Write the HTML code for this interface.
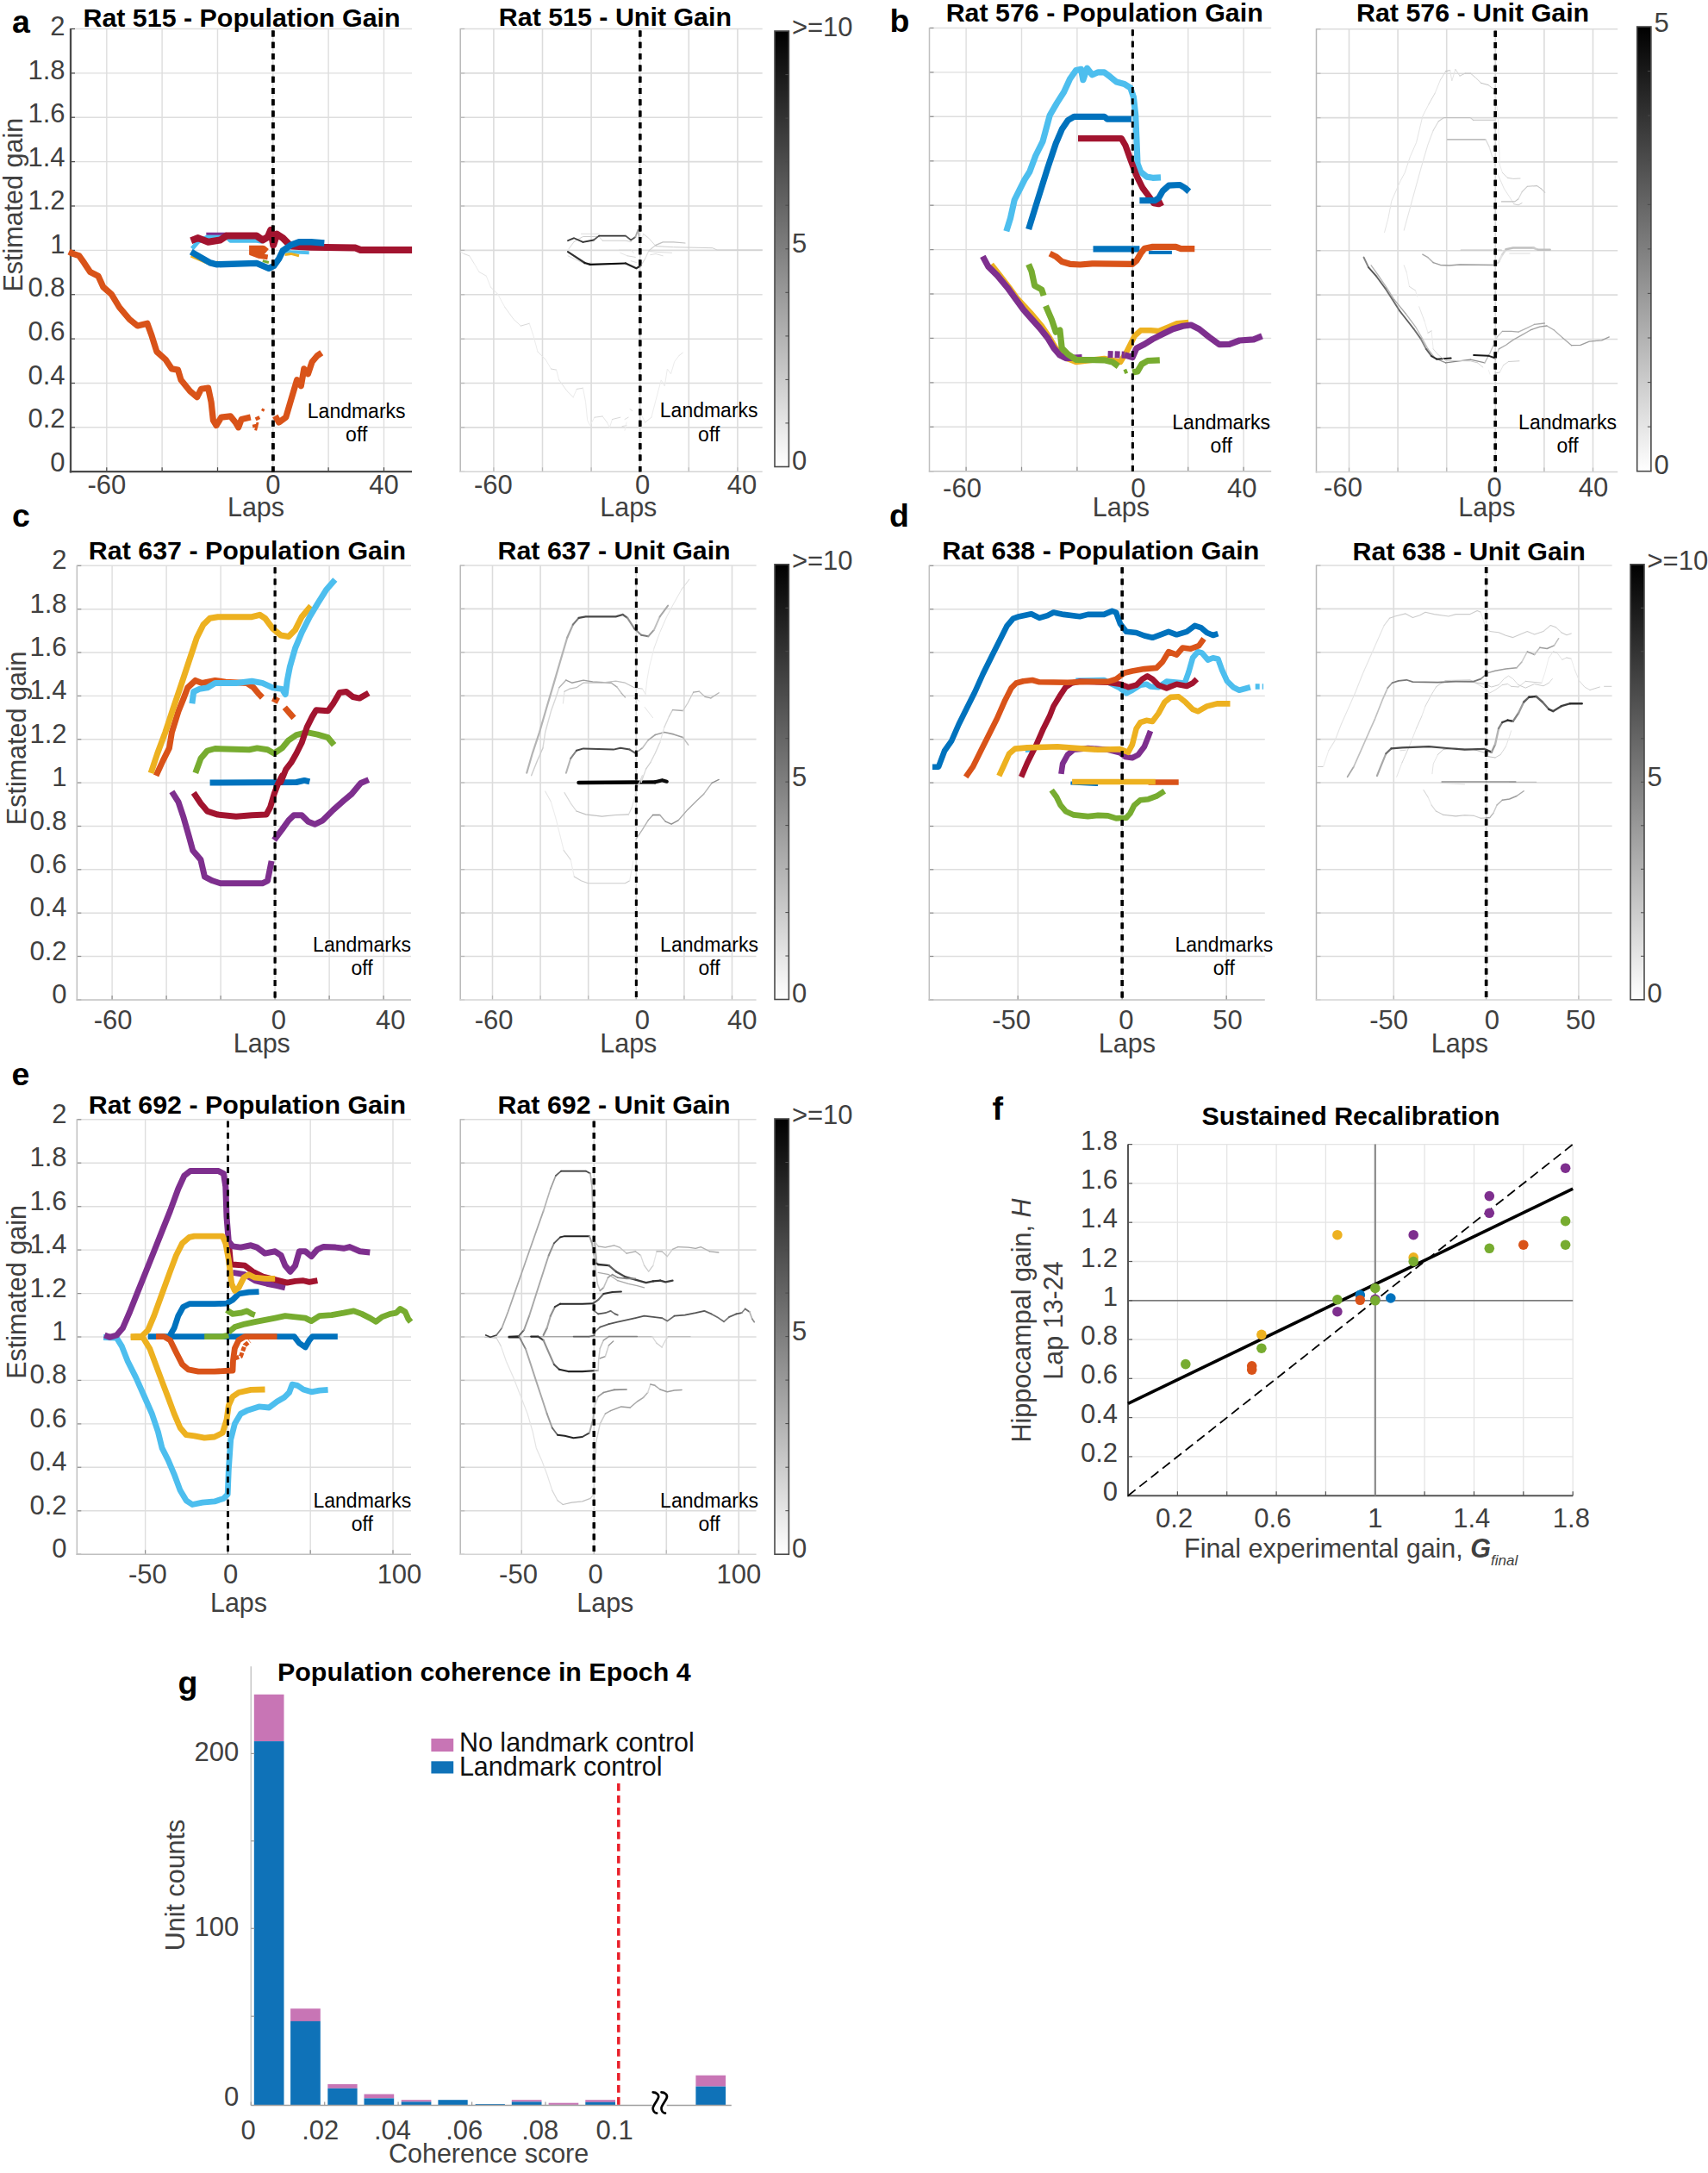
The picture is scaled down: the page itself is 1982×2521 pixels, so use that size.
<!DOCTYPE html>
<html><head><meta charset="utf-8"><title>Figure</title>
<style>html,body{margin:0;padding:0;background:#fff}svg{display:block}</style>
</head><body>
<svg width="1982" height="2521" viewBox="0 0 1982 2521" font-family='"Liberation Sans", sans-serif'>
<defs><linearGradient id="cb" x1="0" y1="0" x2="0" y2="1"><stop offset="0" stop-color="#000"/><stop offset="0.5" stop-color="#7f7f7f"/><stop offset="1" stop-color="#fff"/></linearGradient></defs>
<rect width="1982" height="2521" fill="#fff"/>
<line x1="123.8" y1="33.5" x2="123.8" y2="547.2" stroke="#dedede" stroke-width="1.4" />
<line x1="123.8" y1="547.2" x2="123.8" y2="542.2" stroke="#4a4a4a" stroke-width="1.2" />
<line x1="188.1" y1="33.5" x2="188.1" y2="547.2" stroke="#dedede" stroke-width="1.4" />
<line x1="188.1" y1="547.2" x2="188.1" y2="542.2" stroke="#4a4a4a" stroke-width="1.2" />
<line x1="252.5" y1="33.5" x2="252.5" y2="547.2" stroke="#dedede" stroke-width="1.4" />
<line x1="252.5" y1="547.2" x2="252.5" y2="542.2" stroke="#4a4a4a" stroke-width="1.2" />
<line x1="316.8" y1="33.5" x2="316.8" y2="547.2" stroke="#dedede" stroke-width="1.4" />
<line x1="316.8" y1="547.2" x2="316.8" y2="542.2" stroke="#4a4a4a" stroke-width="1.2" />
<line x1="381.1" y1="33.5" x2="381.1" y2="547.2" stroke="#dedede" stroke-width="1.4" />
<line x1="381.1" y1="547.2" x2="381.1" y2="542.2" stroke="#4a4a4a" stroke-width="1.2" />
<line x1="445.5" y1="33.5" x2="445.5" y2="547.2" stroke="#dedede" stroke-width="1.4" />
<line x1="445.5" y1="547.2" x2="445.5" y2="542.2" stroke="#4a4a4a" stroke-width="1.2" />
<line x1="82" y1="547.2" x2="87" y2="547.2" stroke="#4a4a4a" stroke-width="1.2" />
<line x1="82" y1="495.8" x2="478" y2="495.8" stroke="#dedede" stroke-width="1.4" />
<line x1="82" y1="495.8" x2="87" y2="495.8" stroke="#4a4a4a" stroke-width="1.2" />
<line x1="82" y1="444.5" x2="478" y2="444.5" stroke="#dedede" stroke-width="1.4" />
<line x1="82" y1="444.5" x2="87" y2="444.5" stroke="#4a4a4a" stroke-width="1.2" />
<line x1="82" y1="393.1" x2="478" y2="393.1" stroke="#dedede" stroke-width="1.4" />
<line x1="82" y1="393.1" x2="87" y2="393.1" stroke="#4a4a4a" stroke-width="1.2" />
<line x1="82" y1="341.7" x2="478" y2="341.7" stroke="#dedede" stroke-width="1.4" />
<line x1="82" y1="341.7" x2="87" y2="341.7" stroke="#4a4a4a" stroke-width="1.2" />
<line x1="82" y1="290.4" x2="478" y2="290.4" stroke="#dedede" stroke-width="1.4" />
<line x1="82" y1="290.4" x2="87" y2="290.4" stroke="#4a4a4a" stroke-width="1.2" />
<line x1="82" y1="239" x2="478" y2="239" stroke="#dedede" stroke-width="1.4" />
<line x1="82" y1="239" x2="87" y2="239" stroke="#4a4a4a" stroke-width="1.2" />
<line x1="82" y1="187.6" x2="478" y2="187.6" stroke="#dedede" stroke-width="1.4" />
<line x1="82" y1="187.6" x2="87" y2="187.6" stroke="#4a4a4a" stroke-width="1.2" />
<line x1="82" y1="136.2" x2="478" y2="136.2" stroke="#dedede" stroke-width="1.4" />
<line x1="82" y1="136.2" x2="87" y2="136.2" stroke="#4a4a4a" stroke-width="1.2" />
<line x1="82" y1="84.9" x2="478" y2="84.9" stroke="#dedede" stroke-width="1.4" />
<line x1="82" y1="84.9" x2="87" y2="84.9" stroke="#4a4a4a" stroke-width="1.2" />
<line x1="82" y1="33.5" x2="478" y2="33.5" stroke="#dedede" stroke-width="1.4" />
<line x1="82" y1="33.5" x2="87" y2="33.5" stroke="#4a4a4a" stroke-width="1.2" />
<line x1="82" y1="33" x2="82" y2="548.4" stroke="#4a4a4a" stroke-width="2.3" />
<line x1="80.8" y1="547.2" x2="478" y2="547.2" stroke="#4a4a4a" stroke-width="2.3" />
<line x1="316.8" y1="35.5" x2="316.8" y2="547.2" stroke="#000" stroke-width="3.6" stroke-dasharray="7 6.3"/>
<text x="123.8" y="573.3" font-size="31" text-anchor="middle" font-weight="normal" fill="#404040" >-60</text>
<text x="316.8" y="573.3" font-size="31" text-anchor="middle" font-weight="normal" fill="#404040" >0</text>
<text x="445.5" y="573.3" font-size="31" text-anchor="middle" font-weight="normal" fill="#404040" >40</text>
<text x="297" y="598.8" font-size="30.5" text-anchor="middle" font-weight="normal" fill="#404040" >Laps</text>
<text x="280.5" y="30.6" font-size="30.4" text-anchor="middle" font-weight="bold" fill="#000" >Rat 515 - Population Gain</text>
<text x="75.5" y="546.6" font-size="31" text-anchor="end" font-weight="normal" fill="#404040" >0</text>
<text x="75.5" y="496" font-size="31" text-anchor="end" font-weight="normal" fill="#404040" >0.2</text>
<text x="75.5" y="445.5" font-size="31" text-anchor="end" font-weight="normal" fill="#404040" >0.4</text>
<text x="75.5" y="394.9" font-size="31" text-anchor="end" font-weight="normal" fill="#404040" >0.6</text>
<text x="75.5" y="344.3" font-size="31" text-anchor="end" font-weight="normal" fill="#404040" >0.8</text>
<text x="75.5" y="293.8" font-size="31" text-anchor="end" font-weight="normal" fill="#404040" >1</text>
<text x="75.5" y="243.2" font-size="31" text-anchor="end" font-weight="normal" fill="#404040" >1.2</text>
<text x="75.5" y="192.6" font-size="31" text-anchor="end" font-weight="normal" fill="#404040" >1.4</text>
<text x="75.5" y="142" font-size="31" text-anchor="end" font-weight="normal" fill="#404040" >1.6</text>
<text x="75.5" y="91.5" font-size="31" text-anchor="end" font-weight="normal" fill="#404040" >1.8</text>
<text x="75.5" y="40.9" font-size="31" text-anchor="end" font-weight="normal" fill="#404040" >2</text>
<text x="26.5" y="237.7" font-size="30.5" text-anchor="middle" font-weight="normal" fill="#404040" transform="rotate(-90 26.5 237.7)">Estimated gain</text>
<text x="413.7" y="485.1" font-size="23" text-anchor="middle" font-weight="normal" fill="#000" >Landmarks</text>
<text x="413.7" y="512.4" font-size="23" text-anchor="middle" font-weight="normal" fill="#000" >off</text>
<polyline points="222.9,288.5 229.9,280.4 241.6,274.5 262.7,274.5 267.4,279.2 297.8,279.2 304.8,280.4" fill="none" stroke="#4DBEEE" stroke-width="5" stroke-linejoin="round" stroke-linecap="butt"/>
<polyline points="328.2,291.4 337.6,292.3 358.7,293.2" fill="none" stroke="#4DBEEE" stroke-width="4" stroke-linejoin="round" stroke-linecap="butt"/>
<polyline points="221.7,296.7 243.9,306.1 253.3,304.5" fill="none" stroke="#EDB120" stroke-width="4" stroke-linejoin="round" stroke-linecap="butt"/>
<polyline points="330.6,295.6 337.6,294.4 347,296.7" fill="none" stroke="#EDB120" stroke-width="3" stroke-linejoin="round" stroke-linecap="butt"/>
<polyline points="239.3,271.2 262.7,271.2" fill="none" stroke="#7E2F8E" stroke-width="3" stroke-linejoin="round" stroke-linecap="butt"/>
<polyline points="289.1,290.2 304.8,290.2 308.3,293.2" fill="none" stroke="#D95319" stroke-width="11" stroke-linejoin="round" stroke-linecap="butt"/>
<polyline points="290.8,293.2 300.1,296.7 310.7,298.4" fill="none" stroke="#D95319" stroke-width="6" stroke-linejoin="round" stroke-linecap="butt"/>
<polyline points="304.8,302.6 311.9,304.5" fill="none" stroke="#77AC30" stroke-width="3" stroke-linejoin="round" stroke-linecap="butt"/>
<polyline points="80,292.1 84.7,294.4 91.7,296.7 97.6,304.9 104.6,315.5 114,320.2 119.8,333 129.2,341.2 138.5,356.5 150.3,370.5 159.6,378 170.9,375.2 176,389.3 181.9,408 192.4,417.4 199.4,427.9 206.5,429.1 210,440.8 220.5,453.7 228.7,460.7 233.4,451.3 241.6,450.1 245.1,466.5 247.4,487.6 251,493.5 256.8,484.1 267.4,482.9 273.2,490 276.7,495.8 280.2,486.4 290.8,484.1" fill="none" stroke="#D95319" stroke-width="7.2" stroke-linejoin="round" stroke-linecap="butt"/>
<polyline points="293.1,494.6 299,493.5" fill="none" stroke="#D95319" stroke-width="4" stroke-linejoin="round" stroke-linecap="butt"/>
<polyline points="296.6,486.4 301.3,484.1" fill="none" stroke="#D95319" stroke-width="4" stroke-linejoin="round" stroke-linecap="butt"/>
<polyline points="303.7,474.7 306.7,476.4" fill="none" stroke="#D95319" stroke-width="3" stroke-linejoin="round" stroke-linecap="butt"/>
<polyline points="296.6,499.3 299,490" fill="none" stroke="#D95319" stroke-width="3" stroke-linejoin="round" stroke-linecap="butt"/>
<polyline points="319.3,482.5 323.6,490 331.8,484.1 337.6,464.2 344.6,440.8 349.3,447.8 352.8,427.9 357.5,433.7 362.2,419.7 368.1,412.7 373.2,409.2" fill="none" stroke="#D95319" stroke-width="7.2" stroke-linejoin="round" stroke-linecap="butt"/>
<polyline points="221.7,279.2 229.9,276.1 241.6,280.8 255.6,278.5 262.7,273.6 297.8,273.6 304.8,278.5 310.7,275 314.2,266.8 317.2,284.3 321.2,271.5 328.2,276.1 332.9,280.8 337.6,285.5 361,286.7 412.6,287.6 418.4,290 478.1,290" fill="none" stroke="#A2142F" stroke-width="8" stroke-linejoin="round" stroke-linecap="butt"/>
<polyline points="221.7,292.1 243.9,304.9 251,306.8 297.8,305.4 311.9,311.3 317.7,308.5 323.6,300.3 328.2,290.9 337.6,284.3 347,280.8 361,280.8 376.3,282" fill="none" stroke="#0072BD" stroke-width="7.4" stroke-linejoin="round" stroke-linecap="butt"/>
<line x1="316.8" y1="35.5" x2="316.8" y2="547.2" stroke="#000" stroke-width="3.6" stroke-dasharray="7 6.3"/>
<line x1="572.9" y1="33.5" x2="572.9" y2="547.3" stroke="#dcdcdc" stroke-width="1.6" />
<line x1="572.9" y1="547.3" x2="572.9" y2="542.3" stroke="#b8b8b8" stroke-width="1.2" />
<line x1="629.5" y1="33.5" x2="629.5" y2="547.3" stroke="#dcdcdc" stroke-width="1.6" />
<line x1="629.5" y1="547.3" x2="629.5" y2="542.3" stroke="#b8b8b8" stroke-width="1.2" />
<line x1="686.1" y1="33.5" x2="686.1" y2="547.3" stroke="#dcdcdc" stroke-width="1.6" />
<line x1="686.1" y1="547.3" x2="686.1" y2="542.3" stroke="#b8b8b8" stroke-width="1.2" />
<line x1="742.7" y1="33.5" x2="742.7" y2="547.3" stroke="#dcdcdc" stroke-width="1.6" />
<line x1="742.7" y1="547.3" x2="742.7" y2="542.3" stroke="#b8b8b8" stroke-width="1.2" />
<line x1="799.3" y1="33.5" x2="799.3" y2="547.3" stroke="#dcdcdc" stroke-width="1.6" />
<line x1="799.3" y1="547.3" x2="799.3" y2="542.3" stroke="#b8b8b8" stroke-width="1.2" />
<line x1="855.9" y1="33.5" x2="855.9" y2="547.3" stroke="#dcdcdc" stroke-width="1.6" />
<line x1="855.9" y1="547.3" x2="855.9" y2="542.3" stroke="#b8b8b8" stroke-width="1.2" />
<line x1="534.2" y1="547.3" x2="539.2" y2="547.3" stroke="#b8b8b8" stroke-width="1.2" />
<line x1="534.2" y1="495.9" x2="884.7" y2="495.9" stroke="#dcdcdc" stroke-width="1.6" />
<line x1="534.2" y1="495.9" x2="539.2" y2="495.9" stroke="#b8b8b8" stroke-width="1.2" />
<line x1="534.2" y1="444.5" x2="884.7" y2="444.5" stroke="#dcdcdc" stroke-width="1.6" />
<line x1="534.2" y1="444.5" x2="539.2" y2="444.5" stroke="#b8b8b8" stroke-width="1.2" />
<line x1="534.2" y1="393.2" x2="884.7" y2="393.2" stroke="#dcdcdc" stroke-width="1.6" />
<line x1="534.2" y1="393.2" x2="539.2" y2="393.2" stroke="#b8b8b8" stroke-width="1.2" />
<line x1="534.2" y1="341.8" x2="884.7" y2="341.8" stroke="#dcdcdc" stroke-width="1.6" />
<line x1="534.2" y1="341.8" x2="539.2" y2="341.8" stroke="#b8b8b8" stroke-width="1.2" />
<line x1="534.2" y1="290.4" x2="884.7" y2="290.4" stroke="#dcdcdc" stroke-width="1.6" />
<line x1="534.2" y1="290.4" x2="539.2" y2="290.4" stroke="#b8b8b8" stroke-width="1.2" />
<line x1="534.2" y1="239" x2="884.7" y2="239" stroke="#dcdcdc" stroke-width="1.6" />
<line x1="534.2" y1="239" x2="539.2" y2="239" stroke="#b8b8b8" stroke-width="1.2" />
<line x1="534.2" y1="187.6" x2="884.7" y2="187.6" stroke="#dcdcdc" stroke-width="1.6" />
<line x1="534.2" y1="187.6" x2="539.2" y2="187.6" stroke="#b8b8b8" stroke-width="1.2" />
<line x1="534.2" y1="136.3" x2="884.7" y2="136.3" stroke="#dcdcdc" stroke-width="1.6" />
<line x1="534.2" y1="136.3" x2="539.2" y2="136.3" stroke="#b8b8b8" stroke-width="1.2" />
<line x1="534.2" y1="84.9" x2="884.7" y2="84.9" stroke="#dcdcdc" stroke-width="1.6" />
<line x1="534.2" y1="84.9" x2="539.2" y2="84.9" stroke="#b8b8b8" stroke-width="1.2" />
<line x1="534.2" y1="33.5" x2="884.7" y2="33.5" stroke="#dcdcdc" stroke-width="1.6" />
<line x1="534.2" y1="33.5" x2="539.2" y2="33.5" stroke="#b8b8b8" stroke-width="1.2" />
<line x1="534.2" y1="33" x2="534.2" y2="548" stroke="#b8b8b8" stroke-width="1.5" />
<line x1="533.5" y1="547.3" x2="884.7" y2="547.3" stroke="#d4d4d4" stroke-width="1.5" />
<line x1="742.7" y1="35.5" x2="742.7" y2="547.3" stroke="#000" stroke-width="3.4" stroke-dasharray="7 6.3"/>
<text x="572.3" y="572.5" font-size="31" text-anchor="middle" font-weight="normal" fill="#404040" >-60</text>
<text x="745.7" y="572.5" font-size="31" text-anchor="middle" font-weight="normal" fill="#404040" >0</text>
<text x="860.9" y="572.5" font-size="31" text-anchor="middle" font-weight="normal" fill="#404040" >40</text>
<text x="729.3" y="599" font-size="30.5" text-anchor="middle" font-weight="normal" fill="#404040" >Laps</text>
<text x="713.9" y="30.4" font-size="30.4" text-anchor="middle" font-weight="bold" fill="#000" >Rat 515 - Unit Gain</text>
<text x="822.7" y="484.2" font-size="23" text-anchor="middle" font-weight="normal" fill="#000" >Landmarks</text>
<text x="822.7" y="511.5" font-size="23" text-anchor="middle" font-weight="normal" fill="#000" >off</text>
<polyline points="660.1,288.6 666.2,280.4" fill="none" stroke="#d8d8d8" stroke-width="1.0" stroke-linejoin="round" stroke-linecap="round"/>
<polyline points="666.2,280.4 676.5,274.5 695.1,274.5" fill="none" stroke="#cccccc" stroke-width="1.0" stroke-linejoin="round" stroke-linecap="round"/>
<polyline points="695.1,274.5 699.2,279.2" fill="none" stroke="#d8d8d8" stroke-width="1.0" stroke-linejoin="round" stroke-linecap="round"/>
<polyline points="699.2,279.2 726,279.2 732.2,280.4" fill="none" stroke="#cccccc" stroke-width="1.0" stroke-linejoin="round" stroke-linecap="round"/>
<polyline points="752.8,291.4 761,292.3 779.5,293.3" fill="none" stroke="#d8d8d8" stroke-width="0.9" stroke-linejoin="round" stroke-linecap="round"/>
<polyline points="659,296.8 678.6,306.2 686.8,304.5" fill="none" stroke="#d8d8d8" stroke-width="0.9" stroke-linejoin="round" stroke-linecap="round"/>
<polyline points="754.8,295.6 761,294.5 769.2,296.8" fill="none" stroke="#d8d8d8" stroke-width="0.9" stroke-linejoin="round" stroke-linecap="round"/>
<polyline points="674.5,271.3 695.1,271.3" fill="none" stroke="#d8d8d8" stroke-width="0.9" stroke-linejoin="round" stroke-linecap="round"/>
<polyline points="718.4,290.2 732.2,290.2" fill="none" stroke="#d8d8d8" stroke-width="1.0" stroke-linejoin="round" stroke-linecap="round"/>
<polyline points="732.2,290.2 735.3,293.3" fill="none" stroke="#e4e4e4" stroke-width="1.0" stroke-linejoin="round" stroke-linecap="round"/>
<polyline points="719.8,293.3 728,296.8" fill="none" stroke="#e4e4e4" stroke-width="1.0" stroke-linejoin="round" stroke-linecap="round"/>
<polyline points="728,296.8 737.3,298.4" fill="none" stroke="#d8d8d8" stroke-width="1.0" stroke-linejoin="round" stroke-linecap="round"/>
<polyline points="732.2,302.7 738.3,304.5" fill="none" stroke="#d8d8d8" stroke-width="0.9" stroke-linejoin="round" stroke-linecap="round"/>
<polyline points="534.4,292.1 538.5,294.5" fill="none" stroke="#e4e4e4" stroke-width="1.0" stroke-linejoin="round" stroke-linecap="round"/>
<polyline points="538.5,294.5 544.7,296.8" fill="none" stroke="#d8d8d8" stroke-width="1.0" stroke-linejoin="round" stroke-linecap="round"/>
<polyline points="544.7,296.8 549.8,305" fill="none" stroke="#e4e4e4" stroke-width="1.0" stroke-linejoin="round" stroke-linecap="round"/>
<polyline points="549.8,305 556,315.5" fill="none" stroke="#ececec" stroke-width="1.0" stroke-linejoin="round" stroke-linecap="round"/>
<polyline points="556,315.5 564.3,320.2" fill="none" stroke="#e4e4e4" stroke-width="1.0" stroke-linejoin="round" stroke-linecap="round"/>
<polyline points="564.3,320.2 569.4,333.1" fill="none" stroke="#ececec" stroke-width="1.0" stroke-linejoin="round" stroke-linecap="round"/>
<polyline points="569.4,333.1 577.7,341.3" fill="none" stroke="#e4e4e4" stroke-width="1.0" stroke-linejoin="round" stroke-linecap="round"/>
<polyline points="577.7,341.3 585.9,356.5" fill="none" stroke="#ececec" stroke-width="1.0" stroke-linejoin="round" stroke-linecap="round"/>
<polyline points="585.9,356.5 596.2,370.6 604.4,378.1" fill="none" stroke="#e4e4e4" stroke-width="1.0" stroke-linejoin="round" stroke-linecap="round"/>
<polyline points="604.4,378.1 614.3,375.3" fill="none" stroke="#d8d8d8" stroke-width="1.0" stroke-linejoin="round" stroke-linecap="round"/>
<polyline points="614.3,375.3 618.9,389.3 624,408.1" fill="none" stroke="#ececec" stroke-width="1.0" stroke-linejoin="round" stroke-linecap="round"/>
<polyline points="624,408.1 633.3,417.4" fill="none" stroke="#e4e4e4" stroke-width="1.0" stroke-linejoin="round" stroke-linecap="round"/>
<polyline points="633.3,417.4 639.5,428" fill="none" stroke="#ececec" stroke-width="1.0" stroke-linejoin="round" stroke-linecap="round"/>
<polyline points="639.5,428 645.6,429.1" fill="none" stroke="#d8d8d8" stroke-width="1.0" stroke-linejoin="round" stroke-linecap="round"/>
<polyline points="645.6,429.1 648.7,440.9" fill="none" stroke="#ececec" stroke-width="1.0" stroke-linejoin="round" stroke-linecap="round"/>
<polyline points="648.7,440.9 658,453.7 665.2,460.8" fill="none" stroke="#e4e4e4" stroke-width="1.0" stroke-linejoin="round" stroke-linecap="round"/>
<polyline points="665.2,460.8 669.3,451.4" fill="none" stroke="#ececec" stroke-width="1.0" stroke-linejoin="round" stroke-linecap="round"/>
<polyline points="669.3,451.4 676.5,450.2" fill="none" stroke="#d8d8d8" stroke-width="1.0" stroke-linejoin="round" stroke-linecap="round"/>
<polyline points="676.5,450.2 679.6,466.6 681.7,487.7 684.8,493.6 689.9,484.2" fill="none" stroke="#ececec" stroke-width="1.0" stroke-linejoin="round" stroke-linecap="round"/>
<polyline points="689.9,484.2 699.2,483" fill="none" stroke="#d8d8d8" stroke-width="1.0" stroke-linejoin="round" stroke-linecap="round"/>
<polyline points="699.2,483 704.4,490" fill="none" stroke="#e4e4e4" stroke-width="1.0" stroke-linejoin="round" stroke-linecap="round"/>
<polyline points="704.4,490 707.4,495.9 710.5,486.5" fill="none" stroke="#ececec" stroke-width="1.0" stroke-linejoin="round" stroke-linecap="round"/>
<polyline points="710.5,486.5 719.8,484.2" fill="none" stroke="#d8d8d8" stroke-width="1.0" stroke-linejoin="round" stroke-linecap="round"/>
<polyline points="721.9,494.7 727,493.6" fill="none" stroke="#d8d8d8" stroke-width="0.9" stroke-linejoin="round" stroke-linecap="round"/>
<polyline points="725,486.5 729.1,484.2" fill="none" stroke="#d8d8d8" stroke-width="0.9" stroke-linejoin="round" stroke-linecap="round"/>
<polyline points="731.1,474.8 733.8,476.5" fill="none" stroke="#d8d8d8" stroke-width="0.9" stroke-linejoin="round" stroke-linecap="round"/>
<polyline points="725,499.4 727,490" fill="none" stroke="#ececec" stroke-width="0.9" stroke-linejoin="round" stroke-linecap="round"/>
<polyline points="744.9,482.5 748.6,490" fill="none" stroke="#ececec" stroke-width="1.0" stroke-linejoin="round" stroke-linecap="round"/>
<polyline points="748.6,490 755.9,484.2" fill="none" stroke="#e4e4e4" stroke-width="1.0" stroke-linejoin="round" stroke-linecap="round"/>
<polyline points="755.9,484.2 761,464.3 767.2,440.9 771.3,447.9 774.4,428 778.5,433.8 782.6,419.8 787.8,412.7" fill="none" stroke="#ececec" stroke-width="1.0" stroke-linejoin="round" stroke-linecap="round"/>
<polyline points="787.8,412.7 792.3,409.2" fill="none" stroke="#e4e4e4" stroke-width="1.0" stroke-linejoin="round" stroke-linecap="round"/>
<polyline points="659,279.2 666.2,276.2 676.5,280.9" fill="none" stroke="#3c3c3c" stroke-width="1.8" stroke-linejoin="round" stroke-linecap="round"/>
<polyline points="676.5,280.9 688.9,278.5" fill="none" stroke="#303030" stroke-width="1.8" stroke-linejoin="round" stroke-linecap="round"/>
<polyline points="688.9,278.5 695.1,273.6" fill="none" stroke="#545454" stroke-width="1.8" stroke-linejoin="round" stroke-linecap="round"/>
<polyline points="695.1,273.6 726,273.6" fill="none" stroke="#303030" stroke-width="1.8" stroke-linejoin="round" stroke-linecap="round"/>
<polyline points="726,273.6 732.2,278.5 737.3,275" fill="none" stroke="#545454" stroke-width="1.8" stroke-linejoin="round" stroke-linecap="round"/>
<polyline points="737.3,275 740.4,266.8" fill="none" stroke="#a8a8a8" stroke-width="1.8" stroke-linejoin="round" stroke-linecap="round"/>
<polyline points="740.4,266.8 742.7,281.9" fill="none" stroke="#b4b4b4" stroke-width="1.8" stroke-linejoin="round" stroke-linecap="round"/>
<polyline points="742.7,281.9 743.1,284.4 746.6,271.5" fill="none" stroke="#ececec" stroke-width="1.0" stroke-linejoin="round" stroke-linecap="round"/>
<polyline points="746.6,271.5 752.8,276.2 756.9,280.9 761,285.6" fill="none" stroke="#d8d8d8" stroke-width="1.0" stroke-linejoin="round" stroke-linecap="round"/>
<polyline points="761,285.6 781.6,286.7 826.9,287.7 832.1,290 884.6,290" fill="none" stroke="#cccccc" stroke-width="1.0" stroke-linejoin="round" stroke-linecap="round"/>
<polyline points="659,292.1 678.6,305" fill="none" stroke="#303030" stroke-width="2.2" stroke-linejoin="round" stroke-linecap="round"/>
<polyline points="678.6,305 684.8,306.9" fill="none" stroke="#181818" stroke-width="2.2" stroke-linejoin="round" stroke-linecap="round"/>
<polyline points="684.8,306.9 726,305.5" fill="none" stroke="#0c0c0c" stroke-width="2.2" stroke-linejoin="round" stroke-linecap="round"/>
<polyline points="726,305.5 738.3,311.3 742.7,308.9" fill="none" stroke="#242424" stroke-width="2.2" stroke-linejoin="round" stroke-linecap="round"/>
<polyline points="742.7,308.9 743.5,308.5" fill="none" stroke="#c0c0c0" stroke-width="1.2" stroke-linejoin="round" stroke-linecap="round"/>
<polyline points="743.5,308.5 748.6,300.3" fill="none" stroke="#d8d8d8" stroke-width="1.2" stroke-linejoin="round" stroke-linecap="round"/>
<polyline points="748.6,300.3 752.8,290.9" fill="none" stroke="#e4e4e4" stroke-width="1.2" stroke-linejoin="round" stroke-linecap="round"/>
<polyline points="752.8,290.9 761,284.4" fill="none" stroke="#cccccc" stroke-width="1.2" stroke-linejoin="round" stroke-linecap="round"/>
<polyline points="761,284.4 769.2,280.9 781.6,280.9 795,282" fill="none" stroke="#c0c0c0" stroke-width="1.2" stroke-linejoin="round" stroke-linecap="round"/>
<line x1="742.7" y1="35.5" x2="742.7" y2="547.3" stroke="#000" stroke-width="3.4" stroke-dasharray="7 6.3"/>
<rect x="899" y="36" width="16.4" height="505.5" fill="url(#cb)" stroke="#4a4a4a" stroke-width="1.6"/>
<line x1="911.4" y1="490.9" x2="915.4" y2="490.9" stroke="#4a4a4a" stroke-width="1" />
<line x1="911.4" y1="440.4" x2="915.4" y2="440.4" stroke="#4a4a4a" stroke-width="1" />
<line x1="911.4" y1="389.9" x2="915.4" y2="389.9" stroke="#4a4a4a" stroke-width="1" />
<line x1="911.4" y1="339.3" x2="915.4" y2="339.3" stroke="#4a4a4a" stroke-width="1" />
<line x1="911.4" y1="288.8" x2="915.4" y2="288.8" stroke="#4a4a4a" stroke-width="1" />
<line x1="911.4" y1="238.2" x2="915.4" y2="238.2" stroke="#4a4a4a" stroke-width="1" />
<line x1="911.4" y1="187.6" x2="915.4" y2="187.6" stroke="#4a4a4a" stroke-width="1" />
<line x1="911.4" y1="137.1" x2="915.4" y2="137.1" stroke="#4a4a4a" stroke-width="1" />
<line x1="911.4" y1="86.6" x2="915.4" y2="86.6" stroke="#4a4a4a" stroke-width="1" />
<text x="918.9" y="545" font-size="31" text-anchor="start" font-weight="normal" fill="#404040" >0</text>
<text x="918.9" y="293.4" font-size="31" text-anchor="start" font-weight="normal" fill="#404040" >5</text>
<text x="918.9" y="41.7" font-size="31" text-anchor="start" font-weight="normal" fill="#404040" >&gt;=10</text>
<line x1="1121.1" y1="32.5" x2="1121.1" y2="546.7" stroke="#dedede" stroke-width="1.4" />
<line x1="1121.1" y1="546.7" x2="1121.1" y2="541.7" stroke="#909090" stroke-width="1.2" />
<line x1="1185.5" y1="32.5" x2="1185.5" y2="546.7" stroke="#dedede" stroke-width="1.4" />
<line x1="1185.5" y1="546.7" x2="1185.5" y2="541.7" stroke="#909090" stroke-width="1.2" />
<line x1="1249.9" y1="32.5" x2="1249.9" y2="546.7" stroke="#dedede" stroke-width="1.4" />
<line x1="1249.9" y1="546.7" x2="1249.9" y2="541.7" stroke="#909090" stroke-width="1.2" />
<line x1="1314.3" y1="32.5" x2="1314.3" y2="546.7" stroke="#dedede" stroke-width="1.4" />
<line x1="1314.3" y1="546.7" x2="1314.3" y2="541.7" stroke="#909090" stroke-width="1.2" />
<line x1="1378.7" y1="32.5" x2="1378.7" y2="546.7" stroke="#dedede" stroke-width="1.4" />
<line x1="1378.7" y1="546.7" x2="1378.7" y2="541.7" stroke="#909090" stroke-width="1.2" />
<line x1="1443.1" y1="32.5" x2="1443.1" y2="546.7" stroke="#dedede" stroke-width="1.4" />
<line x1="1443.1" y1="546.7" x2="1443.1" y2="541.7" stroke="#909090" stroke-width="1.2" />
<line x1="1078.5" y1="546.7" x2="1083.5" y2="546.7" stroke="#909090" stroke-width="1.2" />
<line x1="1078.5" y1="495.3" x2="1475.2" y2="495.3" stroke="#dedede" stroke-width="1.4" />
<line x1="1078.5" y1="495.3" x2="1083.5" y2="495.3" stroke="#909090" stroke-width="1.2" />
<line x1="1078.5" y1="443.9" x2="1475.2" y2="443.9" stroke="#dedede" stroke-width="1.4" />
<line x1="1078.5" y1="443.9" x2="1083.5" y2="443.9" stroke="#909090" stroke-width="1.2" />
<line x1="1078.5" y1="392.4" x2="1475.2" y2="392.4" stroke="#dedede" stroke-width="1.4" />
<line x1="1078.5" y1="392.4" x2="1083.5" y2="392.4" stroke="#909090" stroke-width="1.2" />
<line x1="1078.5" y1="341" x2="1475.2" y2="341" stroke="#dedede" stroke-width="1.4" />
<line x1="1078.5" y1="341" x2="1083.5" y2="341" stroke="#909090" stroke-width="1.2" />
<line x1="1078.5" y1="289.6" x2="1475.2" y2="289.6" stroke="#dedede" stroke-width="1.4" />
<line x1="1078.5" y1="289.6" x2="1083.5" y2="289.6" stroke="#909090" stroke-width="1.2" />
<line x1="1078.5" y1="238.2" x2="1475.2" y2="238.2" stroke="#dedede" stroke-width="1.4" />
<line x1="1078.5" y1="238.2" x2="1083.5" y2="238.2" stroke="#909090" stroke-width="1.2" />
<line x1="1078.5" y1="186.8" x2="1475.2" y2="186.8" stroke="#dedede" stroke-width="1.4" />
<line x1="1078.5" y1="186.8" x2="1083.5" y2="186.8" stroke="#909090" stroke-width="1.2" />
<line x1="1078.5" y1="135.3" x2="1475.2" y2="135.3" stroke="#dedede" stroke-width="1.4" />
<line x1="1078.5" y1="135.3" x2="1083.5" y2="135.3" stroke="#909090" stroke-width="1.2" />
<line x1="1078.5" y1="83.9" x2="1475.2" y2="83.9" stroke="#dedede" stroke-width="1.4" />
<line x1="1078.5" y1="83.9" x2="1083.5" y2="83.9" stroke="#909090" stroke-width="1.2" />
<line x1="1078.5" y1="32.5" x2="1475.2" y2="32.5" stroke="#dedede" stroke-width="1.4" />
<line x1="1078.5" y1="32.5" x2="1083.5" y2="32.5" stroke="#909090" stroke-width="1.2" />
<line x1="1078.5" y1="32" x2="1078.5" y2="547.5" stroke="#c0c0c0" stroke-width="1.5" />
<line x1="1077.8" y1="546.7" x2="1475.2" y2="546.7" stroke="#c0c0c0" stroke-width="1.5" />
<line x1="1314.3" y1="34.5" x2="1314.3" y2="546.7" stroke="#000" stroke-width="2.8" stroke-dasharray="7 6.3"/>
<text x="1116.5" y="576.9" font-size="31" text-anchor="middle" font-weight="normal" fill="#404040" >-60</text>
<text x="1320.9" y="576.9" font-size="31" text-anchor="middle" font-weight="normal" fill="#404040" >0</text>
<text x="1441.2" y="576.9" font-size="31" text-anchor="middle" font-weight="normal" fill="#404040" >40</text>
<text x="1300.9" y="599" font-size="30.5" text-anchor="middle" font-weight="normal" fill="#404040" >Laps</text>
<text x="1281.7" y="25" font-size="30.4" text-anchor="middle" font-weight="bold" fill="#000" >Rat 576 - Population Gain</text>
<text x="1417.2" y="497.6" font-size="23" text-anchor="middle" font-weight="normal" fill="#000" >Landmarks</text>
<text x="1417.2" y="524.9" font-size="23" text-anchor="middle" font-weight="normal" fill="#000" >off</text>
<polyline points="1150.3,306.7 1159.6,318.5 1171.3,333.7 1180.7,346.6 1195.9,363 1208.8,378.2 1218.2,392.2 1225.2,403.9 1234.6,414.5 1248.6,419.9 1281.4,416.1 1300.1,419.9 1307.2,408.6 1311.9,399.3 1316.5,389.9 1323.6,383.3 1335.3,383.3 1344.6,384 1356.3,379.3 1365.7,375.4 1379.3,374" fill="none" stroke="#EDB120" stroke-width="6.6" stroke-linejoin="round" stroke-linecap="butt"/>
<polyline points="1140.4,297.4 1146.7,309.1 1157.3,319.6 1169,333.7 1178.4,346.6 1187.7,359.4 1197.1,370 1206.5,380.5 1215.8,392.2 1222.9,403.9 1229.9,412.1 1236.9,415.6 1255.6,414.5" fill="none" stroke="#7E2F8E" stroke-width="7.2" stroke-linejoin="round" stroke-linecap="butt"/>
<polyline points="1285.6,411 1304.8,411.7" fill="none" stroke="#7E2F8E" stroke-width="8" stroke-linejoin="round" stroke-linecap="butt" stroke-dasharray="6 2"/>
<polyline points="1304.8,411.7 1314.2,414.5 1318.9,403.9 1328.2,399.3 1337.6,393.4 1349.3,387.5 1361,381.7 1372.7,378.2 1382.1,377 1391.5,381.7 1403.2,391.1 1414.9,399.7 1426.6,399.3 1438.3,395 1454.7,393.9 1464.5,389.9" fill="none" stroke="#7E2F8E" stroke-width="7.2" stroke-linejoin="round" stroke-linecap="butt"/>
<polyline points="1193.6,306.7 1197.1,314.9 1200.6,331.3 1208.8,336 1211.1,343" fill="none" stroke="#77AC30" stroke-width="7.2" stroke-linejoin="round" stroke-linecap="butt"/>
<polyline points="1213.5,354.8 1220.5,371.1 1225.2,385.2 1229.9,382.9 1232.2,403.9 1239.3,411 1248.6,417.3 1281.4,417.8 1290.8,419.9 1297.8,425" fill="none" stroke="#77AC30" stroke-width="7.2" stroke-linejoin="round" stroke-linecap="butt"/>
<polyline points="1305.3,428.5 1307.2,433.2" fill="none" stroke="#77AC30" stroke-width="4" stroke-linejoin="round" stroke-linecap="butt"/>
<polyline points="1314.2,432 1320,430.9 1324.7,422.7 1331.8,418.5 1345.8,417.8" fill="none" stroke="#77AC30" stroke-width="7.2" stroke-linejoin="round" stroke-linecap="butt"/>
<polyline points="1167.8,268.3 1172.5,253.1 1177.2,232 1183,220.3 1188.9,208.6 1194.8,199.3 1201.8,180.5 1210,164.1 1218.2,133.7 1226.4,119.6 1234.6,106.7 1241.6,91.5 1248.6,81.5 1254.5,80.3 1256.8,92.7 1261.5,79.1 1267.4,86.8 1274.4,83.8 1281.4,83.8 1288.4,89.2 1295.5,95 1304.8,97.4 1311.9,102.1 1315.4,112.6 1317.7,133.7 1318.9,161.8 1320,189.9 1323.6,199.3 1330.6,205.1 1337.6,206.3 1347,205.8" fill="none" stroke="#4DBEEE" stroke-width="7.2" stroke-linejoin="round" stroke-linecap="butt"/>
<polyline points="1193.6,266 1204.1,232 1215.8,194.6 1225.2,166.5 1232.2,150.1 1239.3,139.5 1246.3,135.3 1281.4,135.3 1284.9,138.1 1313,138.1" fill="none" stroke="#0072BD" stroke-width="7.2" stroke-linejoin="round" stroke-linecap="butt"/>
<polyline points="1251,160.6 1301.3,160.6 1306,168.8 1311.9,185.2 1318.9,203.9 1325.9,218 1332.9,227.4 1338.8,235.6 1344.6,236.7 1349.3,234.4" fill="none" stroke="#A2142F" stroke-width="7.2" stroke-linejoin="round" stroke-linecap="butt"/>
<polyline points="1322.4,232.7 1340,232.7 1344.6,229.7 1349.3,221.5 1356.3,215.2 1369.2,214.5 1375.1,218 1379.8,222.2" fill="none" stroke="#0072BD" stroke-width="7.2" stroke-linejoin="round" stroke-linecap="butt"/>
<polyline points="1268.5,288.9 1322.4,288.9" fill="none" stroke="#0072BD" stroke-width="7.2" stroke-linejoin="round" stroke-linecap="butt"/>
<polyline points="1332.9,292.9 1359.9,292.9" fill="none" stroke="#0072BD" stroke-width="4" stroke-linejoin="round" stroke-linecap="butt"/>
<polyline points="1218.2,294.1 1225.2,297.6 1232.2,303.5 1241.6,306.3 1253.3,307 1267.4,305.8 1314.2,306.3 1318.9,302.3 1323.6,294.1 1328.2,288.2 1337.6,286.4 1364.5,286.4 1370.4,288.7 1386.3,288.7" fill="none" stroke="#D95319" stroke-width="7.2" stroke-linejoin="round" stroke-linecap="butt"/>
<line x1="1314.3" y1="34.5" x2="1314.3" y2="546.7" stroke="#000" stroke-width="2.8" stroke-dasharray="7 6.3"/>
<line x1="1565.5" y1="33.8" x2="1565.5" y2="547.6" stroke="#dcdcdc" stroke-width="1.6" />
<line x1="1565.5" y1="547.6" x2="1565.5" y2="542.6" stroke="#b8b8b8" stroke-width="1.2" />
<line x1="1622.1" y1="33.8" x2="1622.1" y2="547.6" stroke="#dcdcdc" stroke-width="1.6" />
<line x1="1622.1" y1="547.6" x2="1622.1" y2="542.6" stroke="#b8b8b8" stroke-width="1.2" />
<line x1="1678.7" y1="33.8" x2="1678.7" y2="547.6" stroke="#dcdcdc" stroke-width="1.6" />
<line x1="1678.7" y1="547.6" x2="1678.7" y2="542.6" stroke="#b8b8b8" stroke-width="1.2" />
<line x1="1735.3" y1="33.8" x2="1735.3" y2="547.6" stroke="#dcdcdc" stroke-width="1.6" />
<line x1="1735.3" y1="547.6" x2="1735.3" y2="542.6" stroke="#b8b8b8" stroke-width="1.2" />
<line x1="1791.9" y1="33.8" x2="1791.9" y2="547.6" stroke="#dcdcdc" stroke-width="1.6" />
<line x1="1791.9" y1="547.6" x2="1791.9" y2="542.6" stroke="#b8b8b8" stroke-width="1.2" />
<line x1="1848.5" y1="33.8" x2="1848.5" y2="547.6" stroke="#dcdcdc" stroke-width="1.6" />
<line x1="1848.5" y1="547.6" x2="1848.5" y2="542.6" stroke="#b8b8b8" stroke-width="1.2" />
<line x1="1527.5" y1="547.6" x2="1532.5" y2="547.6" stroke="#b8b8b8" stroke-width="1.2" />
<line x1="1527.5" y1="496.2" x2="1877.2" y2="496.2" stroke="#dcdcdc" stroke-width="1.6" />
<line x1="1527.5" y1="496.2" x2="1532.5" y2="496.2" stroke="#b8b8b8" stroke-width="1.2" />
<line x1="1527.5" y1="444.8" x2="1877.2" y2="444.8" stroke="#dcdcdc" stroke-width="1.6" />
<line x1="1527.5" y1="444.8" x2="1532.5" y2="444.8" stroke="#b8b8b8" stroke-width="1.2" />
<line x1="1527.5" y1="393.5" x2="1877.2" y2="393.5" stroke="#dcdcdc" stroke-width="1.6" />
<line x1="1527.5" y1="393.5" x2="1532.5" y2="393.5" stroke="#b8b8b8" stroke-width="1.2" />
<line x1="1527.5" y1="342.1" x2="1877.2" y2="342.1" stroke="#dcdcdc" stroke-width="1.6" />
<line x1="1527.5" y1="342.1" x2="1532.5" y2="342.1" stroke="#b8b8b8" stroke-width="1.2" />
<line x1="1527.5" y1="290.7" x2="1877.2" y2="290.7" stroke="#dcdcdc" stroke-width="1.6" />
<line x1="1527.5" y1="290.7" x2="1532.5" y2="290.7" stroke="#b8b8b8" stroke-width="1.2" />
<line x1="1527.5" y1="239.3" x2="1877.2" y2="239.3" stroke="#dcdcdc" stroke-width="1.6" />
<line x1="1527.5" y1="239.3" x2="1532.5" y2="239.3" stroke="#b8b8b8" stroke-width="1.2" />
<line x1="1527.5" y1="187.9" x2="1877.2" y2="187.9" stroke="#dcdcdc" stroke-width="1.6" />
<line x1="1527.5" y1="187.9" x2="1532.5" y2="187.9" stroke="#b8b8b8" stroke-width="1.2" />
<line x1="1527.5" y1="136.6" x2="1877.2" y2="136.6" stroke="#dcdcdc" stroke-width="1.6" />
<line x1="1527.5" y1="136.6" x2="1532.5" y2="136.6" stroke="#b8b8b8" stroke-width="1.2" />
<line x1="1527.5" y1="85.2" x2="1877.2" y2="85.2" stroke="#dcdcdc" stroke-width="1.6" />
<line x1="1527.5" y1="85.2" x2="1532.5" y2="85.2" stroke="#b8b8b8" stroke-width="1.2" />
<line x1="1527.5" y1="33.8" x2="1877.2" y2="33.8" stroke="#dcdcdc" stroke-width="1.6" />
<line x1="1527.5" y1="33.8" x2="1532.5" y2="33.8" stroke="#b8b8b8" stroke-width="1.2" />
<line x1="1527.5" y1="33.3" x2="1527.5" y2="548.4" stroke="#b8b8b8" stroke-width="1.5" />
<line x1="1526.8" y1="547.6" x2="1877.2" y2="547.6" stroke="#d4d4d4" stroke-width="1.5" />
<line x1="1735.3" y1="35.8" x2="1735.3" y2="547.6" stroke="#000" stroke-width="3.4" stroke-dasharray="7 6.3"/>
<text x="1558.5" y="576.4" font-size="31" text-anchor="middle" font-weight="normal" fill="#404040" >-60</text>
<text x="1734" y="576.4" font-size="31" text-anchor="middle" font-weight="normal" fill="#404040" >0</text>
<text x="1848.9" y="576.4" font-size="31" text-anchor="middle" font-weight="normal" fill="#404040" >40</text>
<text x="1725.4" y="599" font-size="30.5" text-anchor="middle" font-weight="normal" fill="#404040" >Laps</text>
<text x="1709.1" y="25" font-size="30.4" text-anchor="middle" font-weight="bold" fill="#000" >Rat 576 - Unit Gain</text>
<text x="1819" y="497.5" font-size="23" text-anchor="middle" font-weight="normal" fill="#000" >Landmarks</text>
<text x="1819" y="524.8" font-size="23" text-anchor="middle" font-weight="normal" fill="#000" >off</text>
<polyline points="1591.1,307.8 1599.4,319.5 1609.7,334.7 1617.9,347.6" fill="none" stroke="#b4b4b4" stroke-width="1.3" stroke-linejoin="round" stroke-linecap="round"/>
<polyline points="1617.9,347.6 1631.3,364" fill="none" stroke="#a8a8a8" stroke-width="1.3" stroke-linejoin="round" stroke-linecap="round"/>
<polyline points="1631.3,364 1642.6,379.2" fill="none" stroke="#b4b4b4" stroke-width="1.3" stroke-linejoin="round" stroke-linecap="round"/>
<polyline points="1642.6,379.2 1650.8,393.2 1657,404.9" fill="none" stroke="#c0c0c0" stroke-width="1.3" stroke-linejoin="round" stroke-linecap="round"/>
<polyline points="1657,404.9 1665.2,415.5" fill="none" stroke="#b4b4b4" stroke-width="1.3" stroke-linejoin="round" stroke-linecap="round"/>
<polyline points="1665.2,415.5 1677.6,420.9" fill="none" stroke="#909090" stroke-width="1.3" stroke-linejoin="round" stroke-linecap="round"/>
<polyline points="1677.6,420.9 1706.4,417.1" fill="none" stroke="#848484" stroke-width="1.3" stroke-linejoin="round" stroke-linecap="round"/>
<polyline points="1706.4,417.1 1722.9,420.9" fill="none" stroke="#909090" stroke-width="1.3" stroke-linejoin="round" stroke-linecap="round"/>
<polyline points="1722.9,420.9 1729,409.6 1733.1,400.3 1735.3,395.4" fill="none" stroke="#c0c0c0" stroke-width="1.3" stroke-linejoin="round" stroke-linecap="round"/>
<polyline points="1735.3,395.4 1737.3,390.9" fill="none" stroke="#d8d8d8" stroke-width="1.3" stroke-linejoin="round" stroke-linecap="round"/>
<polyline points="1737.3,390.9 1743.4,384.4" fill="none" stroke="#c0c0c0" stroke-width="1.3" stroke-linejoin="round" stroke-linecap="round"/>
<polyline points="1743.4,384.4 1753.7,384.4 1762,385.1" fill="none" stroke="#a8a8a8" stroke-width="1.3" stroke-linejoin="round" stroke-linecap="round"/>
<polyline points="1762,385.1 1772.3,380.4 1780.5,376.4" fill="none" stroke="#b4b4b4" stroke-width="1.3" stroke-linejoin="round" stroke-linecap="round"/>
<polyline points="1780.5,376.4 1792.4,375" fill="none" stroke="#a8a8a8" stroke-width="1.3" stroke-linejoin="round" stroke-linecap="round"/>
<polyline points="1582.5,298.5 1588,310.2" fill="none" stroke="#848484" stroke-width="1.9" stroke-linejoin="round" stroke-linecap="round"/>
<polyline points="1588,310.2 1597.3,320.7" fill="none" stroke="#545454" stroke-width="1.9" stroke-linejoin="round" stroke-linecap="round"/>
<polyline points="1597.3,320.7 1607.6,334.7" fill="none" stroke="#606060" stroke-width="1.9" stroke-linejoin="round" stroke-linecap="round"/>
<polyline points="1607.6,334.7 1615.8,347.6 1624.1,360.5" fill="none" stroke="#6c6c6c" stroke-width="1.9" stroke-linejoin="round" stroke-linecap="round"/>
<polyline points="1624.1,360.5 1632.3,371 1640.5,381.5" fill="none" stroke="#606060" stroke-width="1.9" stroke-linejoin="round" stroke-linecap="round"/>
<polyline points="1640.5,381.5 1648.8,393.2" fill="none" stroke="#6c6c6c" stroke-width="1.9" stroke-linejoin="round" stroke-linecap="round"/>
<polyline points="1648.8,393.2 1654.9,404.9" fill="none" stroke="#848484" stroke-width="1.9" stroke-linejoin="round" stroke-linecap="round"/>
<polyline points="1654.9,404.9 1661.1,413.1" fill="none" stroke="#606060" stroke-width="1.9" stroke-linejoin="round" stroke-linecap="round"/>
<polyline points="1661.1,413.1 1667.3,416.6" fill="none" stroke="#303030" stroke-width="1.9" stroke-linejoin="round" stroke-linecap="round"/>
<polyline points="1667.3,416.6 1683.7,415.5" fill="none" stroke="#181818" stroke-width="1.9" stroke-linejoin="round" stroke-linecap="round"/>
<polyline points="1710.1,412 1727,412.7" fill="none" stroke="#181818" stroke-width="1.9" stroke-linejoin="round" stroke-linecap="round"/>
<polyline points="1727,412.7 1735.2,415.5" fill="none" stroke="#242424" stroke-width="1.9" stroke-linejoin="round" stroke-linecap="round"/>
<polyline points="1735.2,415.5 1735.3,415.2" fill="none" stroke="#9c9c9c" stroke-width="1.9" stroke-linejoin="round" stroke-linecap="round"/>
<polyline points="1735.3,415.2 1739.3,404.9" fill="none" stroke="#cccccc" stroke-width="1.3" stroke-linejoin="round" stroke-linecap="round"/>
<polyline points="1739.3,404.9 1747.6,400.3 1755.8,394.4 1766.1,388.6 1776.4,382.7" fill="none" stroke="#a8a8a8" stroke-width="1.3" stroke-linejoin="round" stroke-linecap="round"/>
<polyline points="1776.4,382.7 1786.7,379.2 1794.9,378" fill="none" stroke="#9c9c9c" stroke-width="1.3" stroke-linejoin="round" stroke-linecap="round"/>
<polyline points="1794.9,378 1803.1,382.7" fill="none" stroke="#a8a8a8" stroke-width="1.3" stroke-linejoin="round" stroke-linecap="round"/>
<polyline points="1803.1,382.7 1813.4,392.1" fill="none" stroke="#b4b4b4" stroke-width="1.3" stroke-linejoin="round" stroke-linecap="round"/>
<polyline points="1813.4,392.1 1823.7,400.7" fill="none" stroke="#a8a8a8" stroke-width="1.3" stroke-linejoin="round" stroke-linecap="round"/>
<polyline points="1823.7,400.7 1834,400.3 1844.3,396.1 1858.7,394.9 1867.3,390.9" fill="none" stroke="#9c9c9c" stroke-width="1.3" stroke-linejoin="round" stroke-linecap="round"/>
<polyline points="1629.2,307.8 1632.3,316" fill="none" stroke="#e4e4e4" stroke-width="1.0" stroke-linejoin="round" stroke-linecap="round"/>
<polyline points="1632.3,316 1635.4,332.4" fill="none" stroke="#ececec" stroke-width="1.0" stroke-linejoin="round" stroke-linecap="round"/>
<polyline points="1635.4,332.4 1642.6,337.1" fill="none" stroke="#d8d8d8" stroke-width="1.0" stroke-linejoin="round" stroke-linecap="round"/>
<polyline points="1642.6,337.1 1644.6,344.1" fill="none" stroke="#ececec" stroke-width="1.0" stroke-linejoin="round" stroke-linecap="round"/>
<polyline points="1646.7,355.8 1652.9,372.2" fill="none" stroke="#e4e4e4" stroke-width="1.0" stroke-linejoin="round" stroke-linecap="round"/>
<polyline points="1652.9,372.2 1657,386.2" fill="none" stroke="#ececec" stroke-width="1.0" stroke-linejoin="round" stroke-linecap="round"/>
<polyline points="1657,386.2 1661.1,383.9" fill="none" stroke="#cccccc" stroke-width="1.0" stroke-linejoin="round" stroke-linecap="round"/>
<polyline points="1661.1,383.9 1663.2,404.9" fill="none" stroke="#ececec" stroke-width="1.0" stroke-linejoin="round" stroke-linecap="round"/>
<polyline points="1663.2,404.9 1669.3,412 1677.6,418.3" fill="none" stroke="#d8d8d8" stroke-width="1.0" stroke-linejoin="round" stroke-linecap="round"/>
<polyline points="1677.6,418.3 1706.4,418.8 1714.6,420.9" fill="none" stroke="#cccccc" stroke-width="1.0" stroke-linejoin="round" stroke-linecap="round"/>
<polyline points="1714.6,420.9 1720.8,426" fill="none" stroke="#d8d8d8" stroke-width="1.0" stroke-linejoin="round" stroke-linecap="round"/>
<polyline points="1727.4,429.5 1729,434.2" fill="none" stroke="#ececec" stroke-width="0.9" stroke-linejoin="round" stroke-linecap="round"/>
<polyline points="1735.2,433 1735.3,433" fill="none" stroke="#cccccc" stroke-width="1.0" stroke-linejoin="round" stroke-linecap="round"/>
<polyline points="1735.3,433 1740.4,431.9" fill="none" stroke="#cccccc" stroke-width="1.0" stroke-linejoin="round" stroke-linecap="round"/>
<polyline points="1740.4,431.9 1744.5,423.7" fill="none" stroke="#e4e4e4" stroke-width="1.0" stroke-linejoin="round" stroke-linecap="round"/>
<polyline points="1744.5,423.7 1750.6,419.5" fill="none" stroke="#d8d8d8" stroke-width="1.0" stroke-linejoin="round" stroke-linecap="round"/>
<polyline points="1750.6,419.5 1763,418.8" fill="none" stroke="#cccccc" stroke-width="1.0" stroke-linejoin="round" stroke-linecap="round"/>
<polyline points="1606.6,269.5 1610.7,254.2 1614.8,233.2 1619.9,221.5 1625.1,209.8 1630.2,200.4 1636.4,181.7 1643.6,165.3 1650.8,134.9 1658,120.9" fill="none" stroke="#e4e4e4" stroke-width="1.0" stroke-linejoin="round" stroke-linecap="round"/>
<polyline points="1658,120.9 1665.2,108" fill="none" stroke="#d8d8d8" stroke-width="1.0" stroke-linejoin="round" stroke-linecap="round"/>
<polyline points="1665.2,108 1671.4,92.8" fill="none" stroke="#e4e4e4" stroke-width="1.0" stroke-linejoin="round" stroke-linecap="round"/>
<polyline points="1671.4,92.8 1677.6,82.7" fill="none" stroke="#d8d8d8" stroke-width="1.0" stroke-linejoin="round" stroke-linecap="round"/>
<polyline points="1677.6,82.7 1682.7,81.5" fill="none" stroke="#c0c0c0" stroke-width="1.0" stroke-linejoin="round" stroke-linecap="round"/>
<polyline points="1682.7,81.5 1684.8,93.9 1688.9,80.4" fill="none" stroke="#e4e4e4" stroke-width="1.0" stroke-linejoin="round" stroke-linecap="round"/>
<polyline points="1688.9,80.4 1694,88.1" fill="none" stroke="#d8d8d8" stroke-width="1.0" stroke-linejoin="round" stroke-linecap="round"/>
<polyline points="1694,88.1 1700.2,85.1" fill="none" stroke="#cccccc" stroke-width="1.0" stroke-linejoin="round" stroke-linecap="round"/>
<polyline points="1700.2,85.1 1706.4,85.1" fill="none" stroke="#c0c0c0" stroke-width="1.0" stroke-linejoin="round" stroke-linecap="round"/>
<polyline points="1706.4,85.1 1712.6,90.4 1718.7,96.3" fill="none" stroke="#cccccc" stroke-width="1.0" stroke-linejoin="round" stroke-linecap="round"/>
<polyline points="1718.7,96.3 1727,98.6" fill="none" stroke="#c0c0c0" stroke-width="1.0" stroke-linejoin="round" stroke-linecap="round"/>
<polyline points="1727,98.6 1733.1,103.3" fill="none" stroke="#cccccc" stroke-width="1.0" stroke-linejoin="round" stroke-linecap="round"/>
<polyline points="1733.1,103.3 1735.3,110.7" fill="none" stroke="#e4e4e4" stroke-width="1.0" stroke-linejoin="round" stroke-linecap="round"/>
<polyline points="1735.3,110.7 1736.2,113.8 1738.3,134.9 1739.3,163 1740.4,191.1 1743.4,200.4" fill="none" stroke="#ececec" stroke-width="1.0" stroke-linejoin="round" stroke-linecap="round"/>
<polyline points="1743.4,200.4 1749.6,206.3" fill="none" stroke="#d8d8d8" stroke-width="1.0" stroke-linejoin="round" stroke-linecap="round"/>
<polyline points="1749.6,206.3 1755.8,207.4 1764,207" fill="none" stroke="#cccccc" stroke-width="1.0" stroke-linejoin="round" stroke-linecap="round"/>
<polyline points="1629.2,267.1 1638.5,233.2 1648.8,195.7 1657,167.7 1663.2,151.3" fill="none" stroke="#e4e4e4" stroke-width="1.1" stroke-linejoin="round" stroke-linecap="round"/>
<polyline points="1663.2,151.3 1669.3,140.7" fill="none" stroke="#d8d8d8" stroke-width="1.1" stroke-linejoin="round" stroke-linecap="round"/>
<polyline points="1669.3,140.7 1675.5,136.5" fill="none" stroke="#cccccc" stroke-width="1.1" stroke-linejoin="round" stroke-linecap="round"/>
<polyline points="1675.5,136.5 1706.4,136.5" fill="none" stroke="#c0c0c0" stroke-width="1.1" stroke-linejoin="round" stroke-linecap="round"/>
<polyline points="1706.4,136.5 1709.5,139.3" fill="none" stroke="#cccccc" stroke-width="1.1" stroke-linejoin="round" stroke-linecap="round"/>
<polyline points="1709.5,139.3 1734.2,139.3" fill="none" stroke="#c0c0c0" stroke-width="1.1" stroke-linejoin="round" stroke-linecap="round"/>
<polyline points="1679.6,161.8 1723.9,161.8" fill="none" stroke="#a8a8a8" stroke-width="1.2" stroke-linejoin="round" stroke-linecap="round"/>
<polyline points="1723.9,161.8 1728,170" fill="none" stroke="#d8d8d8" stroke-width="1.2" stroke-linejoin="round" stroke-linecap="round"/>
<polyline points="1728,170 1733.1,186.4" fill="none" stroke="#e4e4e4" stroke-width="1.2" stroke-linejoin="round" stroke-linecap="round"/>
<polyline points="1733.1,186.4 1735.3,192.9" fill="none" stroke="#d8d8d8" stroke-width="1.2" stroke-linejoin="round" stroke-linecap="round"/>
<polyline points="1735.3,192.9 1739.3,205.1" fill="none" stroke="#ececec" stroke-width="1.0" stroke-linejoin="round" stroke-linecap="round"/>
<polyline points="1739.3,205.1 1745.5,219.1 1751.7,228.5 1756.8,236.7" fill="none" stroke="#e4e4e4" stroke-width="1.0" stroke-linejoin="round" stroke-linecap="round"/>
<polyline points="1756.8,236.7 1762,237.9 1766.1,235.5" fill="none" stroke="#cccccc" stroke-width="1.0" stroke-linejoin="round" stroke-linecap="round"/>
<polyline points="1742.4,233.9 1757.8,233.9 1762,230.8" fill="none" stroke="#c0c0c0" stroke-width="1.1" stroke-linejoin="round" stroke-linecap="round"/>
<polyline points="1762,230.8 1766.1,222.7" fill="none" stroke="#d8d8d8" stroke-width="1.1" stroke-linejoin="round" stroke-linecap="round"/>
<polyline points="1766.1,222.7 1772.3,216.3" fill="none" stroke="#cccccc" stroke-width="1.1" stroke-linejoin="round" stroke-linecap="round"/>
<polyline points="1772.3,216.3 1783.6,215.6 1788.7,219.1" fill="none" stroke="#c0c0c0" stroke-width="1.1" stroke-linejoin="round" stroke-linecap="round"/>
<polyline points="1788.7,219.1 1792.8,223.4" fill="none" stroke="#cccccc" stroke-width="1.1" stroke-linejoin="round" stroke-linecap="round"/>
<polyline points="1695.1,290 1735.3,290" fill="none" stroke="#c0c0c0" stroke-width="1.1" stroke-linejoin="round" stroke-linecap="round"/>
<polyline points="1735.3,290 1742.4,290" fill="none" stroke="#c0c0c0" stroke-width="1.1" stroke-linejoin="round" stroke-linecap="round"/>
<polyline points="1751.7,294 1775.3,294" fill="none" stroke="#d8d8d8" stroke-width="0.9" stroke-linejoin="round" stroke-linecap="round"/>
<polyline points="1650.8,295.2 1657,298.7" fill="none" stroke="#a8a8a8" stroke-width="1.5" stroke-linejoin="round" stroke-linecap="round"/>
<polyline points="1657,298.7 1663.2,304.6" fill="none" stroke="#b4b4b4" stroke-width="1.5" stroke-linejoin="round" stroke-linecap="round"/>
<polyline points="1663.2,304.6 1671.4,307.4 1681.7,308.1 1694,306.9 1735.2,307.4" fill="none" stroke="#9c9c9c" stroke-width="1.5" stroke-linejoin="round" stroke-linecap="round"/>
<polyline points="1735.2,307.4 1735.3,307.3" fill="none" stroke="#b4b4b4" stroke-width="1.5" stroke-linejoin="round" stroke-linecap="round"/>
<polyline points="1735.3,307.3 1739.3,303.4" fill="none" stroke="#cccccc" stroke-width="2.5" stroke-linejoin="round" stroke-linecap="round"/>
<polyline points="1739.3,303.4 1743.4,295.2" fill="none" stroke="#e4e4e4" stroke-width="2.5" stroke-linejoin="round" stroke-linecap="round"/>
<polyline points="1743.4,295.2 1747.6,289.3" fill="none" stroke="#d8d8d8" stroke-width="2.5" stroke-linejoin="round" stroke-linecap="round"/>
<polyline points="1747.6,289.3 1755.8,287.5 1779.5,287.5" fill="none" stroke="#c0c0c0" stroke-width="2.5" stroke-linejoin="round" stroke-linecap="round"/>
<polyline points="1779.5,287.5 1784.6,289.8" fill="none" stroke="#cccccc" stroke-width="2.5" stroke-linejoin="round" stroke-linecap="round"/>
<polyline points="1784.6,289.8 1798.6,289.8" fill="none" stroke="#c0c0c0" stroke-width="2.5" stroke-linejoin="round" stroke-linecap="round"/>
<line x1="1735.3" y1="35.8" x2="1735.3" y2="547.6" stroke="#000" stroke-width="3.4" stroke-dasharray="7 6.3"/>
<rect x="1899.7" y="31" width="16.2" height="515.7" fill="url(#cb)" stroke="#4a4a4a" stroke-width="1.6"/>
<line x1="1911.9" y1="495.1" x2="1915.9" y2="495.1" stroke="#4a4a4a" stroke-width="1" />
<line x1="1911.9" y1="443.6" x2="1915.9" y2="443.6" stroke="#4a4a4a" stroke-width="1" />
<line x1="1911.9" y1="392" x2="1915.9" y2="392" stroke="#4a4a4a" stroke-width="1" />
<line x1="1911.9" y1="340.4" x2="1915.9" y2="340.4" stroke="#4a4a4a" stroke-width="1" />
<line x1="1911.9" y1="288.9" x2="1915.9" y2="288.9" stroke="#4a4a4a" stroke-width="1" />
<line x1="1911.9" y1="237.3" x2="1915.9" y2="237.3" stroke="#4a4a4a" stroke-width="1" />
<line x1="1911.9" y1="185.7" x2="1915.9" y2="185.7" stroke="#4a4a4a" stroke-width="1" />
<line x1="1911.9" y1="134.1" x2="1915.9" y2="134.1" stroke="#4a4a4a" stroke-width="1" />
<line x1="1911.9" y1="82.6" x2="1915.9" y2="82.6" stroke="#4a4a4a" stroke-width="1" />
<text x="1919.4" y="550.2" font-size="31" text-anchor="start" font-weight="normal" fill="#404040" >0</text>
<text x="1919.4" y="36.7" font-size="31" text-anchor="start" font-weight="normal" fill="#404040" >5</text>
<line x1="130.1" y1="656.3" x2="130.1" y2="1159.9" stroke="#dedede" stroke-width="1.4" />
<line x1="130.1" y1="1159.9" x2="130.1" y2="1154.9" stroke="#909090" stroke-width="1.2" />
<line x1="193.1" y1="656.3" x2="193.1" y2="1159.9" stroke="#dedede" stroke-width="1.4" />
<line x1="193.1" y1="1159.9" x2="193.1" y2="1154.9" stroke="#909090" stroke-width="1.2" />
<line x1="256.1" y1="656.3" x2="256.1" y2="1159.9" stroke="#dedede" stroke-width="1.4" />
<line x1="256.1" y1="1159.9" x2="256.1" y2="1154.9" stroke="#909090" stroke-width="1.2" />
<line x1="319.1" y1="656.3" x2="319.1" y2="1159.9" stroke="#dedede" stroke-width="1.4" />
<line x1="319.1" y1="1159.9" x2="319.1" y2="1154.9" stroke="#909090" stroke-width="1.2" />
<line x1="382.1" y1="656.3" x2="382.1" y2="1159.9" stroke="#dedede" stroke-width="1.4" />
<line x1="382.1" y1="1159.9" x2="382.1" y2="1154.9" stroke="#909090" stroke-width="1.2" />
<line x1="445.1" y1="656.3" x2="445.1" y2="1159.9" stroke="#dedede" stroke-width="1.4" />
<line x1="445.1" y1="1159.9" x2="445.1" y2="1154.9" stroke="#909090" stroke-width="1.2" />
<line x1="89.3" y1="1159.9" x2="94.3" y2="1159.9" stroke="#909090" stroke-width="1.2" />
<line x1="89.3" y1="1109.5" x2="477" y2="1109.5" stroke="#dedede" stroke-width="1.4" />
<line x1="89.3" y1="1109.5" x2="94.3" y2="1109.5" stroke="#909090" stroke-width="1.2" />
<line x1="89.3" y1="1059.2" x2="477" y2="1059.2" stroke="#dedede" stroke-width="1.4" />
<line x1="89.3" y1="1059.2" x2="94.3" y2="1059.2" stroke="#909090" stroke-width="1.2" />
<line x1="89.3" y1="1008.8" x2="477" y2="1008.8" stroke="#dedede" stroke-width="1.4" />
<line x1="89.3" y1="1008.8" x2="94.3" y2="1008.8" stroke="#909090" stroke-width="1.2" />
<line x1="89.3" y1="958.5" x2="477" y2="958.5" stroke="#dedede" stroke-width="1.4" />
<line x1="89.3" y1="958.5" x2="94.3" y2="958.5" stroke="#909090" stroke-width="1.2" />
<line x1="89.3" y1="908.1" x2="477" y2="908.1" stroke="#dedede" stroke-width="1.4" />
<line x1="89.3" y1="908.1" x2="94.3" y2="908.1" stroke="#909090" stroke-width="1.2" />
<line x1="89.3" y1="857.7" x2="477" y2="857.7" stroke="#dedede" stroke-width="1.4" />
<line x1="89.3" y1="857.7" x2="94.3" y2="857.7" stroke="#909090" stroke-width="1.2" />
<line x1="89.3" y1="807.4" x2="477" y2="807.4" stroke="#dedede" stroke-width="1.4" />
<line x1="89.3" y1="807.4" x2="94.3" y2="807.4" stroke="#909090" stroke-width="1.2" />
<line x1="89.3" y1="757" x2="477" y2="757" stroke="#dedede" stroke-width="1.4" />
<line x1="89.3" y1="757" x2="94.3" y2="757" stroke="#909090" stroke-width="1.2" />
<line x1="89.3" y1="706.7" x2="477" y2="706.7" stroke="#dedede" stroke-width="1.4" />
<line x1="89.3" y1="706.7" x2="94.3" y2="706.7" stroke="#909090" stroke-width="1.2" />
<line x1="89.3" y1="656.3" x2="477" y2="656.3" stroke="#dedede" stroke-width="1.4" />
<line x1="89.3" y1="656.3" x2="94.3" y2="656.3" stroke="#909090" stroke-width="1.2" />
<line x1="89.3" y1="655.8" x2="89.3" y2="1160.7" stroke="#c0c0c0" stroke-width="1.5" />
<line x1="88.5" y1="1159.9" x2="477" y2="1159.9" stroke="#c0c0c0" stroke-width="1.5" />
<line x1="319.1" y1="658.3" x2="319.1" y2="1159.9" stroke="#000" stroke-width="2.8" stroke-dasharray="7 6.3"/>
<text x="131.2" y="1193.6" font-size="31" text-anchor="middle" font-weight="normal" fill="#404040" >-60</text>
<text x="323.3" y="1193.6" font-size="31" text-anchor="middle" font-weight="normal" fill="#404040" >0</text>
<text x="453.2" y="1193.6" font-size="31" text-anchor="middle" font-weight="normal" fill="#404040" >40</text>
<text x="303.8" y="1221.1" font-size="30.5" text-anchor="middle" font-weight="normal" fill="#404040" >Laps</text>
<text x="286.9" y="649.4" font-size="30.4" text-anchor="middle" font-weight="bold" fill="#000" >Rat 637 - Population Gain</text>
<text x="77.5" y="1163.9" font-size="31" text-anchor="end" font-weight="normal" fill="#404040" >0</text>
<text x="77.5" y="1113.5" font-size="31" text-anchor="end" font-weight="normal" fill="#404040" >0.2</text>
<text x="77.5" y="1063.2" font-size="31" text-anchor="end" font-weight="normal" fill="#404040" >0.4</text>
<text x="77.5" y="1012.8" font-size="31" text-anchor="end" font-weight="normal" fill="#404040" >0.6</text>
<text x="77.5" y="962.5" font-size="31" text-anchor="end" font-weight="normal" fill="#404040" >0.8</text>
<text x="77.5" y="912.1" font-size="31" text-anchor="end" font-weight="normal" fill="#404040" >1</text>
<text x="77.5" y="861.7" font-size="31" text-anchor="end" font-weight="normal" fill="#404040" >1.2</text>
<text x="77.5" y="811.4" font-size="31" text-anchor="end" font-weight="normal" fill="#404040" >1.4</text>
<text x="77.5" y="761" font-size="31" text-anchor="end" font-weight="normal" fill="#404040" >1.6</text>
<text x="77.5" y="710.7" font-size="31" text-anchor="end" font-weight="normal" fill="#404040" >1.8</text>
<text x="77.5" y="660.3" font-size="31" text-anchor="end" font-weight="normal" fill="#404040" >2</text>
<text x="29.8" y="856.3" font-size="30.5" text-anchor="middle" font-weight="normal" fill="#404040" transform="rotate(-90 29.8 856.3)">Estimated gain</text>
<text x="420" y="1104" font-size="23" text-anchor="middle" font-weight="normal" fill="#000" >Landmarks</text>
<text x="420" y="1131.3" font-size="23" text-anchor="middle" font-weight="normal" fill="#000" >off</text>
<polyline points="181.1,899.9 188.8,883.1 196.4,867.9 199.4,849.6 207,825.3 213.1,810.1 217.7,797.9 226.8,789.4 234.4,792.4 249.6,789.4 261.8,791.2 286.2,792.4 293.8,797.3 299.9,804.6 304.4,809.2" fill="none" stroke="#D95319" stroke-width="7" stroke-linejoin="round" stroke-linecap="butt"/>
<polyline points="316.6,810.1 323.3,813.7" fill="none" stroke="#D95319" stroke-width="7" stroke-linejoin="round" stroke-linecap="butt"/>
<polyline points="330.3,820.7 341,832.9" fill="none" stroke="#D95319" stroke-width="7" stroke-linejoin="round" stroke-linecap="butt"/>
<polyline points="175.1,896.8 182.7,874 191.8,849.6 200.9,822.2 210.1,794.8 219.2,767.4 228.3,740 235.9,724.8 243.6,717.2 252.7,715.7 292.3,715.7 301.4,713.3 307.5,717.2 316.6,729.4 325.8,737 334.9,738.5 342.5,730.9 350.1,715.7 360.8,702.9" fill="none" stroke="#EDB120" stroke-width="7" stroke-linejoin="round" stroke-linecap="butt"/>
<polyline points="222.9,816.2 224.7,802.5 231.4,799.4 240.5,797.9 249.6,792.4 274,792.4 292.3,790.3 304.4,792.4 316.6,797.9 327.3,799.4 331.2,805.5 333.4,788.8 336.4,773.5 342.5,752.2 350.1,734 359.3,715.7 368.4,700.5 379,683.7 388.8,672.5" fill="none" stroke="#4DBEEE" stroke-width="7" stroke-linejoin="round" stroke-linecap="butt"/>
<polyline points="226.8,896.8 232.9,880.1 240.5,871 249.6,868.5 289.2,869.7 298.4,867.9 310.5,869.7 318.1,874 327.3,867.9 334.9,858.8 344,852.7 356.2,849.6 368.4,852.1 380.6,855.7 387.6,864.3" fill="none" stroke="#77AC30" stroke-width="7" stroke-linejoin="round" stroke-linecap="butt"/>
<polyline points="243.6,908.1 344,907.5 353.2,905.4 359.3,906.9" fill="none" stroke="#0072BD" stroke-width="7" stroke-linejoin="round" stroke-linecap="butt"/>
<polyline points="224.7,919.8 232.9,932 240.5,941.1 252.7,945.1 274,947.2 292.3,945.7 309,945.1 313.6,936.5 318.1,921.3 322.7,909.1 327.3,900 325.8,907.5 331.9,892.3 337.9,884.7 344,874 350.1,861.8 356.2,843.6 362.3,831.4 366.9,823.8 380.6,824.7 386.7,816.2 394.3,803.4 401.9,802.5 409.5,808.5 417.1,810.1 427.8,804" fill="none" stroke="#A2142F" stroke-width="7" stroke-linejoin="round" stroke-linecap="butt"/>
<polyline points="199.4,918.3 207,930.4 213.1,948.7 219.2,970 223.8,986.8 232.9,997.4 237.5,1017.2 246.6,1021.8 255.7,1024.8 304.4,1024.8 310.5,1021.8 315.1,998.9" fill="none" stroke="#7E2F8E" stroke-width="7" stroke-linejoin="round" stroke-linecap="butt"/>
<polyline points="318.1,974.6 327.3,962.4 334.9,951.8 341,945.7 350.1,945.7 357.7,953.3 365.3,956.3 374.5,951.8 386.7,939.6 398.8,928.9 408,921.3 418.6,908.5 427.8,904.6" fill="none" stroke="#7E2F8E" stroke-width="7" stroke-linejoin="round" stroke-linecap="butt"/>
<line x1="319.1" y1="658.3" x2="319.1" y2="1159.9" stroke="#000" stroke-width="2.8" stroke-dasharray="7 6.3"/>
<line x1="571.5" y1="656" x2="571.5" y2="1159.9" stroke="#dcdcdc" stroke-width="1.6" />
<line x1="571.5" y1="1159.9" x2="571.5" y2="1154.9" stroke="#b8b8b8" stroke-width="1.2" />
<line x1="627.1" y1="656" x2="627.1" y2="1159.9" stroke="#dcdcdc" stroke-width="1.6" />
<line x1="627.1" y1="1159.9" x2="627.1" y2="1154.9" stroke="#b8b8b8" stroke-width="1.2" />
<line x1="682.7" y1="656" x2="682.7" y2="1159.9" stroke="#dcdcdc" stroke-width="1.6" />
<line x1="682.7" y1="1159.9" x2="682.7" y2="1154.9" stroke="#b8b8b8" stroke-width="1.2" />
<line x1="738.3" y1="656" x2="738.3" y2="1159.9" stroke="#dcdcdc" stroke-width="1.6" />
<line x1="738.3" y1="1159.9" x2="738.3" y2="1154.9" stroke="#b8b8b8" stroke-width="1.2" />
<line x1="793.9" y1="656" x2="793.9" y2="1159.9" stroke="#dcdcdc" stroke-width="1.6" />
<line x1="793.9" y1="1159.9" x2="793.9" y2="1154.9" stroke="#b8b8b8" stroke-width="1.2" />
<line x1="849.5" y1="656" x2="849.5" y2="1159.9" stroke="#dcdcdc" stroke-width="1.6" />
<line x1="849.5" y1="1159.9" x2="849.5" y2="1154.9" stroke="#b8b8b8" stroke-width="1.2" />
<line x1="534.2" y1="1159.9" x2="539.2" y2="1159.9" stroke="#b8b8b8" stroke-width="1.2" />
<line x1="534.2" y1="1109.5" x2="877.6" y2="1109.5" stroke="#dcdcdc" stroke-width="1.6" />
<line x1="534.2" y1="1109.5" x2="539.2" y2="1109.5" stroke="#b8b8b8" stroke-width="1.2" />
<line x1="534.2" y1="1059.1" x2="877.6" y2="1059.1" stroke="#dcdcdc" stroke-width="1.6" />
<line x1="534.2" y1="1059.1" x2="539.2" y2="1059.1" stroke="#b8b8b8" stroke-width="1.2" />
<line x1="534.2" y1="1008.7" x2="877.6" y2="1008.7" stroke="#dcdcdc" stroke-width="1.6" />
<line x1="534.2" y1="1008.7" x2="539.2" y2="1008.7" stroke="#b8b8b8" stroke-width="1.2" />
<line x1="534.2" y1="958.3" x2="877.6" y2="958.3" stroke="#dcdcdc" stroke-width="1.6" />
<line x1="534.2" y1="958.3" x2="539.2" y2="958.3" stroke="#b8b8b8" stroke-width="1.2" />
<line x1="534.2" y1="908" x2="877.6" y2="908" stroke="#dcdcdc" stroke-width="1.6" />
<line x1="534.2" y1="908" x2="539.2" y2="908" stroke="#b8b8b8" stroke-width="1.2" />
<line x1="534.2" y1="857.6" x2="877.6" y2="857.6" stroke="#dcdcdc" stroke-width="1.6" />
<line x1="534.2" y1="857.6" x2="539.2" y2="857.6" stroke="#b8b8b8" stroke-width="1.2" />
<line x1="534.2" y1="807.2" x2="877.6" y2="807.2" stroke="#dcdcdc" stroke-width="1.6" />
<line x1="534.2" y1="807.2" x2="539.2" y2="807.2" stroke="#b8b8b8" stroke-width="1.2" />
<line x1="534.2" y1="756.8" x2="877.6" y2="756.8" stroke="#dcdcdc" stroke-width="1.6" />
<line x1="534.2" y1="756.8" x2="539.2" y2="756.8" stroke="#b8b8b8" stroke-width="1.2" />
<line x1="534.2" y1="706.4" x2="877.6" y2="706.4" stroke="#dcdcdc" stroke-width="1.6" />
<line x1="534.2" y1="706.4" x2="539.2" y2="706.4" stroke="#b8b8b8" stroke-width="1.2" />
<line x1="534.2" y1="656" x2="877.6" y2="656" stroke="#dcdcdc" stroke-width="1.6" />
<line x1="534.2" y1="656" x2="539.2" y2="656" stroke="#b8b8b8" stroke-width="1.2" />
<line x1="534.2" y1="655.5" x2="534.2" y2="1160.7" stroke="#b8b8b8" stroke-width="1.5" />
<line x1="533.5" y1="1159.9" x2="877.6" y2="1159.9" stroke="#d4d4d4" stroke-width="1.5" />
<line x1="738.3" y1="658" x2="738.3" y2="1159.9" stroke="#000" stroke-width="2.8" stroke-dasharray="7 6.3"/>
<text x="573.2" y="1193.6" font-size="31" text-anchor="middle" font-weight="normal" fill="#404040" >-60</text>
<text x="745.3" y="1193.6" font-size="31" text-anchor="middle" font-weight="normal" fill="#404040" >0</text>
<text x="861.2" y="1193.6" font-size="31" text-anchor="middle" font-weight="normal" fill="#404040" >40</text>
<text x="729.3" y="1221.1" font-size="30.5" text-anchor="middle" font-weight="normal" fill="#404040" >Laps</text>
<text x="712.6" y="649.4" font-size="30.4" text-anchor="middle" font-weight="bold" fill="#000" >Rat 637 - Unit Gain</text>
<text x="823" y="1104" font-size="23" text-anchor="middle" font-weight="normal" fill="#000" >Landmarks</text>
<text x="823" y="1131.3" font-size="23" text-anchor="middle" font-weight="normal" fill="#000" >off</text>
<polyline points="616.6,899.7 623.3,883 630,867.7" fill="none" stroke="#cccccc" stroke-width="1.4" stroke-linejoin="round" stroke-linecap="round"/>
<polyline points="630,867.7 632.7,849.5 639.4,825.1 644.8,809.9 648.8,797.7" fill="none" stroke="#d8d8d8" stroke-width="1.4" stroke-linejoin="round" stroke-linecap="round"/>
<polyline points="648.8,797.7 656.9,789.1" fill="none" stroke="#b4b4b4" stroke-width="1.4" stroke-linejoin="round" stroke-linecap="round"/>
<polyline points="656.9,789.1 663.6,792.2 677,789.1 687.8,791 709.2,792.2" fill="none" stroke="#9c9c9c" stroke-width="1.4" stroke-linejoin="round" stroke-linecap="round"/>
<polyline points="709.2,792.2 716,797.1" fill="none" stroke="#a8a8a8" stroke-width="1.4" stroke-linejoin="round" stroke-linecap="round"/>
<polyline points="716,797.1 721.3,804.4" fill="none" stroke="#c0c0c0" stroke-width="1.4" stroke-linejoin="round" stroke-linecap="round"/>
<polyline points="721.3,804.4 725.4,808.9" fill="none" stroke="#b4b4b4" stroke-width="1.4" stroke-linejoin="round" stroke-linecap="round"/>
<polyline points="736.1,809.9 738.3,811.2" fill="none" stroke="#a8a8a8" stroke-width="1.4" stroke-linejoin="round" stroke-linecap="round"/>
<polyline points="738.3,811.2 742,813.5" fill="none" stroke="#e4e4e4" stroke-width="1.0" stroke-linejoin="round" stroke-linecap="round"/>
<polyline points="748.2,820.5 757.6,832.7" fill="none" stroke="#e4e4e4" stroke-width="1.0" stroke-linejoin="round" stroke-linecap="round"/>
<polyline points="611.2,896.7 617.9,873.8 626,849.5 634,822 642.1,794.6 650.1,767.2 658.2,739.8" fill="none" stroke="#b4b4b4" stroke-width="2.2" stroke-linejoin="round" stroke-linecap="round"/>
<polyline points="658.2,739.8 664.9,724.6" fill="none" stroke="#a8a8a8" stroke-width="2.2" stroke-linejoin="round" stroke-linecap="round"/>
<polyline points="664.9,724.6 671.6,716.9" fill="none" stroke="#787878" stroke-width="2.2" stroke-linejoin="round" stroke-linecap="round"/>
<polyline points="671.6,716.9 679.7,715.4 714.6,715.4 722.7,713" fill="none" stroke="#484848" stroke-width="2.2" stroke-linejoin="round" stroke-linecap="round"/>
<polyline points="722.7,713 728.1,716.9" fill="none" stroke="#606060" stroke-width="2.2" stroke-linejoin="round" stroke-linecap="round"/>
<polyline points="728.1,716.9 736.1,729.1" fill="none" stroke="#909090" stroke-width="2.2" stroke-linejoin="round" stroke-linecap="round"/>
<polyline points="736.1,729.1 738.3,731.2" fill="none" stroke="#6c6c6c" stroke-width="2.2" stroke-linejoin="round" stroke-linecap="round"/>
<polyline points="738.3,731.2 744.2,736.8" fill="none" stroke="#909090" stroke-width="2.0" stroke-linejoin="round" stroke-linecap="round"/>
<polyline points="744.2,736.8 752.2,738.3" fill="none" stroke="#787878" stroke-width="2.0" stroke-linejoin="round" stroke-linecap="round"/>
<polyline points="752.2,738.3 759,730.7" fill="none" stroke="#9c9c9c" stroke-width="2.0" stroke-linejoin="round" stroke-linecap="round"/>
<polyline points="759,730.7 765.7,715.4" fill="none" stroke="#c0c0c0" stroke-width="2.0" stroke-linejoin="round" stroke-linecap="round"/>
<polyline points="765.7,715.4 775.1,702.6" fill="none" stroke="#a8a8a8" stroke-width="2.0" stroke-linejoin="round" stroke-linecap="round"/>
<polyline points="653.4,816 655,802.2" fill="none" stroke="#e4e4e4" stroke-width="1.2" stroke-linejoin="round" stroke-linecap="round"/>
<polyline points="655,802.2 660.9,799.2 668.9,797.7 677,792.2 698.5,792.2 714.6,790.1 725.4,792.2 736.1,797.7 738.3,798" fill="none" stroke="#c0c0c0" stroke-width="1.2" stroke-linejoin="round" stroke-linecap="round"/>
<polyline points="738.3,798 745.5,799.2" fill="none" stroke="#cccccc" stroke-width="1.0" stroke-linejoin="round" stroke-linecap="round"/>
<polyline points="745.5,799.2 749,805.3" fill="none" stroke="#e4e4e4" stroke-width="1.0" stroke-linejoin="round" stroke-linecap="round"/>
<polyline points="749,805.3 750.9,788.5 753.6,773.3 759,752" fill="none" stroke="#ececec" stroke-width="1.0" stroke-linejoin="round" stroke-linecap="round"/>
<polyline points="759,752 765.7,733.7 773.7,715.4 781.8,700.2 791.2,683.4" fill="none" stroke="#e4e4e4" stroke-width="1.0" stroke-linejoin="round" stroke-linecap="round"/>
<polyline points="791.2,683.4 799.8,672.2" fill="none" stroke="#d8d8d8" stroke-width="1.0" stroke-linejoin="round" stroke-linecap="round"/>
<polyline points="656.9,896.7 662.2,879.9" fill="none" stroke="#b4b4b4" stroke-width="2.0" stroke-linejoin="round" stroke-linecap="round"/>
<polyline points="662.2,879.9 668.9,870.8" fill="none" stroke="#848484" stroke-width="2.0" stroke-linejoin="round" stroke-linecap="round"/>
<polyline points="668.9,870.8 677,868.4 711.9,869.6 720,867.7 730.7,869.6" fill="none" stroke="#484848" stroke-width="2.0" stroke-linejoin="round" stroke-linecap="round"/>
<polyline points="730.7,869.6 737.5,873.8 738.3,873.2" fill="none" stroke="#606060" stroke-width="2.0" stroke-linejoin="round" stroke-linecap="round"/>
<polyline points="738.3,873.2 745.5,867.7" fill="none" stroke="#a8a8a8" stroke-width="1.6" stroke-linejoin="round" stroke-linecap="round"/>
<polyline points="745.5,867.7 752.2,858.6" fill="none" stroke="#c0c0c0" stroke-width="1.6" stroke-linejoin="round" stroke-linecap="round"/>
<polyline points="752.2,858.6 760.3,852.5" fill="none" stroke="#a8a8a8" stroke-width="1.6" stroke-linejoin="round" stroke-linecap="round"/>
<polyline points="760.3,852.5 771,849.5 781.8,851.9 792.5,855.6" fill="none" stroke="#9c9c9c" stroke-width="1.6" stroke-linejoin="round" stroke-linecap="round"/>
<polyline points="792.5,855.6 798.7,864.1" fill="none" stroke="#c0c0c0" stroke-width="1.6" stroke-linejoin="round" stroke-linecap="round"/>
<polyline points="671.6,908 738.3,907.5" fill="none" stroke="#000000" stroke-width="4.6" stroke-linejoin="round" stroke-linecap="round"/>
<polyline points="738.3,907.5 760.3,907.3" fill="none" stroke="#000000" stroke-width="4.2" stroke-linejoin="round" stroke-linecap="round"/>
<polyline points="760.3,907.3 768.4,905.2 773.7,906.7" fill="none" stroke="#0c0c0c" stroke-width="4.2" stroke-linejoin="round" stroke-linecap="round"/>
<polyline points="655,919.6 662.2,931.8 668.9,941" fill="none" stroke="#d8d8d8" stroke-width="1.2" stroke-linejoin="round" stroke-linecap="round"/>
<polyline points="668.9,941 679.7,944.9 698.5,947.1 714.6,945.5 729.4,944.9" fill="none" stroke="#c0c0c0" stroke-width="1.2" stroke-linejoin="round" stroke-linecap="round"/>
<polyline points="729.4,944.9 733.4,936.4" fill="none" stroke="#d8d8d8" stroke-width="1.2" stroke-linejoin="round" stroke-linecap="round"/>
<polyline points="733.4,936.4 737.5,921.2 738.3,918.6" fill="none" stroke="#e4e4e4" stroke-width="1.2" stroke-linejoin="round" stroke-linecap="round"/>
<polyline points="738.3,918.6 741.5,909 745.5,899.8" fill="none" stroke="#d8d8d8" stroke-width="1.3" stroke-linejoin="round" stroke-linecap="round"/>
<polyline points="745.5,899.8 744.2,907.3" fill="none" stroke="#e4e4e4" stroke-width="1.3" stroke-linejoin="round" stroke-linecap="round"/>
<polyline points="744.2,907.3 749.6,892.1" fill="none" stroke="#d8d8d8" stroke-width="1.3" stroke-linejoin="round" stroke-linecap="round"/>
<polyline points="749.6,892.1 754.9,884.5" fill="none" stroke="#cccccc" stroke-width="1.3" stroke-linejoin="round" stroke-linecap="round"/>
<polyline points="754.9,884.5 760.3,873.8 765.7,861.6" fill="none" stroke="#d8d8d8" stroke-width="1.3" stroke-linejoin="round" stroke-linecap="round"/>
<polyline points="765.7,861.6 771,843.4" fill="none" stroke="#e4e4e4" stroke-width="1.3" stroke-linejoin="round" stroke-linecap="round"/>
<polyline points="771,843.4 776.4,831.2" fill="none" stroke="#d8d8d8" stroke-width="1.3" stroke-linejoin="round" stroke-linecap="round"/>
<polyline points="776.4,831.2 780.5,823.6" fill="none" stroke="#cccccc" stroke-width="1.3" stroke-linejoin="round" stroke-linecap="round"/>
<polyline points="780.5,823.6 792.5,824.5" fill="none" stroke="#a8a8a8" stroke-width="1.3" stroke-linejoin="round" stroke-linecap="round"/>
<polyline points="792.5,824.5 797.9,816 804.6,803.2" fill="none" stroke="#cccccc" stroke-width="1.3" stroke-linejoin="round" stroke-linecap="round"/>
<polyline points="804.6,803.2 811.4,802.2" fill="none" stroke="#a8a8a8" stroke-width="1.3" stroke-linejoin="round" stroke-linecap="round"/>
<polyline points="811.4,802.2 818.1,808.3" fill="none" stroke="#c0c0c0" stroke-width="1.3" stroke-linejoin="round" stroke-linecap="round"/>
<polyline points="818.1,808.3 824.8,809.9" fill="none" stroke="#a8a8a8" stroke-width="1.3" stroke-linejoin="round" stroke-linecap="round"/>
<polyline points="824.8,809.9 834.2,803.8" fill="none" stroke="#b4b4b4" stroke-width="1.3" stroke-linejoin="round" stroke-linecap="round"/>
<polyline points="632.7,918.1 639.4,930.3" fill="none" stroke="#e4e4e4" stroke-width="1.1" stroke-linejoin="round" stroke-linecap="round"/>
<polyline points="639.4,930.3 644.8,948.6 650.1,969.9 654.2,986.7" fill="none" stroke="#ececec" stroke-width="1.1" stroke-linejoin="round" stroke-linecap="round"/>
<polyline points="654.2,986.7 662.2,997.3" fill="none" stroke="#d8d8d8" stroke-width="1.1" stroke-linejoin="round" stroke-linecap="round"/>
<polyline points="662.2,997.3 666.3,1017.1" fill="none" stroke="#ececec" stroke-width="1.1" stroke-linejoin="round" stroke-linecap="round"/>
<polyline points="666.3,1017.1 674.3,1021.7 682.4,1024.7 725.4,1024.7 730.7,1021.7" fill="none" stroke="#cccccc" stroke-width="1.1" stroke-linejoin="round" stroke-linecap="round"/>
<polyline points="730.7,1021.7 734.8,998.9" fill="none" stroke="#ececec" stroke-width="1.1" stroke-linejoin="round" stroke-linecap="round"/>
<polyline points="737.5,974.5 738.3,973.2" fill="none" stroke="#e4e4e4" stroke-width="1.1" stroke-linejoin="round" stroke-linecap="round"/>
<polyline points="738.3,973.2 745.5,962.3 752.2,951.6" fill="none" stroke="#b4b4b4" stroke-width="1.4" stroke-linejoin="round" stroke-linecap="round"/>
<polyline points="752.2,951.6 757.6,945.5" fill="none" stroke="#a8a8a8" stroke-width="1.4" stroke-linejoin="round" stroke-linecap="round"/>
<polyline points="757.6,945.5 765.7,945.5" fill="none" stroke="#848484" stroke-width="1.4" stroke-linejoin="round" stroke-linecap="round"/>
<polyline points="765.7,945.5 772.4,953.2" fill="none" stroke="#a8a8a8" stroke-width="1.4" stroke-linejoin="round" stroke-linecap="round"/>
<polyline points="772.4,953.2 779.1,956.2 787.2,951.6" fill="none" stroke="#909090" stroke-width="1.4" stroke-linejoin="round" stroke-linecap="round"/>
<polyline points="787.2,951.6 797.9,939.4 808.7,928.8 816.7,921.2" fill="none" stroke="#a8a8a8" stroke-width="1.4" stroke-linejoin="round" stroke-linecap="round"/>
<polyline points="816.7,921.2 826.1,908.4" fill="none" stroke="#b4b4b4" stroke-width="1.4" stroke-linejoin="round" stroke-linecap="round"/>
<polyline points="826.1,908.4 834.2,904.4" fill="none" stroke="#909090" stroke-width="1.4" stroke-linejoin="round" stroke-linecap="round"/>
<line x1="738.3" y1="658" x2="738.3" y2="1159.9" stroke="#000" stroke-width="2.8" stroke-dasharray="7 6.3"/>
<rect x="899" y="654.8" width="16.4" height="504.7" fill="url(#cb)" stroke="#4a4a4a" stroke-width="1.6"/>
<line x1="911.4" y1="1109" x2="915.4" y2="1109" stroke="#4a4a4a" stroke-width="1" />
<line x1="911.4" y1="1058.6" x2="915.4" y2="1058.6" stroke="#4a4a4a" stroke-width="1" />
<line x1="911.4" y1="1008.1" x2="915.4" y2="1008.1" stroke="#4a4a4a" stroke-width="1" />
<line x1="911.4" y1="957.6" x2="915.4" y2="957.6" stroke="#4a4a4a" stroke-width="1" />
<line x1="911.4" y1="907.1" x2="915.4" y2="907.1" stroke="#4a4a4a" stroke-width="1" />
<line x1="911.4" y1="856.7" x2="915.4" y2="856.7" stroke="#4a4a4a" stroke-width="1" />
<line x1="911.4" y1="806.2" x2="915.4" y2="806.2" stroke="#4a4a4a" stroke-width="1" />
<line x1="911.4" y1="755.7" x2="915.4" y2="755.7" stroke="#4a4a4a" stroke-width="1" />
<line x1="911.4" y1="705.3" x2="915.4" y2="705.3" stroke="#4a4a4a" stroke-width="1" />
<text x="918.9" y="1163" font-size="31" text-anchor="start" font-weight="normal" fill="#404040" >0</text>
<text x="918.9" y="911.8" font-size="31" text-anchor="start" font-weight="normal" fill="#404040" >5</text>
<text x="918.9" y="660.5" font-size="31" text-anchor="start" font-weight="normal" fill="#404040" >&gt;=10</text>
<line x1="1181.2" y1="656.3" x2="1181.2" y2="1159.9" stroke="#dedede" stroke-width="1.4" />
<line x1="1181.2" y1="1159.9" x2="1181.2" y2="1154.9" stroke="#909090" stroke-width="1.2" />
<line x1="1302.2" y1="656.3" x2="1302.2" y2="1159.9" stroke="#dedede" stroke-width="1.4" />
<line x1="1302.2" y1="1159.9" x2="1302.2" y2="1154.9" stroke="#909090" stroke-width="1.2" />
<line x1="1423.2" y1="656.3" x2="1423.2" y2="1159.9" stroke="#dedede" stroke-width="1.4" />
<line x1="1423.2" y1="1159.9" x2="1423.2" y2="1154.9" stroke="#909090" stroke-width="1.2" />
<line x1="1078.3" y1="1159.9" x2="1083.3" y2="1159.9" stroke="#909090" stroke-width="1.2" />
<line x1="1078.3" y1="1109.5" x2="1467.8" y2="1109.5" stroke="#dedede" stroke-width="1.4" />
<line x1="1078.3" y1="1109.5" x2="1083.3" y2="1109.5" stroke="#909090" stroke-width="1.2" />
<line x1="1078.3" y1="1059.2" x2="1467.8" y2="1059.2" stroke="#dedede" stroke-width="1.4" />
<line x1="1078.3" y1="1059.2" x2="1083.3" y2="1059.2" stroke="#909090" stroke-width="1.2" />
<line x1="1078.3" y1="1008.8" x2="1467.8" y2="1008.8" stroke="#dedede" stroke-width="1.4" />
<line x1="1078.3" y1="1008.8" x2="1083.3" y2="1008.8" stroke="#909090" stroke-width="1.2" />
<line x1="1078.3" y1="958.5" x2="1467.8" y2="958.5" stroke="#dedede" stroke-width="1.4" />
<line x1="1078.3" y1="958.5" x2="1083.3" y2="958.5" stroke="#909090" stroke-width="1.2" />
<line x1="1078.3" y1="908.1" x2="1467.8" y2="908.1" stroke="#dedede" stroke-width="1.4" />
<line x1="1078.3" y1="908.1" x2="1083.3" y2="908.1" stroke="#909090" stroke-width="1.2" />
<line x1="1078.3" y1="857.7" x2="1467.8" y2="857.7" stroke="#dedede" stroke-width="1.4" />
<line x1="1078.3" y1="857.7" x2="1083.3" y2="857.7" stroke="#909090" stroke-width="1.2" />
<line x1="1078.3" y1="807.4" x2="1467.8" y2="807.4" stroke="#dedede" stroke-width="1.4" />
<line x1="1078.3" y1="807.4" x2="1083.3" y2="807.4" stroke="#909090" stroke-width="1.2" />
<line x1="1078.3" y1="757" x2="1467.8" y2="757" stroke="#dedede" stroke-width="1.4" />
<line x1="1078.3" y1="757" x2="1083.3" y2="757" stroke="#909090" stroke-width="1.2" />
<line x1="1078.3" y1="706.7" x2="1467.8" y2="706.7" stroke="#dedede" stroke-width="1.4" />
<line x1="1078.3" y1="706.7" x2="1083.3" y2="706.7" stroke="#909090" stroke-width="1.2" />
<line x1="1078.3" y1="656.3" x2="1467.8" y2="656.3" stroke="#dedede" stroke-width="1.4" />
<line x1="1078.3" y1="656.3" x2="1083.3" y2="656.3" stroke="#909090" stroke-width="1.2" />
<line x1="1078.3" y1="655.8" x2="1078.3" y2="1160.7" stroke="#c0c0c0" stroke-width="1.5" />
<line x1="1077.5" y1="1159.9" x2="1467.8" y2="1159.9" stroke="#c0c0c0" stroke-width="1.5" />
<line x1="1302.2" y1="658.3" x2="1302.2" y2="1159.9" stroke="#000" stroke-width="3.2" stroke-dasharray="7 6.3"/>
<text x="1173.7" y="1193.6" font-size="31" text-anchor="middle" font-weight="normal" fill="#404040" >-50</text>
<text x="1306.9" y="1193.6" font-size="31" text-anchor="middle" font-weight="normal" fill="#404040" >0</text>
<text x="1424.6" y="1193.6" font-size="31" text-anchor="middle" font-weight="normal" fill="#404040" >50</text>
<text x="1307.9" y="1221.1" font-size="30.5" text-anchor="middle" font-weight="normal" fill="#404040" >Laps</text>
<text x="1277.2" y="649.4" font-size="30.4" text-anchor="middle" font-weight="bold" fill="#000" >Rat 638 - Population Gain</text>
<text x="1420.3" y="1104" font-size="23" text-anchor="middle" font-weight="normal" fill="#000" >Landmarks</text>
<text x="1420.3" y="1131.3" font-size="23" text-anchor="middle" font-weight="normal" fill="#000" >off</text>
<polyline points="1242.4,908.4 1274.1,910.1" fill="none" stroke="#0072BD" stroke-width="4" stroke-linejoin="round" stroke-linecap="butt"/>
<polyline points="1248.3,789.7 1281.1,789 1299.8,798.4 1306.9,804.2 1313.9,800.7 1323.2,794.8 1330.3,793.7 1335,796.5 1344.3,797.2 1353.7,790.6 1374.8,792.5 1379.4,779.6 1384.1,763.2 1390,756.2 1394.7,757.4 1401.7,765.6 1407.6,763.2 1413.4,764.4 1418.1,777.3 1423.9,790.2 1431,797.2 1438,800.7 1450.9,797.2" fill="none" stroke="#4DBEEE" stroke-width="6.6" stroke-linejoin="round" stroke-linecap="butt"/>
<polyline points="1456.7,796.5 1466.1,796.5" fill="none" stroke="#4DBEEE" stroke-width="6.6" stroke-linejoin="round" stroke-linecap="butt" stroke-dasharray="5 3"/>
<polyline points="1189.8,871 1196.8,870.5" fill="none" stroke="#4DBEEE" stroke-width="4" stroke-linejoin="round" stroke-linecap="butt"/>
<polyline points="1082,889.7 1089.1,889.7 1096.1,871 1104.3,859.3 1112.5,840.5 1121.8,821.8 1131.2,803 1140.6,782 1149.9,763.2 1159.3,744.5 1168.7,725.8 1175.7,717.6 1182.7,715.2 1196.8,712.2 1206.1,716.9 1215.5,714.1 1222.5,710.5 1234.3,712.9 1253,715.2 1262.4,712.9 1281.1,712.9 1290.5,708.9 1295.1,710.5 1299.8,723.4 1306.9,732.8 1318.6,734 1327.9,737.5 1337.3,739.8 1346.7,736.3 1356,732.8 1365.4,736.3 1377.1,732.8 1386.5,725.8 1393.5,728.1 1400.5,734 1407.6,737 1413.4,735.1" fill="none" stroke="#0072BD" stroke-width="6.6" stroke-linejoin="round" stroke-linecap="butt"/>
<polyline points="1231.4,897.9 1233.1,886.2 1238.9,875.6 1246,869.8 1262.4,868.1 1285.8,869.8 1299.8,873.3 1305.7,878 1313.9,879.2 1320.9,875.6 1327.9,866.3 1332.6,854.6 1335,848" fill="none" stroke="#7E2F8E" stroke-width="6.6" stroke-linejoin="round" stroke-linecap="butt"/>
<polyline points="1185.1,901.4 1192.1,885 1201.5,866.3 1210.8,845.2 1217.9,831.1 1222.5,819.4 1229.6,807.7 1236.6,797.2 1243.6,792.5 1253,790.6 1285.8,791.8 1299.8,793.7 1309.2,797.2 1318.6,794.8 1325.6,787.8 1331.4,784.3 1337.3,787.8 1344.3,794.8 1353.7,798.4 1365.4,793.7 1377.1,796 1384.1,792.5 1388.8,787.8" fill="none" stroke="#A2142F" stroke-width="6.6" stroke-linejoin="round" stroke-linecap="butt"/>
<polyline points="1120.7,901.4 1128.9,889.7 1138.2,871 1147.6,852.2 1157,833.5 1166.3,812.4 1173.4,798.4 1179.2,792.5 1187.4,790.2 1198,789 1206.1,791.3 1238.9,791.8 1262.4,790.9 1285.8,790.9 1295.1,787.8 1304.5,780.8 1313.9,778.5 1327.9,776.1 1342,774.9 1349,767.9 1356,756.2 1365.4,759.7 1372.4,751.5 1381.8,752.7 1391.2,749.2 1397,741" fill="none" stroke="#D95319" stroke-width="6.6" stroke-linejoin="round" stroke-linecap="butt"/>
<polyline points="1159.3,900.2 1165.2,887.4 1171,874.5 1178,868.6 1192.1,867.4 1227.2,866.3 1250.6,868.1 1274.1,869.8 1299.8,869.1 1309.2,872.8 1313.9,863.9 1318.6,845.2 1323.2,838.2 1330.3,835.8 1337.3,837 1344.3,827.6 1351.3,814.8 1358.4,808.9 1367.7,808.2 1375.9,814.8 1384.1,823 1390,825.3 1400.5,819.4 1412.2,816.4 1427.5,816.4" fill="none" stroke="#EDB120" stroke-width="6.6" stroke-linejoin="round" stroke-linecap="butt"/>
<polyline points="1332.6,907.5 1367.7,907.5" fill="none" stroke="#D95319" stroke-width="6.6" stroke-linejoin="round" stroke-linecap="butt"/>
<polyline points="1244.1,907 1340.8,907" fill="none" stroke="#EDB120" stroke-width="6.6" stroke-linejoin="round" stroke-linecap="butt"/>
<polyline points="1220.2,916.6 1226.1,924.8 1230.7,934.2 1236.6,941.2 1246,945.4 1262.4,947.1 1274.1,945.9 1285.8,946.4 1295.1,949.4 1306.9,948.7 1311.5,943.6 1316.2,934.2 1323.2,928.3 1332.6,927.2 1342,923.7 1351.3,917.8" fill="none" stroke="#77AC30" stroke-width="6.6" stroke-linejoin="round" stroke-linecap="butt"/>
<line x1="1302.2" y1="658.3" x2="1302.2" y2="1159.9" stroke="#000" stroke-width="3.2" stroke-dasharray="7 6.3"/>
<line x1="1617.3" y1="656" x2="1617.3" y2="1159.9" stroke="#dcdcdc" stroke-width="1.6" />
<line x1="1617.3" y1="1159.9" x2="1617.3" y2="1154.9" stroke="#b8b8b8" stroke-width="1.2" />
<line x1="1724.6" y1="656" x2="1724.6" y2="1159.9" stroke="#dcdcdc" stroke-width="1.6" />
<line x1="1724.6" y1="1159.9" x2="1724.6" y2="1154.9" stroke="#b8b8b8" stroke-width="1.2" />
<line x1="1831.9" y1="656" x2="1831.9" y2="1159.9" stroke="#dcdcdc" stroke-width="1.6" />
<line x1="1831.9" y1="1159.9" x2="1831.9" y2="1154.9" stroke="#b8b8b8" stroke-width="1.2" />
<line x1="1527.5" y1="1159.9" x2="1532.5" y2="1159.9" stroke="#b8b8b8" stroke-width="1.2" />
<line x1="1527.5" y1="1109.5" x2="1870.6" y2="1109.5" stroke="#dcdcdc" stroke-width="1.6" />
<line x1="1527.5" y1="1109.5" x2="1532.5" y2="1109.5" stroke="#b8b8b8" stroke-width="1.2" />
<line x1="1527.5" y1="1059.1" x2="1870.6" y2="1059.1" stroke="#dcdcdc" stroke-width="1.6" />
<line x1="1527.5" y1="1059.1" x2="1532.5" y2="1059.1" stroke="#b8b8b8" stroke-width="1.2" />
<line x1="1527.5" y1="1008.7" x2="1870.6" y2="1008.7" stroke="#dcdcdc" stroke-width="1.6" />
<line x1="1527.5" y1="1008.7" x2="1532.5" y2="1008.7" stroke="#b8b8b8" stroke-width="1.2" />
<line x1="1527.5" y1="958.3" x2="1870.6" y2="958.3" stroke="#dcdcdc" stroke-width="1.6" />
<line x1="1527.5" y1="958.3" x2="1532.5" y2="958.3" stroke="#b8b8b8" stroke-width="1.2" />
<line x1="1527.5" y1="908" x2="1870.6" y2="908" stroke="#dcdcdc" stroke-width="1.6" />
<line x1="1527.5" y1="908" x2="1532.5" y2="908" stroke="#b8b8b8" stroke-width="1.2" />
<line x1="1527.5" y1="857.6" x2="1870.6" y2="857.6" stroke="#dcdcdc" stroke-width="1.6" />
<line x1="1527.5" y1="857.6" x2="1532.5" y2="857.6" stroke="#b8b8b8" stroke-width="1.2" />
<line x1="1527.5" y1="807.2" x2="1870.6" y2="807.2" stroke="#dcdcdc" stroke-width="1.6" />
<line x1="1527.5" y1="807.2" x2="1532.5" y2="807.2" stroke="#b8b8b8" stroke-width="1.2" />
<line x1="1527.5" y1="756.8" x2="1870.6" y2="756.8" stroke="#dcdcdc" stroke-width="1.6" />
<line x1="1527.5" y1="756.8" x2="1532.5" y2="756.8" stroke="#b8b8b8" stroke-width="1.2" />
<line x1="1527.5" y1="706.4" x2="1870.6" y2="706.4" stroke="#dcdcdc" stroke-width="1.6" />
<line x1="1527.5" y1="706.4" x2="1532.5" y2="706.4" stroke="#b8b8b8" stroke-width="1.2" />
<line x1="1527.5" y1="656" x2="1870.6" y2="656" stroke="#dcdcdc" stroke-width="1.6" />
<line x1="1527.5" y1="656" x2="1532.5" y2="656" stroke="#b8b8b8" stroke-width="1.2" />
<line x1="1527.5" y1="655.5" x2="1527.5" y2="1160.7" stroke="#b8b8b8" stroke-width="1.5" />
<line x1="1526.8" y1="1159.9" x2="1870.6" y2="1159.9" stroke="#d4d4d4" stroke-width="1.5" />
<line x1="1724.6" y1="658" x2="1724.6" y2="1159.9" stroke="#000" stroke-width="3.4" stroke-dasharray="7 6.3"/>
<text x="1611.7" y="1193.6" font-size="31" text-anchor="middle" font-weight="normal" fill="#404040" >-50</text>
<text x="1731.3" y="1193.6" font-size="31" text-anchor="middle" font-weight="normal" fill="#404040" >0</text>
<text x="1834.3" y="1193.6" font-size="31" text-anchor="middle" font-weight="normal" fill="#404040" >50</text>
<text x="1693.9" y="1221.1" font-size="30.5" text-anchor="middle" font-weight="normal" fill="#404040" >Laps</text>
<text x="1704.7" y="650" font-size="30.4" text-anchor="middle" font-weight="bold" fill="#000" >Rat 638 - Unit Gain</text>
<polyline points="1671.6,908.3 1699.6,909.9" fill="none" stroke="#d8d8d8" stroke-width="0.9" stroke-linejoin="round" stroke-linecap="round"/>
<polyline points="1676.8,789.5 1705.9,788.8" fill="none" stroke="#cccccc" stroke-width="1.0" stroke-linejoin="round" stroke-linecap="round"/>
<polyline points="1705.9,788.8 1722.5,798.1 1724.6,800.1" fill="none" stroke="#d8d8d8" stroke-width="1.0" stroke-linejoin="round" stroke-linecap="round"/>
<polyline points="1724.6,800.1 1728.7,804 1735,800.5 1743.3,794.6" fill="none" stroke="#d8d8d8" stroke-width="1.0" stroke-linejoin="round" stroke-linecap="round"/>
<polyline points="1743.3,794.6 1749.5,793.5" fill="none" stroke="#cccccc" stroke-width="1.0" stroke-linejoin="round" stroke-linecap="round"/>
<polyline points="1749.5,793.5 1753.6,796.3" fill="none" stroke="#d8d8d8" stroke-width="1.0" stroke-linejoin="round" stroke-linecap="round"/>
<polyline points="1753.6,796.3 1762,797" fill="none" stroke="#cccccc" stroke-width="1.0" stroke-linejoin="round" stroke-linecap="round"/>
<polyline points="1762,797 1770.3,790.4" fill="none" stroke="#d8d8d8" stroke-width="1.0" stroke-linejoin="round" stroke-linecap="round"/>
<polyline points="1770.3,790.4 1788.9,792.3" fill="none" stroke="#cccccc" stroke-width="1.0" stroke-linejoin="round" stroke-linecap="round"/>
<polyline points="1788.9,792.3 1793.1,779.4 1797.3,763" fill="none" stroke="#ececec" stroke-width="1.0" stroke-linejoin="round" stroke-linecap="round"/>
<polyline points="1797.3,763 1802.4,756" fill="none" stroke="#e4e4e4" stroke-width="1.0" stroke-linejoin="round" stroke-linecap="round"/>
<polyline points="1802.4,756 1806.6,757.1" fill="none" stroke="#cccccc" stroke-width="1.0" stroke-linejoin="round" stroke-linecap="round"/>
<polyline points="1806.6,757.1 1812.8,765.3" fill="none" stroke="#e4e4e4" stroke-width="1.0" stroke-linejoin="round" stroke-linecap="round"/>
<polyline points="1812.8,765.3 1818,763" fill="none" stroke="#d8d8d8" stroke-width="1.0" stroke-linejoin="round" stroke-linecap="round"/>
<polyline points="1818,763 1823.2,764.2" fill="none" stroke="#cccccc" stroke-width="1.0" stroke-linejoin="round" stroke-linecap="round"/>
<polyline points="1823.2,764.2 1827.4,777.1" fill="none" stroke="#ececec" stroke-width="1.0" stroke-linejoin="round" stroke-linecap="round"/>
<polyline points="1827.4,777.1 1832.6,789.9" fill="none" stroke="#e4e4e4" stroke-width="1.0" stroke-linejoin="round" stroke-linecap="round"/>
<polyline points="1832.6,789.9 1838.8,797 1845,800.5" fill="none" stroke="#d8d8d8" stroke-width="1.0" stroke-linejoin="round" stroke-linecap="round"/>
<polyline points="1845,800.5 1856.4,797" fill="none" stroke="#cccccc" stroke-width="1.0" stroke-linejoin="round" stroke-linecap="round"/>
<polyline points="1861.6,796.3 1869.9,796.3" fill="none" stroke="#cccccc" stroke-width="1.0" stroke-linejoin="round" stroke-linecap="round"/>
<polyline points="1624.9,870.8 1631.1,870.3" fill="none" stroke="#d8d8d8" stroke-width="0.9" stroke-linejoin="round" stroke-linecap="round"/>
<polyline points="1529.4,889.5 1535.6,889.5" fill="none" stroke="#cccccc" stroke-width="1.1" stroke-linejoin="round" stroke-linecap="round"/>
<polyline points="1535.6,889.5 1541.8,870.8" fill="none" stroke="#ececec" stroke-width="1.1" stroke-linejoin="round" stroke-linecap="round"/>
<polyline points="1541.8,870.8 1549.1,859.1 1556.4,840.3 1564.7,821.6 1573,802.8 1581.3,781.7 1589.6,763 1597.9,744.2 1606.2,725.5" fill="none" stroke="#e4e4e4" stroke-width="1.1" stroke-linejoin="round" stroke-linecap="round"/>
<polyline points="1606.2,725.5 1612.4,717.3" fill="none" stroke="#d8d8d8" stroke-width="1.1" stroke-linejoin="round" stroke-linecap="round"/>
<polyline points="1612.4,717.3 1618.7,715 1631.1,711.9 1639.4,716.6 1647.7,713.8 1654,710.3 1664.3,712.6 1681,715 1689.3,712.6 1705.9,712.6 1714.2,708.6 1718.3,710.3" fill="none" stroke="#cccccc" stroke-width="1.1" stroke-linejoin="round" stroke-linecap="round"/>
<polyline points="1718.3,710.3 1722.5,723.2" fill="none" stroke="#ececec" stroke-width="1.1" stroke-linejoin="round" stroke-linecap="round"/>
<polyline points="1722.5,723.2 1724.6,726.3" fill="none" stroke="#e4e4e4" stroke-width="1.1" stroke-linejoin="round" stroke-linecap="round"/>
<polyline points="1724.6,726.3 1728.7,732.5" fill="none" stroke="#e4e4e4" stroke-width="1.1" stroke-linejoin="round" stroke-linecap="round"/>
<polyline points="1728.7,732.5 1739.1,733.7 1747.4,737.2 1755.7,739.6 1764,736 1772.3,732.5 1780.6,736 1791,732.5" fill="none" stroke="#cccccc" stroke-width="1.1" stroke-linejoin="round" stroke-linecap="round"/>
<polyline points="1791,732.5 1799.3,725.5" fill="none" stroke="#d8d8d8" stroke-width="1.1" stroke-linejoin="round" stroke-linecap="round"/>
<polyline points="1799.3,725.5 1805.6,727.8" fill="none" stroke="#cccccc" stroke-width="1.1" stroke-linejoin="round" stroke-linecap="round"/>
<polyline points="1805.6,727.8 1811.8,733.7" fill="none" stroke="#d8d8d8" stroke-width="1.1" stroke-linejoin="round" stroke-linecap="round"/>
<polyline points="1811.8,733.7 1818,736.8 1823.2,734.9" fill="none" stroke="#cccccc" stroke-width="1.1" stroke-linejoin="round" stroke-linecap="round"/>
<polyline points="1661.9,897.7 1663.3,886 1668.5,875.5" fill="none" stroke="#e4e4e4" stroke-width="1.0" stroke-linejoin="round" stroke-linecap="round"/>
<polyline points="1668.5,875.5 1674.7,869.6" fill="none" stroke="#cccccc" stroke-width="1.0" stroke-linejoin="round" stroke-linecap="round"/>
<polyline points="1674.7,869.6 1689.3,868 1710,869.6 1722.5,873.1" fill="none" stroke="#c0c0c0" stroke-width="1.0" stroke-linejoin="round" stroke-linecap="round"/>
<polyline points="1722.5,873.1 1724.6,875" fill="none" stroke="#cccccc" stroke-width="1.0" stroke-linejoin="round" stroke-linecap="round"/>
<polyline points="1724.6,875 1727.7,877.8" fill="none" stroke="#cccccc" stroke-width="1.0" stroke-linejoin="round" stroke-linecap="round"/>
<polyline points="1727.7,877.8 1735,879" fill="none" stroke="#c0c0c0" stroke-width="1.0" stroke-linejoin="round" stroke-linecap="round"/>
<polyline points="1735,879 1741.2,875.5" fill="none" stroke="#cccccc" stroke-width="1.0" stroke-linejoin="round" stroke-linecap="round"/>
<polyline points="1741.2,875.5 1747.4,866.1" fill="none" stroke="#d8d8d8" stroke-width="1.0" stroke-linejoin="round" stroke-linecap="round"/>
<polyline points="1747.4,866.1 1751.6,854.4 1753.6,847.8" fill="none" stroke="#e4e4e4" stroke-width="1.0" stroke-linejoin="round" stroke-linecap="round"/>
<polyline points="1620.7,901.3 1627,884.8" fill="none" stroke="#e4e4e4" stroke-width="1.0" stroke-linejoin="round" stroke-linecap="round"/>
<polyline points="1627,884.8 1635.3,866.1" fill="none" stroke="#d8d8d8" stroke-width="1.0" stroke-linejoin="round" stroke-linecap="round"/>
<polyline points="1635.3,866.1 1643.6,845" fill="none" stroke="#e4e4e4" stroke-width="1.0" stroke-linejoin="round" stroke-linecap="round"/>
<polyline points="1643.6,845 1649.8,831" fill="none" stroke="#d8d8d8" stroke-width="1.0" stroke-linejoin="round" stroke-linecap="round"/>
<polyline points="1649.8,831 1654,819.2" fill="none" stroke="#e4e4e4" stroke-width="1.0" stroke-linejoin="round" stroke-linecap="round"/>
<polyline points="1654,819.2 1660.2,807.5 1666.4,797" fill="none" stroke="#d8d8d8" stroke-width="1.0" stroke-linejoin="round" stroke-linecap="round"/>
<polyline points="1666.4,797 1672.7,792.3" fill="none" stroke="#cccccc" stroke-width="1.0" stroke-linejoin="round" stroke-linecap="round"/>
<polyline points="1672.7,792.3 1681,790.4 1710,791.6 1722.5,793.5 1724.6,794.4" fill="none" stroke="#c0c0c0" stroke-width="1.0" stroke-linejoin="round" stroke-linecap="round"/>
<polyline points="1724.6,794.4 1730.8,797 1739.1,794.6" fill="none" stroke="#cccccc" stroke-width="1.0" stroke-linejoin="round" stroke-linecap="round"/>
<polyline points="1739.1,794.6 1745.3,787.6 1750.5,784.1 1755.7,787.6 1762,794.6" fill="none" stroke="#d8d8d8" stroke-width="1.0" stroke-linejoin="round" stroke-linecap="round"/>
<polyline points="1762,794.6 1770.3,798.1 1780.6,793.5 1791,795.8 1797.3,792.3" fill="none" stroke="#cccccc" stroke-width="1.0" stroke-linejoin="round" stroke-linecap="round"/>
<polyline points="1797.3,792.3 1801.4,787.6" fill="none" stroke="#d8d8d8" stroke-width="1.0" stroke-linejoin="round" stroke-linecap="round"/>
<polyline points="1563.6,901.3 1570.9,889.5" fill="none" stroke="#a8a8a8" stroke-width="1.7" stroke-linejoin="round" stroke-linecap="round"/>
<polyline points="1570.9,889.5 1579.2,870.8 1587.5,852 1595.8,833.3 1604.1,812.2 1610.3,798.1" fill="none" stroke="#c0c0c0" stroke-width="1.7" stroke-linejoin="round" stroke-linecap="round"/>
<polyline points="1610.3,798.1 1615.5,792.3" fill="none" stroke="#9c9c9c" stroke-width="1.7" stroke-linejoin="round" stroke-linecap="round"/>
<polyline points="1615.5,792.3 1622.8,789.9 1632.2,788.8 1639.4,791.1 1668.5,791.6 1689.3,790.6 1710,790.6 1718.3,787.6" fill="none" stroke="#787878" stroke-width="1.7" stroke-linejoin="round" stroke-linecap="round"/>
<polyline points="1718.3,787.6 1724.6,782.3" fill="none" stroke="#909090" stroke-width="1.7" stroke-linejoin="round" stroke-linecap="round"/>
<polyline points="1724.6,782.3 1726.6,780.6" fill="none" stroke="#a8a8a8" stroke-width="1.5" stroke-linejoin="round" stroke-linecap="round"/>
<polyline points="1726.6,780.6 1735,778.2 1747.4,775.9 1759.9,774.7" fill="none" stroke="#9c9c9c" stroke-width="1.5" stroke-linejoin="round" stroke-linecap="round"/>
<polyline points="1759.9,774.7 1766.1,767.7" fill="none" stroke="#b4b4b4" stroke-width="1.5" stroke-linejoin="round" stroke-linecap="round"/>
<polyline points="1766.1,767.7 1772.3,756" fill="none" stroke="#cccccc" stroke-width="1.5" stroke-linejoin="round" stroke-linecap="round"/>
<polyline points="1772.3,756 1780.6,759.5" fill="none" stroke="#9c9c9c" stroke-width="1.5" stroke-linejoin="round" stroke-linecap="round"/>
<polyline points="1780.6,759.5 1786.9,751.3" fill="none" stroke="#c0c0c0" stroke-width="1.5" stroke-linejoin="round" stroke-linecap="round"/>
<polyline points="1786.9,751.3 1795.2,752.5 1803.5,748.9" fill="none" stroke="#9c9c9c" stroke-width="1.5" stroke-linejoin="round" stroke-linecap="round"/>
<polyline points="1803.5,748.9 1808.7,740.7" fill="none" stroke="#c0c0c0" stroke-width="1.5" stroke-linejoin="round" stroke-linecap="round"/>
<polyline points="1597.9,900.1 1603.1,887.2 1608.3,874.3" fill="none" stroke="#a8a8a8" stroke-width="2.2" stroke-linejoin="round" stroke-linecap="round"/>
<polyline points="1608.3,874.3 1614.5,868.4" fill="none" stroke="#6c6c6c" stroke-width="2.2" stroke-linejoin="round" stroke-linecap="round"/>
<polyline points="1614.5,868.4 1627,867.3 1658.1,866.1 1678.9,868 1699.6,869.6 1722.5,868.9" fill="none" stroke="#484848" stroke-width="2.2" stroke-linejoin="round" stroke-linecap="round"/>
<polyline points="1722.5,868.9 1724.6,869.9" fill="none" stroke="#545454" stroke-width="2.2" stroke-linejoin="round" stroke-linecap="round"/>
<polyline points="1724.6,869.9 1730.8,872.7" fill="none" stroke="#3c3c3c" stroke-width="2.4" stroke-linejoin="round" stroke-linecap="round"/>
<polyline points="1730.8,872.7 1735,863.8" fill="none" stroke="#9c9c9c" stroke-width="2.4" stroke-linejoin="round" stroke-linecap="round"/>
<polyline points="1735,863.8 1739.1,845" fill="none" stroke="#b4b4b4" stroke-width="2.4" stroke-linejoin="round" stroke-linecap="round"/>
<polyline points="1739.1,845 1743.3,838" fill="none" stroke="#848484" stroke-width="2.4" stroke-linejoin="round" stroke-linecap="round"/>
<polyline points="1743.3,838 1749.5,835.6" fill="none" stroke="#3c3c3c" stroke-width="2.4" stroke-linejoin="round" stroke-linecap="round"/>
<polyline points="1749.5,835.6 1755.7,836.8" fill="none" stroke="#303030" stroke-width="2.4" stroke-linejoin="round" stroke-linecap="round"/>
<polyline points="1755.7,836.8 1762,827.4" fill="none" stroke="#848484" stroke-width="2.4" stroke-linejoin="round" stroke-linecap="round"/>
<polyline points="1762,827.4 1768.2,814.5" fill="none" stroke="#9c9c9c" stroke-width="2.4" stroke-linejoin="round" stroke-linecap="round"/>
<polyline points="1768.2,814.5 1774.4,808.7" fill="none" stroke="#606060" stroke-width="2.4" stroke-linejoin="round" stroke-linecap="round"/>
<polyline points="1774.4,808.7 1782.7,808" fill="none" stroke="#303030" stroke-width="2.4" stroke-linejoin="round" stroke-linecap="round"/>
<polyline points="1782.7,808 1790,814.5" fill="none" stroke="#606060" stroke-width="2.4" stroke-linejoin="round" stroke-linecap="round"/>
<polyline points="1790,814.5 1797.3,822.8" fill="none" stroke="#6c6c6c" stroke-width="2.4" stroke-linejoin="round" stroke-linecap="round"/>
<polyline points="1797.3,822.8 1802.4,825.1" fill="none" stroke="#3c3c3c" stroke-width="2.4" stroke-linejoin="round" stroke-linecap="round"/>
<polyline points="1802.4,825.1 1811.8,819.2" fill="none" stroke="#484848" stroke-width="2.4" stroke-linejoin="round" stroke-linecap="round"/>
<polyline points="1811.8,819.2 1822.2,816.2" fill="none" stroke="#3c3c3c" stroke-width="2.4" stroke-linejoin="round" stroke-linecap="round"/>
<polyline points="1822.2,816.2 1835.7,816.2" fill="none" stroke="#303030" stroke-width="2.4" stroke-linejoin="round" stroke-linecap="round"/>
<polyline points="1751.6,907.3 1782.7,907.3" fill="none" stroke="#c0c0c0" stroke-width="1.2" stroke-linejoin="round" stroke-linecap="round"/>
<polyline points="1673.1,906.9 1724.6,906.9" fill="none" stroke="#909090" stroke-width="1.5" stroke-linejoin="round" stroke-linecap="round"/>
<polyline points="1724.6,906.9 1758.8,906.9" fill="none" stroke="#909090" stroke-width="1.5" stroke-linejoin="round" stroke-linecap="round"/>
<polyline points="1651.9,916.5 1657.1,924.7" fill="none" stroke="#d8d8d8" stroke-width="1.1" stroke-linejoin="round" stroke-linecap="round"/>
<polyline points="1657.1,924.7 1661.2,934.1" fill="none" stroke="#e4e4e4" stroke-width="1.1" stroke-linejoin="round" stroke-linecap="round"/>
<polyline points="1661.2,934.1 1666.4,941.1" fill="none" stroke="#d8d8d8" stroke-width="1.1" stroke-linejoin="round" stroke-linecap="round"/>
<polyline points="1666.4,941.1 1674.7,945.3" fill="none" stroke="#cccccc" stroke-width="1.1" stroke-linejoin="round" stroke-linecap="round"/>
<polyline points="1674.7,945.3 1689.3,946.9 1699.6,945.8 1710,946.2" fill="none" stroke="#c0c0c0" stroke-width="1.1" stroke-linejoin="round" stroke-linecap="round"/>
<polyline points="1710,946.2 1718.3,949.3" fill="none" stroke="#cccccc" stroke-width="1.1" stroke-linejoin="round" stroke-linecap="round"/>
<polyline points="1718.3,949.3 1724.6,948.9" fill="none" stroke="#c0c0c0" stroke-width="1.1" stroke-linejoin="round" stroke-linecap="round"/>
<polyline points="1724.6,948.9 1728.7,948.6" fill="none" stroke="#9c9c9c" stroke-width="1.4" stroke-linejoin="round" stroke-linecap="round"/>
<polyline points="1728.7,948.6 1732.9,943.4" fill="none" stroke="#b4b4b4" stroke-width="1.4" stroke-linejoin="round" stroke-linecap="round"/>
<polyline points="1732.9,943.4 1737,934.1" fill="none" stroke="#cccccc" stroke-width="1.4" stroke-linejoin="round" stroke-linecap="round"/>
<polyline points="1737,934.1 1743.3,928.2" fill="none" stroke="#b4b4b4" stroke-width="1.4" stroke-linejoin="round" stroke-linecap="round"/>
<polyline points="1743.3,928.2 1751.6,927 1759.9,923.5" fill="none" stroke="#9c9c9c" stroke-width="1.4" stroke-linejoin="round" stroke-linecap="round"/>
<polyline points="1759.9,923.5 1768.2,917.7" fill="none" stroke="#a8a8a8" stroke-width="1.4" stroke-linejoin="round" stroke-linecap="round"/>
<line x1="1724.6" y1="658" x2="1724.6" y2="1159.9" stroke="#000" stroke-width="3.4" stroke-dasharray="7 6.3"/>
<rect x="1892" y="654.8" width="16" height="505" fill="url(#cb)" stroke="#4a4a4a" stroke-width="1.6"/>
<line x1="1904" y1="1109.3" x2="1908" y2="1109.3" stroke="#4a4a4a" stroke-width="1" />
<line x1="1904" y1="1058.8" x2="1908" y2="1058.8" stroke="#4a4a4a" stroke-width="1" />
<line x1="1904" y1="1008.3" x2="1908" y2="1008.3" stroke="#4a4a4a" stroke-width="1" />
<line x1="1904" y1="957.8" x2="1908" y2="957.8" stroke="#4a4a4a" stroke-width="1" />
<line x1="1904" y1="907.3" x2="1908" y2="907.3" stroke="#4a4a4a" stroke-width="1" />
<line x1="1904" y1="856.8" x2="1908" y2="856.8" stroke="#4a4a4a" stroke-width="1" />
<line x1="1904" y1="806.3" x2="1908" y2="806.3" stroke="#4a4a4a" stroke-width="1" />
<line x1="1904" y1="755.8" x2="1908" y2="755.8" stroke="#4a4a4a" stroke-width="1" />
<line x1="1904" y1="705.3" x2="1908" y2="705.3" stroke="#4a4a4a" stroke-width="1" />
<text x="1911.5" y="1163.3" font-size="31" text-anchor="start" font-weight="normal" fill="#404040" >0</text>
<text x="1911.5" y="911.9" font-size="31" text-anchor="start" font-weight="normal" fill="#404040" >5</text>
<text x="1911.5" y="660.5" font-size="31" text-anchor="start" font-weight="normal" fill="#404040" >&gt;=10</text>
<line x1="168.6" y1="1298.8" x2="168.6" y2="1803.2" stroke="#dedede" stroke-width="1.4" />
<line x1="168.6" y1="1803.2" x2="168.6" y2="1798.2" stroke="#909090" stroke-width="1.2" />
<line x1="264.4" y1="1298.8" x2="264.4" y2="1803.2" stroke="#dedede" stroke-width="1.4" />
<line x1="264.4" y1="1803.2" x2="264.4" y2="1798.2" stroke="#909090" stroke-width="1.2" />
<line x1="360.2" y1="1298.8" x2="360.2" y2="1803.2" stroke="#dedede" stroke-width="1.4" />
<line x1="360.2" y1="1803.2" x2="360.2" y2="1798.2" stroke="#909090" stroke-width="1.2" />
<line x1="456" y1="1298.8" x2="456" y2="1803.2" stroke="#dedede" stroke-width="1.4" />
<line x1="456" y1="1803.2" x2="456" y2="1798.2" stroke="#909090" stroke-width="1.2" />
<line x1="89.3" y1="1803.2" x2="94.3" y2="1803.2" stroke="#909090" stroke-width="1.2" />
<line x1="89.3" y1="1752.8" x2="477" y2="1752.8" stroke="#dedede" stroke-width="1.4" />
<line x1="89.3" y1="1752.8" x2="94.3" y2="1752.8" stroke="#909090" stroke-width="1.2" />
<line x1="89.3" y1="1702.3" x2="477" y2="1702.3" stroke="#dedede" stroke-width="1.4" />
<line x1="89.3" y1="1702.3" x2="94.3" y2="1702.3" stroke="#909090" stroke-width="1.2" />
<line x1="89.3" y1="1651.9" x2="477" y2="1651.9" stroke="#dedede" stroke-width="1.4" />
<line x1="89.3" y1="1651.9" x2="94.3" y2="1651.9" stroke="#909090" stroke-width="1.2" />
<line x1="89.3" y1="1601.4" x2="477" y2="1601.4" stroke="#dedede" stroke-width="1.4" />
<line x1="89.3" y1="1601.4" x2="94.3" y2="1601.4" stroke="#909090" stroke-width="1.2" />
<line x1="89.3" y1="1551" x2="477" y2="1551" stroke="#dedede" stroke-width="1.4" />
<line x1="89.3" y1="1551" x2="94.3" y2="1551" stroke="#909090" stroke-width="1.2" />
<line x1="89.3" y1="1500.6" x2="477" y2="1500.6" stroke="#dedede" stroke-width="1.4" />
<line x1="89.3" y1="1500.6" x2="94.3" y2="1500.6" stroke="#909090" stroke-width="1.2" />
<line x1="89.3" y1="1450.1" x2="477" y2="1450.1" stroke="#dedede" stroke-width="1.4" />
<line x1="89.3" y1="1450.1" x2="94.3" y2="1450.1" stroke="#909090" stroke-width="1.2" />
<line x1="89.3" y1="1399.7" x2="477" y2="1399.7" stroke="#dedede" stroke-width="1.4" />
<line x1="89.3" y1="1399.7" x2="94.3" y2="1399.7" stroke="#909090" stroke-width="1.2" />
<line x1="89.3" y1="1349.2" x2="477" y2="1349.2" stroke="#dedede" stroke-width="1.4" />
<line x1="89.3" y1="1349.2" x2="94.3" y2="1349.2" stroke="#909090" stroke-width="1.2" />
<line x1="89.3" y1="1298.8" x2="477" y2="1298.8" stroke="#dedede" stroke-width="1.4" />
<line x1="89.3" y1="1298.8" x2="94.3" y2="1298.8" stroke="#909090" stroke-width="1.2" />
<line x1="89.3" y1="1298.3" x2="89.3" y2="1804" stroke="#c0c0c0" stroke-width="1.5" />
<line x1="88.5" y1="1803.2" x2="477" y2="1803.2" stroke="#c0c0c0" stroke-width="1.5" />
<line x1="264.4" y1="1300.8" x2="264.4" y2="1803.2" stroke="#000" stroke-width="2.8" stroke-dasharray="7 6.3"/>
<text x="171.4" y="1837.4" font-size="31" text-anchor="middle" font-weight="normal" fill="#404040" >-50</text>
<text x="267.6" y="1837.4" font-size="31" text-anchor="middle" font-weight="normal" fill="#404040" >0</text>
<text x="463.5" y="1837.4" font-size="31" text-anchor="middle" font-weight="normal" fill="#404040" >100</text>
<text x="277" y="1870" font-size="30.5" text-anchor="middle" font-weight="normal" fill="#404040" >Laps</text>
<text x="286.9" y="1292.4" font-size="30.4" text-anchor="middle" font-weight="bold" fill="#000" >Rat 692 - Population Gain</text>
<text x="77.5" y="1807.2" font-size="31" text-anchor="end" font-weight="normal" fill="#404040" >0</text>
<text x="77.5" y="1756.8" font-size="31" text-anchor="end" font-weight="normal" fill="#404040" >0.2</text>
<text x="77.5" y="1706.3" font-size="31" text-anchor="end" font-weight="normal" fill="#404040" >0.4</text>
<text x="77.5" y="1655.9" font-size="31" text-anchor="end" font-weight="normal" fill="#404040" >0.6</text>
<text x="77.5" y="1605.4" font-size="31" text-anchor="end" font-weight="normal" fill="#404040" >0.8</text>
<text x="77.5" y="1555" font-size="31" text-anchor="end" font-weight="normal" fill="#404040" >1</text>
<text x="77.5" y="1504.6" font-size="31" text-anchor="end" font-weight="normal" fill="#404040" >1.2</text>
<text x="77.5" y="1454.1" font-size="31" text-anchor="end" font-weight="normal" fill="#404040" >1.4</text>
<text x="77.5" y="1403.7" font-size="31" text-anchor="end" font-weight="normal" fill="#404040" >1.6</text>
<text x="77.5" y="1353.2" font-size="31" text-anchor="end" font-weight="normal" fill="#404040" >1.8</text>
<text x="77.5" y="1302.8" font-size="31" text-anchor="end" font-weight="normal" fill="#404040" >2</text>
<text x="29.8" y="1499" font-size="30.5" text-anchor="middle" font-weight="normal" fill="#404040" transform="rotate(-90 29.8 1499)">Estimated gain</text>
<text x="420.4" y="1749.1" font-size="23" text-anchor="middle" font-weight="normal" fill="#000" >Landmarks</text>
<text x="420.4" y="1776.4" font-size="23" text-anchor="middle" font-weight="normal" fill="#000" >off</text>
<polyline points="120.1,1551.5 135.4,1552.2 141.2,1561.6 148.2,1579.2 157.6,1597.9 167,1619 176.3,1640.1 183.4,1661.1 188,1679.9 195.1,1693.9 202.1,1710.3 209.1,1729.1 216.1,1740.8 223.2,1745.5 234.9,1743.1 248.9,1741.9 259.5,1738.4 264.2,1733.7 265.3,1705.6 267.7,1670.5 272.4,1651.8 279.4,1640.1 286.4,1636.6 300.5,1631.9 312.2,1633 321.5,1626 329.7,1621.3 335.6,1615.5 339.1,1606.1 345,1607.3 352,1612 361.3,1614.8 370.7,1613.1 380.6,1612.4" fill="none" stroke="#4DBEEE" stroke-width="6.8" stroke-linejoin="round" stroke-linecap="butt"/>
<polyline points="270,1476.4 284.1,1478.7 295.8,1485.7 309.8,1489.3 321.5,1491.6 330.9,1493.9" fill="none" stroke="#7E2F8E" stroke-width="6.8" stroke-linejoin="round" stroke-linecap="butt"/>
<polyline points="265.3,1440.1 267.7,1465.8 270,1467 284.1,1468.2 293.4,1475.2 305.1,1481.1 319.2,1484.6 333.2,1488.1 342.6,1486.4 352,1485.7 359,1487.4 368.4,1485.7" fill="none" stroke="#A2142F" stroke-width="6.8" stroke-linejoin="round" stroke-linecap="butt"/>
<polyline points="121.3,1549 127.2,1551.3 135.4,1549 142.4,1540.8 150.6,1522 159.9,1498.6 169.3,1475.2 178.7,1451.8 188,1428.4 197.4,1404.9 206.8,1379.2 213.8,1364 220.8,1358.6 253.6,1358.6 259.5,1361.6 261.8,1376.8 263,1412 265.3,1440.1 270,1445.9 279.4,1447.1 291.1,1444.8 298.1,1447.1 307.5,1454.1 319.2,1451.8 326.2,1456.5 330.9,1468.2 336.8,1475.2 342.6,1468.2 347.3,1451.8 354.3,1451.8 361.3,1457.6 368.4,1449.4 375.4,1446.6 389.4,1447.1 398.8,1448.3 405.8,1446.6 417.6,1451.8 429.3,1453" fill="none" stroke="#7E2F8E" stroke-width="7" stroke-linejoin="round" stroke-linecap="butt"/>
<polyline points="171.7,1550.6 341.4,1550.6 347.3,1558.3 354.3,1563 359,1554.8 362.5,1550.6 391.8,1550.6" fill="none" stroke="#0072BD" stroke-width="6.8" stroke-linejoin="round" stroke-linecap="butt"/>
<polyline points="197.4,1549 202.1,1540.8 206.8,1526.7 212.6,1516.2 219.7,1512.7 248.9,1512.7 263,1512.2 270,1508 277,1501 288.7,1499.1 300.5,1498.6" fill="none" stroke="#0072BD" stroke-width="6.8" stroke-linejoin="round" stroke-linecap="butt"/>
<polyline points="237.2,1550.6 258.3,1550.6 265.3,1549" fill="none" stroke="#77AC30" stroke-width="6.8" stroke-linejoin="round" stroke-linecap="butt"/>
<polyline points="263,1519.7 270,1524.4 279.4,1523.2 286.4,1520.9 292.3,1524.4 295.8,1525.6" fill="none" stroke="#77AC30" stroke-width="6.8" stroke-linejoin="round" stroke-linecap="butt"/>
<polyline points="265.3,1545.5 272.4,1539.6 284.1,1536.1 295.8,1533.7 307.5,1531.4 319.2,1529.1 330.9,1526.7 342.6,1527.9 354.3,1529.1 361.3,1532.6 370.7,1526.7 384.8,1525.6 398.8,1523.2 410.5,1520.9 419.9,1524.4 429.3,1529.1 436.3,1533.3 443.3,1527.9 452.7,1524.4 459.7,1523.2 464.4,1518.5 470.2,1522 473.8,1530.2 476.6,1533.7" fill="none" stroke="#77AC30" stroke-width="6.8" stroke-linejoin="round" stroke-linecap="butt"/>
<polyline points="181,1550.6 190.4,1550.6 197.4,1554.8 204.4,1568.9 211.5,1582.9 218.5,1588.8 230.2,1591.1 248.9,1591.1 270,1590 270.5,1578.2 272.4,1564.2 277,1554.8 284.1,1550.6 321.5,1550.6" fill="none" stroke="#D95319" stroke-width="6.8" stroke-linejoin="round" stroke-linecap="butt"/>
<polyline points="272.4,1575.9 279.4,1573.6 284.1,1560.7 289.9,1556" fill="none" stroke="#D95319" stroke-width="5" stroke-linejoin="round" stroke-linecap="butt" stroke-dasharray="5 2"/>
<polyline points="151.7,1551.5 165.8,1551.5 174,1565.1 181,1583.9 188,1602.6 195.1,1621.3 202.1,1640.1 209.1,1656.5 216.1,1664.7 225.5,1665.8 237.2,1668.2 248.9,1667 258.3,1662.3 263,1647.1 265.3,1630.7 270,1620.2 277,1615.5 291.1,1612.4 307.5,1612" fill="none" stroke="#EDB120" stroke-width="6.8" stroke-linejoin="round" stroke-linecap="butt"/>
<polyline points="151.7,1550.6 164.6,1550.1 171.7,1543.1 178.7,1526.7 188,1501 197.4,1475.2 204.4,1456.5 211.5,1442.4 219.7,1435.4 225.5,1434.2 258.3,1434.2 261.8,1442.4 265.3,1461.1 268.8,1489.3 272.4,1497.4 277,1493.9 282.9,1482.2 288.7,1478.7 295.8,1482.2 307.5,1483.4 319.2,1483.4" fill="none" stroke="#EDB120" stroke-width="6.8" stroke-linejoin="round" stroke-linecap="butt"/>
<line x1="264.4" y1="1300.8" x2="264.4" y2="1803.2" stroke="#000" stroke-width="2.8" stroke-dasharray="7 6.3"/>
<line x1="605.3" y1="1298.8" x2="605.3" y2="1803.2" stroke="#dcdcdc" stroke-width="1.6" />
<line x1="605.3" y1="1803.2" x2="605.3" y2="1798.2" stroke="#b8b8b8" stroke-width="1.2" />
<line x1="689.3" y1="1298.8" x2="689.3" y2="1803.2" stroke="#dcdcdc" stroke-width="1.6" />
<line x1="689.3" y1="1803.2" x2="689.3" y2="1798.2" stroke="#b8b8b8" stroke-width="1.2" />
<line x1="773.3" y1="1298.8" x2="773.3" y2="1803.2" stroke="#dcdcdc" stroke-width="1.6" />
<line x1="773.3" y1="1803.2" x2="773.3" y2="1798.2" stroke="#b8b8b8" stroke-width="1.2" />
<line x1="857.3" y1="1298.8" x2="857.3" y2="1803.2" stroke="#dcdcdc" stroke-width="1.6" />
<line x1="857.3" y1="1803.2" x2="857.3" y2="1798.2" stroke="#b8b8b8" stroke-width="1.2" />
<line x1="534.2" y1="1803.2" x2="539.2" y2="1803.2" stroke="#b8b8b8" stroke-width="1.2" />
<line x1="534.2" y1="1752.8" x2="877.6" y2="1752.8" stroke="#dcdcdc" stroke-width="1.6" />
<line x1="534.2" y1="1752.8" x2="539.2" y2="1752.8" stroke="#b8b8b8" stroke-width="1.2" />
<line x1="534.2" y1="1702.3" x2="877.6" y2="1702.3" stroke="#dcdcdc" stroke-width="1.6" />
<line x1="534.2" y1="1702.3" x2="539.2" y2="1702.3" stroke="#b8b8b8" stroke-width="1.2" />
<line x1="534.2" y1="1651.9" x2="877.6" y2="1651.9" stroke="#dcdcdc" stroke-width="1.6" />
<line x1="534.2" y1="1651.9" x2="539.2" y2="1651.9" stroke="#b8b8b8" stroke-width="1.2" />
<line x1="534.2" y1="1601.4" x2="877.6" y2="1601.4" stroke="#dcdcdc" stroke-width="1.6" />
<line x1="534.2" y1="1601.4" x2="539.2" y2="1601.4" stroke="#b8b8b8" stroke-width="1.2" />
<line x1="534.2" y1="1551" x2="877.6" y2="1551" stroke="#dcdcdc" stroke-width="1.6" />
<line x1="534.2" y1="1551" x2="539.2" y2="1551" stroke="#b8b8b8" stroke-width="1.2" />
<line x1="534.2" y1="1500.6" x2="877.6" y2="1500.6" stroke="#dcdcdc" stroke-width="1.6" />
<line x1="534.2" y1="1500.6" x2="539.2" y2="1500.6" stroke="#b8b8b8" stroke-width="1.2" />
<line x1="534.2" y1="1450.1" x2="877.6" y2="1450.1" stroke="#dcdcdc" stroke-width="1.6" />
<line x1="534.2" y1="1450.1" x2="539.2" y2="1450.1" stroke="#b8b8b8" stroke-width="1.2" />
<line x1="534.2" y1="1399.7" x2="877.6" y2="1399.7" stroke="#dcdcdc" stroke-width="1.6" />
<line x1="534.2" y1="1399.7" x2="539.2" y2="1399.7" stroke="#b8b8b8" stroke-width="1.2" />
<line x1="534.2" y1="1349.2" x2="877.6" y2="1349.2" stroke="#dcdcdc" stroke-width="1.6" />
<line x1="534.2" y1="1349.2" x2="539.2" y2="1349.2" stroke="#b8b8b8" stroke-width="1.2" />
<line x1="534.2" y1="1298.8" x2="877.6" y2="1298.8" stroke="#dcdcdc" stroke-width="1.6" />
<line x1="534.2" y1="1298.8" x2="539.2" y2="1298.8" stroke="#b8b8b8" stroke-width="1.2" />
<line x1="534.2" y1="1298.3" x2="534.2" y2="1804" stroke="#b8b8b8" stroke-width="1.5" />
<line x1="533.5" y1="1803.2" x2="877.6" y2="1803.2" stroke="#d4d4d4" stroke-width="1.5" />
<line x1="689.3" y1="1300.8" x2="689.3" y2="1803.2" stroke="#000" stroke-width="3.2" stroke-dasharray="7 6.3"/>
<text x="601.5" y="1837.4" font-size="31" text-anchor="middle" font-weight="normal" fill="#404040" >-50</text>
<text x="691.1" y="1837.4" font-size="31" text-anchor="middle" font-weight="normal" fill="#404040" >0</text>
<text x="857.3" y="1837.4" font-size="31" text-anchor="middle" font-weight="normal" fill="#404040" >100</text>
<text x="702.3" y="1870" font-size="30.5" text-anchor="middle" font-weight="normal" fill="#404040" >Laps</text>
<text x="712.6" y="1292.4" font-size="30.4" text-anchor="middle" font-weight="bold" fill="#000" >Rat 692 - Unit Gain</text>
<text x="823" y="1749.1" font-size="23" text-anchor="middle" font-weight="normal" fill="#000" >Landmarks</text>
<text x="823" y="1776.4" font-size="23" text-anchor="middle" font-weight="normal" fill="#000" >off</text>
<polyline points="562.8,1551.5 576.1,1552.2" fill="none" stroke="#c0c0c0" stroke-width="1.2" stroke-linejoin="round" stroke-linecap="round"/>
<polyline points="576.1,1552.2 581.3,1561.6" fill="none" stroke="#d8d8d8" stroke-width="1.2" stroke-linejoin="round" stroke-linecap="round"/>
<polyline points="581.3,1561.6 587.4,1579.2 595.7,1597.9 603.9,1619 612.1,1640.1 618.2,1661.1 622.3,1679.9 628.5,1693.9 634.7,1710.3 640.8,1729.1" fill="none" stroke="#e4e4e4" stroke-width="1.2" stroke-linejoin="round" stroke-linecap="round"/>
<polyline points="640.8,1729.1 647,1740.8" fill="none" stroke="#d8d8d8" stroke-width="1.2" stroke-linejoin="round" stroke-linecap="round"/>
<polyline points="647,1740.8 653.2,1745.5" fill="none" stroke="#cccccc" stroke-width="1.2" stroke-linejoin="round" stroke-linecap="round"/>
<polyline points="653.2,1745.5 663.4,1743.1 675.7,1741.9 685,1738.4" fill="none" stroke="#c0c0c0" stroke-width="1.2" stroke-linejoin="round" stroke-linecap="round"/>
<polyline points="685,1738.4 689.1,1733.7" fill="none" stroke="#cccccc" stroke-width="1.2" stroke-linejoin="round" stroke-linecap="round"/>
<polyline points="689.1,1733.7 689.3,1727.9" fill="none" stroke="#e4e4e4" stroke-width="1.2" stroke-linejoin="round" stroke-linecap="round"/>
<polyline points="689.3,1727.9 690.1,1705.6 692.2,1670.5 696.3,1651.8" fill="none" stroke="#d8d8d8" stroke-width="1.5" stroke-linejoin="round" stroke-linecap="round"/>
<polyline points="696.3,1651.8 702.4,1640.1" fill="none" stroke="#cccccc" stroke-width="1.5" stroke-linejoin="round" stroke-linecap="round"/>
<polyline points="702.4,1640.1 708.6,1636.6" fill="none" stroke="#a8a8a8" stroke-width="1.5" stroke-linejoin="round" stroke-linecap="round"/>
<polyline points="708.6,1636.6 720.9,1631.9 731.2,1633" fill="none" stroke="#9c9c9c" stroke-width="1.5" stroke-linejoin="round" stroke-linecap="round"/>
<polyline points="731.2,1633 739.4,1626 746.6,1621.3" fill="none" stroke="#a8a8a8" stroke-width="1.5" stroke-linejoin="round" stroke-linecap="round"/>
<polyline points="746.6,1621.3 751.7,1615.5" fill="none" stroke="#b4b4b4" stroke-width="1.5" stroke-linejoin="round" stroke-linecap="round"/>
<polyline points="751.7,1615.5 754.8,1606.1" fill="none" stroke="#d8d8d8" stroke-width="1.5" stroke-linejoin="round" stroke-linecap="round"/>
<polyline points="754.8,1606.1 759.9,1607.3" fill="none" stroke="#9c9c9c" stroke-width="1.5" stroke-linejoin="round" stroke-linecap="round"/>
<polyline points="759.9,1607.3 766.1,1612" fill="none" stroke="#a8a8a8" stroke-width="1.5" stroke-linejoin="round" stroke-linecap="round"/>
<polyline points="766.1,1612 774.3,1614.8 782.5,1613.1 791.1,1612.4" fill="none" stroke="#9c9c9c" stroke-width="1.5" stroke-linejoin="round" stroke-linecap="round"/>
<polyline points="694.2,1476.4 706.5,1478.7" fill="none" stroke="#a8a8a8" stroke-width="1.3" stroke-linejoin="round" stroke-linecap="round"/>
<polyline points="706.5,1478.7 716.8,1485.7" fill="none" stroke="#b4b4b4" stroke-width="1.3" stroke-linejoin="round" stroke-linecap="round"/>
<polyline points="716.8,1485.7 729.1,1489.3 739.4,1491.6 747.6,1493.9" fill="none" stroke="#a8a8a8" stroke-width="1.3" stroke-linejoin="round" stroke-linecap="round"/>
<polyline points="690.1,1440.1 692.2,1465.8" fill="none" stroke="#b4b4b4" stroke-width="2.3" stroke-linejoin="round" stroke-linecap="round"/>
<polyline points="692.2,1465.8 694.2,1467" fill="none" stroke="#484848" stroke-width="2.3" stroke-linejoin="round" stroke-linecap="round"/>
<polyline points="694.2,1467 706.5,1468.2" fill="none" stroke="#303030" stroke-width="2.3" stroke-linejoin="round" stroke-linecap="round"/>
<polyline points="706.5,1468.2 714.8,1475.2" fill="none" stroke="#606060" stroke-width="2.3" stroke-linejoin="round" stroke-linecap="round"/>
<polyline points="714.8,1475.2 725,1481.1" fill="none" stroke="#484848" stroke-width="2.3" stroke-linejoin="round" stroke-linecap="round"/>
<polyline points="725,1481.1 737.3,1484.6 749.7,1488.1 757.9,1486.4" fill="none" stroke="#3c3c3c" stroke-width="2.3" stroke-linejoin="round" stroke-linecap="round"/>
<polyline points="757.9,1486.4 766.1,1485.7" fill="none" stroke="#303030" stroke-width="2.3" stroke-linejoin="round" stroke-linecap="round"/>
<polyline points="766.1,1485.7 772.3,1487.4 780.5,1485.7" fill="none" stroke="#3c3c3c" stroke-width="2.3" stroke-linejoin="round" stroke-linecap="round"/>
<polyline points="563.8,1549 569,1551.3 576.1,1549" fill="none" stroke="#3c3c3c" stroke-width="1.7" stroke-linejoin="round" stroke-linecap="round"/>
<polyline points="576.1,1549 582.3,1540.8" fill="none" stroke="#787878" stroke-width="1.7" stroke-linejoin="round" stroke-linecap="round"/>
<polyline points="582.3,1540.8 589.5,1522 597.7,1498.6 605.9,1475.2 614.1,1451.8 622.3,1428.4 630.6,1404.9" fill="none" stroke="#a8a8a8" stroke-width="1.7" stroke-linejoin="round" stroke-linecap="round"/>
<polyline points="630.6,1404.9 638.8,1379.2" fill="none" stroke="#b4b4b4" stroke-width="1.7" stroke-linejoin="round" stroke-linecap="round"/>
<polyline points="638.8,1379.2 644.9,1364" fill="none" stroke="#9c9c9c" stroke-width="1.7" stroke-linejoin="round" stroke-linecap="round"/>
<polyline points="644.9,1364 651.1,1358.6" fill="none" stroke="#606060" stroke-width="1.7" stroke-linejoin="round" stroke-linecap="round"/>
<polyline points="651.1,1358.6 679.8,1358.6" fill="none" stroke="#303030" stroke-width="1.7" stroke-linejoin="round" stroke-linecap="round"/>
<polyline points="679.8,1358.6 685,1361.6" fill="none" stroke="#484848" stroke-width="1.7" stroke-linejoin="round" stroke-linecap="round"/>
<polyline points="685,1361.6 687,1376.8 688.1,1412 689.3,1428.9" fill="none" stroke="#b4b4b4" stroke-width="1.7" stroke-linejoin="round" stroke-linecap="round"/>
<polyline points="689.3,1428.9 690.1,1440.1" fill="none" stroke="#e4e4e4" stroke-width="1.3" stroke-linejoin="round" stroke-linecap="round"/>
<polyline points="690.1,1440.1 694.2,1445.9" fill="none" stroke="#cccccc" stroke-width="1.3" stroke-linejoin="round" stroke-linecap="round"/>
<polyline points="694.2,1445.9 702.4,1447.1 712.7,1444.8" fill="none" stroke="#a8a8a8" stroke-width="1.3" stroke-linejoin="round" stroke-linecap="round"/>
<polyline points="712.7,1444.8 718.9,1447.1" fill="none" stroke="#b4b4b4" stroke-width="1.3" stroke-linejoin="round" stroke-linecap="round"/>
<polyline points="718.9,1447.1 727.1,1454.1" fill="none" stroke="#c0c0c0" stroke-width="1.3" stroke-linejoin="round" stroke-linecap="round"/>
<polyline points="727.1,1454.1 737.3,1451.8" fill="none" stroke="#a8a8a8" stroke-width="1.3" stroke-linejoin="round" stroke-linecap="round"/>
<polyline points="737.3,1451.8 743.5,1456.5" fill="none" stroke="#b4b4b4" stroke-width="1.3" stroke-linejoin="round" stroke-linecap="round"/>
<polyline points="743.5,1456.5 747.6,1468.2" fill="none" stroke="#d8d8d8" stroke-width="1.3" stroke-linejoin="round" stroke-linecap="round"/>
<polyline points="747.6,1468.2 752.7,1475.2 757.9,1468.2" fill="none" stroke="#cccccc" stroke-width="1.3" stroke-linejoin="round" stroke-linecap="round"/>
<polyline points="757.9,1468.2 762,1451.8" fill="none" stroke="#e4e4e4" stroke-width="1.3" stroke-linejoin="round" stroke-linecap="round"/>
<polyline points="762,1451.8 768.1,1451.8" fill="none" stroke="#a8a8a8" stroke-width="1.3" stroke-linejoin="round" stroke-linecap="round"/>
<polyline points="768.1,1451.8 774.3,1457.6" fill="none" stroke="#c0c0c0" stroke-width="1.3" stroke-linejoin="round" stroke-linecap="round"/>
<polyline points="774.3,1457.6 780.5,1449.4" fill="none" stroke="#cccccc" stroke-width="1.3" stroke-linejoin="round" stroke-linecap="round"/>
<polyline points="780.5,1449.4 786.6,1446.6" fill="none" stroke="#b4b4b4" stroke-width="1.3" stroke-linejoin="round" stroke-linecap="round"/>
<polyline points="786.6,1446.6 798.9,1447.1 807.2,1448.3 813.3,1446.6" fill="none" stroke="#a8a8a8" stroke-width="1.3" stroke-linejoin="round" stroke-linecap="round"/>
<polyline points="813.3,1446.6 823.6,1451.8" fill="none" stroke="#b4b4b4" stroke-width="1.3" stroke-linejoin="round" stroke-linecap="round"/>
<polyline points="823.6,1451.8 833.9,1453" fill="none" stroke="#a8a8a8" stroke-width="1.3" stroke-linejoin="round" stroke-linecap="round"/>
<polyline points="608,1550.6 689.3,1550.6" fill="none" stroke="#a8a8a8" stroke-width="1.3" stroke-linejoin="round" stroke-linecap="round"/>
<polyline points="689.3,1550.6 756.9,1550.6" fill="none" stroke="#c0c0c0" stroke-width="1.3" stroke-linejoin="round" stroke-linecap="round"/>
<polyline points="756.9,1550.6 762,1558.3" fill="none" stroke="#d8d8d8" stroke-width="1.3" stroke-linejoin="round" stroke-linecap="round"/>
<polyline points="762,1558.3 768.1,1563" fill="none" stroke="#cccccc" stroke-width="1.3" stroke-linejoin="round" stroke-linecap="round"/>
<polyline points="768.1,1563 772.3,1554.8 775.3,1550.6" fill="none" stroke="#d8d8d8" stroke-width="1.3" stroke-linejoin="round" stroke-linecap="round"/>
<polyline points="775.3,1550.6 801,1550.6" fill="none" stroke="#c0c0c0" stroke-width="1.3" stroke-linejoin="round" stroke-linecap="round"/>
<polyline points="630.6,1549 634.7,1540.8" fill="none" stroke="#909090" stroke-width="2.1" stroke-linejoin="round" stroke-linecap="round"/>
<polyline points="634.7,1540.8 638.8,1526.7" fill="none" stroke="#a8a8a8" stroke-width="2.1" stroke-linejoin="round" stroke-linecap="round"/>
<polyline points="638.8,1526.7 643.9,1516.2" fill="none" stroke="#909090" stroke-width="2.1" stroke-linejoin="round" stroke-linecap="round"/>
<polyline points="643.9,1516.2 650.1,1512.7" fill="none" stroke="#3c3c3c" stroke-width="2.1" stroke-linejoin="round" stroke-linecap="round"/>
<polyline points="650.1,1512.7 675.7,1512.7 688.1,1512.2" fill="none" stroke="#242424" stroke-width="2.1" stroke-linejoin="round" stroke-linecap="round"/>
<polyline points="688.1,1512.2 689.3,1511.4" fill="none" stroke="#3c3c3c" stroke-width="2.1" stroke-linejoin="round" stroke-linecap="round"/>
<polyline points="689.3,1511.4 694.2,1508" fill="none" stroke="#545454" stroke-width="2.0" stroke-linejoin="round" stroke-linecap="round"/>
<polyline points="694.2,1508 700.4,1501" fill="none" stroke="#6c6c6c" stroke-width="2.0" stroke-linejoin="round" stroke-linecap="round"/>
<polyline points="700.4,1501 710.6,1499.1 720.9,1498.6" fill="none" stroke="#303030" stroke-width="2.0" stroke-linejoin="round" stroke-linecap="round"/>
<polyline points="665.5,1550.6 684,1550.6" fill="none" stroke="#606060" stroke-width="1.6" stroke-linejoin="round" stroke-linecap="round"/>
<polyline points="684,1550.6 689.3,1549.2" fill="none" stroke="#6c6c6c" stroke-width="1.6" stroke-linejoin="round" stroke-linecap="round"/>
<polyline points="689.3,1549.2 690.1,1549" fill="none" stroke="#545454" stroke-width="1.7" stroke-linejoin="round" stroke-linecap="round"/>
<polyline points="688.1,1519.7 689.3,1520.6" fill="none" stroke="#848484" stroke-width="1.6" stroke-linejoin="round" stroke-linecap="round"/>
<polyline points="689.3,1520.6 694.2,1524.4" fill="none" stroke="#6c6c6c" stroke-width="1.7" stroke-linejoin="round" stroke-linecap="round"/>
<polyline points="694.2,1524.4 702.4,1523.2" fill="none" stroke="#545454" stroke-width="1.7" stroke-linejoin="round" stroke-linecap="round"/>
<polyline points="702.4,1523.2 708.6,1520.9" fill="none" stroke="#606060" stroke-width="1.7" stroke-linejoin="round" stroke-linecap="round"/>
<polyline points="708.6,1520.9 713.7,1524.4" fill="none" stroke="#6c6c6c" stroke-width="1.7" stroke-linejoin="round" stroke-linecap="round"/>
<polyline points="713.7,1524.4 716.8,1525.6" fill="none" stroke="#606060" stroke-width="1.7" stroke-linejoin="round" stroke-linecap="round"/>
<polyline points="690.1,1545.5 696.3,1539.6" fill="none" stroke="#787878" stroke-width="1.7" stroke-linejoin="round" stroke-linecap="round"/>
<polyline points="696.3,1539.6 706.5,1536.1" fill="none" stroke="#606060" stroke-width="1.7" stroke-linejoin="round" stroke-linecap="round"/>
<polyline points="706.5,1536.1 716.8,1533.7 727.1,1531.4 737.3,1529.1 747.6,1526.7 757.9,1527.9 768.1,1529.1" fill="none" stroke="#545454" stroke-width="1.7" stroke-linejoin="round" stroke-linecap="round"/>
<polyline points="768.1,1529.1 774.3,1532.6 782.5,1526.7" fill="none" stroke="#6c6c6c" stroke-width="1.7" stroke-linejoin="round" stroke-linecap="round"/>
<polyline points="782.5,1526.7 794.8,1525.6 807.2,1523.2 817.4,1520.9" fill="none" stroke="#545454" stroke-width="1.7" stroke-linejoin="round" stroke-linecap="round"/>
<polyline points="817.4,1520.9 825.6,1524.4" fill="none" stroke="#606060" stroke-width="1.7" stroke-linejoin="round" stroke-linecap="round"/>
<polyline points="825.6,1524.4 833.9,1529.1 840,1533.3" fill="none" stroke="#6c6c6c" stroke-width="1.7" stroke-linejoin="round" stroke-linecap="round"/>
<polyline points="840,1533.3 846.2,1527.9" fill="none" stroke="#787878" stroke-width="1.7" stroke-linejoin="round" stroke-linecap="round"/>
<polyline points="846.2,1527.9 854.4,1524.4" fill="none" stroke="#606060" stroke-width="1.7" stroke-linejoin="round" stroke-linecap="round"/>
<polyline points="854.4,1524.4 860.6,1523.2" fill="none" stroke="#545454" stroke-width="1.7" stroke-linejoin="round" stroke-linecap="round"/>
<polyline points="860.6,1523.2 864.7,1518.5" fill="none" stroke="#848484" stroke-width="1.7" stroke-linejoin="round" stroke-linecap="round"/>
<polyline points="864.7,1518.5 869.8,1522" fill="none" stroke="#6c6c6c" stroke-width="1.7" stroke-linejoin="round" stroke-linecap="round"/>
<polyline points="869.8,1522 872.9,1530.2" fill="none" stroke="#b4b4b4" stroke-width="1.7" stroke-linejoin="round" stroke-linecap="round"/>
<polyline points="872.9,1530.2 875.3,1533.7" fill="none" stroke="#909090" stroke-width="1.7" stroke-linejoin="round" stroke-linecap="round"/>
<polyline points="616.2,1550.6 624.4,1550.6" fill="none" stroke="#242424" stroke-width="2.1" stroke-linejoin="round" stroke-linecap="round"/>
<polyline points="624.4,1550.6 630.6,1554.8" fill="none" stroke="#3c3c3c" stroke-width="2.1" stroke-linejoin="round" stroke-linecap="round"/>
<polyline points="630.6,1554.8 636.7,1568.9 642.9,1582.9" fill="none" stroke="#909090" stroke-width="2.1" stroke-linejoin="round" stroke-linecap="round"/>
<polyline points="642.9,1582.9 649,1588.8" fill="none" stroke="#545454" stroke-width="2.1" stroke-linejoin="round" stroke-linecap="round"/>
<polyline points="649,1588.8 659.3,1591.1 675.7,1591.1 689.3,1590.3" fill="none" stroke="#242424" stroke-width="2.1" stroke-linejoin="round" stroke-linecap="round"/>
<polyline points="689.3,1590.3 694.2,1590" fill="none" stroke="#848484" stroke-width="1.5" stroke-linejoin="round" stroke-linecap="round"/>
<polyline points="694.2,1590 694.6,1578.2 696.3,1564.2" fill="none" stroke="#cccccc" stroke-width="1.5" stroke-linejoin="round" stroke-linecap="round"/>
<polyline points="696.3,1564.2 700.4,1554.8" fill="none" stroke="#c0c0c0" stroke-width="1.5" stroke-linejoin="round" stroke-linecap="round"/>
<polyline points="700.4,1554.8 706.5,1550.6" fill="none" stroke="#9c9c9c" stroke-width="1.5" stroke-linejoin="round" stroke-linecap="round"/>
<polyline points="706.5,1550.6 739.4,1550.6" fill="none" stroke="#848484" stroke-width="1.5" stroke-linejoin="round" stroke-linecap="round"/>
<polyline points="696.3,1575.9 702.4,1573.6" fill="none" stroke="#909090" stroke-width="1.5" stroke-linejoin="round" stroke-linecap="round"/>
<polyline points="702.4,1573.6 706.5,1560.7" fill="none" stroke="#cccccc" stroke-width="1.5" stroke-linejoin="round" stroke-linecap="round"/>
<polyline points="706.5,1560.7 711.7,1556" fill="none" stroke="#9c9c9c" stroke-width="1.5" stroke-linejoin="round" stroke-linecap="round"/>
<polyline points="590.5,1551.5 602.8,1551.5" fill="none" stroke="#242424" stroke-width="1.9" stroke-linejoin="round" stroke-linecap="round"/>
<polyline points="602.8,1551.5 610,1565.1" fill="none" stroke="#848484" stroke-width="1.9" stroke-linejoin="round" stroke-linecap="round"/>
<polyline points="610,1565.1 616.2,1583.9 622.3,1602.6 628.5,1621.3 634.7,1640.1" fill="none" stroke="#a8a8a8" stroke-width="1.9" stroke-linejoin="round" stroke-linecap="round"/>
<polyline points="634.7,1640.1 640.8,1656.5" fill="none" stroke="#9c9c9c" stroke-width="1.9" stroke-linejoin="round" stroke-linecap="round"/>
<polyline points="640.8,1656.5 647,1664.7" fill="none" stroke="#6c6c6c" stroke-width="1.9" stroke-linejoin="round" stroke-linecap="round"/>
<polyline points="647,1664.7 655.2,1665.8 665.5,1668.2 675.7,1667" fill="none" stroke="#242424" stroke-width="1.9" stroke-linejoin="round" stroke-linecap="round"/>
<polyline points="675.7,1667 684,1662.3" fill="none" stroke="#3c3c3c" stroke-width="1.9" stroke-linejoin="round" stroke-linecap="round"/>
<polyline points="684,1662.3 688.1,1647.1 689.3,1637.2" fill="none" stroke="#a8a8a8" stroke-width="1.9" stroke-linejoin="round" stroke-linecap="round"/>
<polyline points="689.3,1637.2 690.1,1630.7 694.2,1620.2" fill="none" stroke="#cccccc" stroke-width="1.6" stroke-linejoin="round" stroke-linecap="round"/>
<polyline points="694.2,1620.2 700.4,1615.5" fill="none" stroke="#9c9c9c" stroke-width="1.6" stroke-linejoin="round" stroke-linecap="round"/>
<polyline points="700.4,1615.5 712.7,1612.4" fill="none" stroke="#909090" stroke-width="1.6" stroke-linejoin="round" stroke-linecap="round"/>
<polyline points="712.7,1612.4 727.1,1612" fill="none" stroke="#848484" stroke-width="1.6" stroke-linejoin="round" stroke-linecap="round"/>
<polyline points="590.5,1550.6 601.8,1550.1" fill="none" stroke="#242424" stroke-width="1.9" stroke-linejoin="round" stroke-linecap="round"/>
<polyline points="601.8,1550.1 608,1543.1" fill="none" stroke="#606060" stroke-width="1.9" stroke-linejoin="round" stroke-linecap="round"/>
<polyline points="608,1543.1 614.1,1526.7" fill="none" stroke="#9c9c9c" stroke-width="1.9" stroke-linejoin="round" stroke-linecap="round"/>
<polyline points="614.1,1526.7 622.3,1501 630.6,1475.2 636.7,1456.5" fill="none" stroke="#a8a8a8" stroke-width="1.9" stroke-linejoin="round" stroke-linecap="round"/>
<polyline points="636.7,1456.5 642.9,1442.4" fill="none" stroke="#909090" stroke-width="1.9" stroke-linejoin="round" stroke-linecap="round"/>
<polyline points="642.9,1442.4 650.1,1435.4" fill="none" stroke="#545454" stroke-width="1.9" stroke-linejoin="round" stroke-linecap="round"/>
<polyline points="650.1,1435.4 655.2,1434.2 684,1434.2" fill="none" stroke="#242424" stroke-width="1.9" stroke-linejoin="round" stroke-linecap="round"/>
<polyline points="684,1434.2 687,1442.4" fill="none" stroke="#9c9c9c" stroke-width="1.9" stroke-linejoin="round" stroke-linecap="round"/>
<polyline points="687,1442.4 689.3,1456.2" fill="none" stroke="#a8a8a8" stroke-width="1.9" stroke-linejoin="round" stroke-linecap="round"/>
<polyline points="689.3,1456.2 690.1,1461.1 693.2,1489.3 696.3,1497.4" fill="none" stroke="#cccccc" stroke-width="1.6" stroke-linejoin="round" stroke-linecap="round"/>
<polyline points="696.3,1497.4 700.4,1493.9" fill="none" stroke="#9c9c9c" stroke-width="1.6" stroke-linejoin="round" stroke-linecap="round"/>
<polyline points="700.4,1493.9 705.5,1482.2" fill="none" stroke="#c0c0c0" stroke-width="1.6" stroke-linejoin="round" stroke-linecap="round"/>
<polyline points="705.5,1482.2 710.6,1478.7" fill="none" stroke="#9c9c9c" stroke-width="1.6" stroke-linejoin="round" stroke-linecap="round"/>
<polyline points="710.6,1478.7 716.8,1482.2" fill="none" stroke="#909090" stroke-width="1.6" stroke-linejoin="round" stroke-linecap="round"/>
<polyline points="716.8,1482.2 727.1,1483.4 737.3,1483.4" fill="none" stroke="#848484" stroke-width="1.6" stroke-linejoin="round" stroke-linecap="round"/>
<line x1="689.3" y1="1300.8" x2="689.3" y2="1803.2" stroke="#000" stroke-width="3.2" stroke-dasharray="7 6.3"/>
<rect x="899" y="1298" width="16.4" height="505.2" fill="url(#cb)" stroke="#4a4a4a" stroke-width="1.6"/>
<line x1="911.4" y1="1752.7" x2="915.4" y2="1752.7" stroke="#4a4a4a" stroke-width="1" />
<line x1="911.4" y1="1702.2" x2="915.4" y2="1702.2" stroke="#4a4a4a" stroke-width="1" />
<line x1="911.4" y1="1651.6" x2="915.4" y2="1651.6" stroke="#4a4a4a" stroke-width="1" />
<line x1="911.4" y1="1601.1" x2="915.4" y2="1601.1" stroke="#4a4a4a" stroke-width="1" />
<line x1="911.4" y1="1550.6" x2="915.4" y2="1550.6" stroke="#4a4a4a" stroke-width="1" />
<line x1="911.4" y1="1500.1" x2="915.4" y2="1500.1" stroke="#4a4a4a" stroke-width="1" />
<line x1="911.4" y1="1449.6" x2="915.4" y2="1449.6" stroke="#4a4a4a" stroke-width="1" />
<line x1="911.4" y1="1399" x2="915.4" y2="1399" stroke="#4a4a4a" stroke-width="1" />
<line x1="911.4" y1="1348.5" x2="915.4" y2="1348.5" stroke="#4a4a4a" stroke-width="1" />
<text x="918.9" y="1806.7" font-size="31" text-anchor="start" font-weight="normal" fill="#404040" >0</text>
<text x="918.9" y="1555.2" font-size="31" text-anchor="start" font-weight="normal" fill="#404040" >5</text>
<text x="918.9" y="1303.7" font-size="31" text-anchor="start" font-weight="normal" fill="#404040" >&gt;=10</text>
<text x="14" y="37.5" font-size="37.5" text-anchor="start" font-weight="bold" fill="#000" >a</text>
<text x="1032.5" y="37" font-size="37.5" text-anchor="start" font-weight="bold" fill="#000" >b</text>
<text x="14" y="610.5" font-size="37.5" text-anchor="start" font-weight="bold" fill="#000" >c</text>
<text x="1032" y="610.5" font-size="37.5" text-anchor="start" font-weight="bold" fill="#000" >d</text>
<text x="13.5" y="1259" font-size="37.5" text-anchor="start" font-weight="bold" fill="#000" >e</text>
<text x="1151.5" y="1299" font-size="37.5" text-anchor="start" font-weight="bold" fill="#000" >f</text>
<text x="206.5" y="1964.5" font-size="37.5" text-anchor="start" font-weight="bold" fill="#000" >g</text>
<line x1="1366.4" y1="1327.6" x2="1366.4" y2="1735.2" stroke="#e4e4e4" stroke-width="1.3" />
<line x1="1309" y1="1689.9" x2="1825.2" y2="1689.9" stroke="#e4e4e4" stroke-width="1.3" />
<line x1="1366.4" y1="1735.2" x2="1366.4" y2="1730.2" stroke="#555" stroke-width="1.2" />
<line x1="1309" y1="1689.9" x2="1314" y2="1689.9" stroke="#555" stroke-width="1.2" />
<line x1="1423.7" y1="1327.6" x2="1423.7" y2="1735.2" stroke="#e4e4e4" stroke-width="1.3" />
<line x1="1309" y1="1644.6" x2="1825.2" y2="1644.6" stroke="#e4e4e4" stroke-width="1.3" />
<line x1="1423.7" y1="1735.2" x2="1423.7" y2="1730.2" stroke="#555" stroke-width="1.2" />
<line x1="1309" y1="1644.6" x2="1314" y2="1644.6" stroke="#555" stroke-width="1.2" />
<line x1="1481.1" y1="1327.6" x2="1481.1" y2="1735.2" stroke="#e4e4e4" stroke-width="1.3" />
<line x1="1309" y1="1599.3" x2="1825.2" y2="1599.3" stroke="#e4e4e4" stroke-width="1.3" />
<line x1="1481.1" y1="1735.2" x2="1481.1" y2="1730.2" stroke="#555" stroke-width="1.2" />
<line x1="1309" y1="1599.3" x2="1314" y2="1599.3" stroke="#555" stroke-width="1.2" />
<line x1="1538.4" y1="1327.6" x2="1538.4" y2="1735.2" stroke="#e4e4e4" stroke-width="1.3" />
<line x1="1309" y1="1554" x2="1825.2" y2="1554" stroke="#e4e4e4" stroke-width="1.3" />
<line x1="1538.4" y1="1735.2" x2="1538.4" y2="1730.2" stroke="#555" stroke-width="1.2" />
<line x1="1309" y1="1554" x2="1314" y2="1554" stroke="#555" stroke-width="1.2" />
<line x1="1595.8" y1="1327.6" x2="1595.8" y2="1735.2" stroke="#e4e4e4" stroke-width="1.3" />
<line x1="1309" y1="1508.8" x2="1825.2" y2="1508.8" stroke="#e4e4e4" stroke-width="1.3" />
<line x1="1595.8" y1="1735.2" x2="1595.8" y2="1730.2" stroke="#555" stroke-width="1.2" />
<line x1="1309" y1="1508.8" x2="1314" y2="1508.8" stroke="#555" stroke-width="1.2" />
<line x1="1653.1" y1="1327.6" x2="1653.1" y2="1735.2" stroke="#e4e4e4" stroke-width="1.3" />
<line x1="1309" y1="1463.5" x2="1825.2" y2="1463.5" stroke="#e4e4e4" stroke-width="1.3" />
<line x1="1653.1" y1="1735.2" x2="1653.1" y2="1730.2" stroke="#555" stroke-width="1.2" />
<line x1="1309" y1="1463.5" x2="1314" y2="1463.5" stroke="#555" stroke-width="1.2" />
<line x1="1710.5" y1="1327.6" x2="1710.5" y2="1735.2" stroke="#e4e4e4" stroke-width="1.3" />
<line x1="1309" y1="1418.2" x2="1825.2" y2="1418.2" stroke="#e4e4e4" stroke-width="1.3" />
<line x1="1710.5" y1="1735.2" x2="1710.5" y2="1730.2" stroke="#555" stroke-width="1.2" />
<line x1="1309" y1="1418.2" x2="1314" y2="1418.2" stroke="#555" stroke-width="1.2" />
<line x1="1767.8" y1="1327.6" x2="1767.8" y2="1735.2" stroke="#e4e4e4" stroke-width="1.3" />
<line x1="1309" y1="1372.9" x2="1825.2" y2="1372.9" stroke="#e4e4e4" stroke-width="1.3" />
<line x1="1767.8" y1="1735.2" x2="1767.8" y2="1730.2" stroke="#555" stroke-width="1.2" />
<line x1="1309" y1="1372.9" x2="1314" y2="1372.9" stroke="#555" stroke-width="1.2" />
<line x1="1825.2" y1="1327.6" x2="1825.2" y2="1735.2" stroke="#e4e4e4" stroke-width="1.3" />
<line x1="1309" y1="1327.6" x2="1825.2" y2="1327.6" stroke="#e4e4e4" stroke-width="1.3" />
<line x1="1825.2" y1="1735.2" x2="1825.2" y2="1730.2" stroke="#555" stroke-width="1.2" />
<line x1="1309" y1="1327.6" x2="1314" y2="1327.6" stroke="#555" stroke-width="1.2" />
<line x1="1309" y1="1327.6" x2="1309" y2="1736.2" stroke="#555" stroke-width="2" />
<line x1="1308" y1="1735.2" x2="1825.2" y2="1735.2" stroke="#555" stroke-width="2" />
<line x1="1595.8" y1="1327.6" x2="1595.8" y2="1735.2" stroke="#8a8a8a" stroke-width="2.2" />
<line x1="1309" y1="1508.8" x2="1825.2" y2="1508.8" stroke="#555" stroke-width="1.3" />
<line x1="1309" y1="1735.2" x2="1825.2" y2="1327.6" stroke="#000" stroke-width="1.8" stroke-dasharray="11 6"/>
<line x1="1309" y1="1628.4" x2="1825.2" y2="1379.2" stroke="#000" stroke-width="3.6" />
<circle cx="1375.8" cy="1582.6" r="5.8" fill="#77AC30"/>
<circle cx="1452.7" cy="1584.8" r="5.8" fill="#D95319"/>
<circle cx="1452.7" cy="1589.1" r="5.8" fill="#D95319"/>
<circle cx="1463.9" cy="1548.4" r="5.8" fill="#EDB120"/>
<circle cx="1463.9" cy="1564.2" r="5.8" fill="#77AC30"/>
<circle cx="1551.9" cy="1432.7" r="5.8" fill="#EDB120"/>
<circle cx="1551.9" cy="1521.7" r="5.8" fill="#7E2F8E"/>
<circle cx="1551.9" cy="1507.8" r="5.8" fill="#77AC30"/>
<circle cx="1578.3" cy="1502.4" r="5.8" fill="#0072BD"/>
<circle cx="1578.3" cy="1508.3" r="5.8" fill="#D95319"/>
<circle cx="1595.8" cy="1507.4" r="5.8" fill="#7E2F8E"/>
<circle cx="1595.8" cy="1494.5" r="5.8" fill="#77AC30"/>
<circle cx="1595.8" cy="1508.8" r="5.8" fill="#77AC30"/>
<circle cx="1613.8" cy="1506" r="5.8" fill="#0072BD"/>
<circle cx="1640.2" cy="1432.7" r="5.8" fill="#7E2F8E"/>
<circle cx="1640.2" cy="1458.9" r="5.8" fill="#EDB120"/>
<circle cx="1640.2" cy="1463.5" r="5.8" fill="#77AC30"/>
<circle cx="1728.3" cy="1387.6" r="5.8" fill="#7E2F8E"/>
<circle cx="1728.3" cy="1407.3" r="5.8" fill="#7E2F8E"/>
<circle cx="1728.3" cy="1448.3" r="5.8" fill="#77AC30"/>
<circle cx="1767.8" cy="1444.2" r="5.8" fill="#D95319"/>
<circle cx="1816.6" cy="1355.2" r="5.8" fill="#7E2F8E"/>
<circle cx="1816.6" cy="1416.6" r="5.8" fill="#77AC30"/>
<circle cx="1816.6" cy="1444.2" r="5.8" fill="#77AC30"/>
<text x="1297" y="1741.2" font-size="31" text-anchor="end" font-weight="normal" fill="#404040" >0</text>
<text x="1297" y="1695.9" font-size="31" text-anchor="end" font-weight="normal" fill="#404040" >0.2</text>
<text x="1297" y="1650.6" font-size="31" text-anchor="end" font-weight="normal" fill="#404040" >0.4</text>
<text x="1297" y="1605.3" font-size="31" text-anchor="end" font-weight="normal" fill="#404040" >0.6</text>
<text x="1297" y="1560" font-size="31" text-anchor="end" font-weight="normal" fill="#404040" >0.8</text>
<text x="1297" y="1514.8" font-size="31" text-anchor="end" font-weight="normal" fill="#404040" >1</text>
<text x="1297" y="1469.5" font-size="31" text-anchor="end" font-weight="normal" fill="#404040" >1.2</text>
<text x="1297" y="1424.2" font-size="31" text-anchor="end" font-weight="normal" fill="#404040" >1.4</text>
<text x="1297" y="1378.9" font-size="31" text-anchor="end" font-weight="normal" fill="#404040" >1.6</text>
<text x="1297" y="1333.6" font-size="31" text-anchor="end" font-weight="normal" fill="#404040" >1.8</text>
<text x="1362.6" y="1772.2" font-size="31" text-anchor="middle" font-weight="normal" fill="#404040" >0.2</text>
<text x="1476.9" y="1772.2" font-size="31" text-anchor="middle" font-weight="normal" fill="#404040" >0.6</text>
<text x="1595.8" y="1772.2" font-size="31" text-anchor="middle" font-weight="normal" fill="#404040" >1</text>
<text x="1707.7" y="1772.2" font-size="31" text-anchor="middle" font-weight="normal" fill="#404040" >1.4</text>
<text x="1823.4" y="1772.2" font-size="31" text-anchor="middle" font-weight="normal" fill="#404040" >1.8</text>
<text x="1567.6" y="1304.5" font-size="30.4" text-anchor="middle" font-weight="bold" fill="#000" >Sustained Recalibration</text>
<text x="1374" y="1806.5" font-size="30.5" fill="#404040" text-anchor="start">Final experimental gain, <tspan font-style="italic" font-weight="bold">G</tspan><tspan font-style="italic" font-size="17" dy="9">final</tspan></text>
<text x="1196" y="1532" font-size="30.5" fill="#404040" text-anchor="middle" transform="rotate(-90 1196 1532)">Hippocampal gain, <tspan font-style="italic">H</tspan></text>
<text x="1233" y="1532" font-size="30.5" fill="#404040" text-anchor="middle" transform="rotate(-90 1233 1532)">Lap 13-24</text>
<rect x="294.8" y="1965.8" width="34.7" height="54.3" fill="#C875B5"/>
<rect x="294.8" y="2020.1" width="34.7" height="422.5" fill="#0F72B8"/>
<rect x="337.1" y="2330.3" width="34.7" height="14.7" fill="#C875B5"/>
<rect x="337.1" y="2344.9" width="34.7" height="97.7" fill="#0F72B8"/>
<rect x="380.3" y="2417.9" width="34.3" height="4.9" fill="#C875B5"/>
<rect x="380.3" y="2422.8" width="34.3" height="19.8" fill="#0F72B8"/>
<rect x="422.5" y="2429.5" width="34.7" height="4.9" fill="#C875B5"/>
<rect x="422.5" y="2434.4" width="34.7" height="8.2" fill="#0F72B8"/>
<rect x="465.7" y="2436.2" width="34.7" height="2.2" fill="#C875B5"/>
<rect x="465.7" y="2438.4" width="34.7" height="4.2" fill="#0F72B8"/>
<rect x="508.4" y="2436.2" width="34.3" height="6.4" fill="#0F72B8"/>
<rect x="551.6" y="2441.1" width="34.3" height="1.5" fill="#0F72B8"/>
<rect x="593.8" y="2436.2" width="34.7" height="2.2" fill="#C875B5"/>
<rect x="593.8" y="2438.4" width="34.7" height="4.2" fill="#0F72B8"/>
<rect x="636.6" y="2439.7" width="34.7" height="2.2" fill="#C875B5"/>
<rect x="679.3" y="2436.2" width="34.7" height="2.7" fill="#C875B5"/>
<rect x="679.3" y="2438.8" width="34.7" height="3.8" fill="#0F72B8"/>
<rect x="807.4" y="2407.7" width="34.7" height="12.9" fill="#C875B5"/>
<rect x="807.4" y="2420.6" width="34.7" height="22" fill="#0F72B8"/>
<line x1="291.3" y1="1933.3" x2="291.3" y2="2442.6" stroke="#c8c8c8" stroke-width="1.6" />
<line x1="291.3" y1="2442.6" x2="848.8" y2="2442.6" stroke="#a0a0a0" stroke-width="1.5" />
<line x1="291.3" y1="2034.4" x2="295.3" y2="2034.4" stroke="#999" stroke-width="1.2" />
<line x1="291.3" y1="2135.8" x2="295.3" y2="2135.8" stroke="#999" stroke-width="1.2" />
<line x1="291.3" y1="2237.3" x2="295.3" y2="2237.3" stroke="#999" stroke-width="1.2" />
<line x1="291.3" y1="2339.2" x2="295.3" y2="2339.2" stroke="#999" stroke-width="1.2" />
<line x1="291.3" y1="2442.6" x2="291.3" y2="2438.6" stroke="#999" stroke-width="1.2" />
<line x1="376.7" y1="2442.6" x2="376.7" y2="2438.6" stroke="#999" stroke-width="1.2" />
<line x1="462.1" y1="2442.6" x2="462.1" y2="2438.6" stroke="#999" stroke-width="1.2" />
<line x1="547.6" y1="2442.6" x2="547.6" y2="2438.6" stroke="#999" stroke-width="1.2" />
<line x1="633" y1="2442.6" x2="633" y2="2438.6" stroke="#999" stroke-width="1.2" />
<line x1="718.4" y1="2442.6" x2="718.4" y2="2438.6" stroke="#999" stroke-width="1.2" />
<line x1="717.8" y1="2069.1" x2="717.8" y2="2442.6" stroke="#E8202A" stroke-width="3.5" stroke-dasharray="8.6 5.4"/>
<text x="277.3" y="2043.4" font-size="31" text-anchor="end" font-weight="normal" fill="#404040" >200</text>
<text x="277.3" y="2246.3" font-size="31" text-anchor="end" font-weight="normal" fill="#404040" >100</text>
<text x="277.3" y="2442.9" font-size="31" text-anchor="end" font-weight="normal" fill="#404040" >0</text>
<text x="288.1" y="2481.5" font-size="31" text-anchor="middle" font-weight="normal" fill="#404040" >0</text>
<text x="371.8" y="2481.5" font-size="31" text-anchor="middle" font-weight="normal" fill="#404040" >.02</text>
<text x="455.5" y="2481.5" font-size="31" text-anchor="middle" font-weight="normal" fill="#404040" >.04</text>
<text x="538.7" y="2481.5" font-size="31" text-anchor="middle" font-weight="normal" fill="#404040" >.06</text>
<text x="626.8" y="2481.5" font-size="31" text-anchor="middle" font-weight="normal" fill="#404040" >.08</text>
<text x="713.1" y="2481.5" font-size="31" text-anchor="middle" font-weight="normal" fill="#404040" >0.1</text>
<text x="567.1" y="2508.7" font-size="30.5" text-anchor="middle" font-weight="normal" fill="#404040" >Coherence score</text>
<text x="214.3" y="2187" font-size="30.5" text-anchor="middle" font-weight="normal" fill="#404040" transform="rotate(-90 214.3 2187)">Unit counts</text>
<text x="561.8" y="1950.3" font-size="30.4" text-anchor="middle" font-weight="bold" fill="#000" >Population coherence in Epoch 4</text>
<rect x="500.4" y="2017" width="25.8" height="15.1" fill="#C875B5"/>
<rect x="500.4" y="2043.3" width="25.8" height="14.2" fill="#0F72B8"/>
<text x="532.9" y="2032.1" font-size="30.5" text-anchor="start" font-weight="normal" fill="#111" >No landmark control</text>
<text x="532.9" y="2059.7" font-size="30.5" text-anchor="start" font-weight="normal" fill="#111" >Landmark control</text>
<rect x="756.7" y="2439.6" width="17" height="6" fill="#fff"/>
<path transform="translate(760.6 2439.6)" d="M-2.9 -12.3 C1.5 -12.3 4.5 -9 3.3 -5.9 C2.5 -3 -2.5 3 -2.9 5.9 C-3.3 9 -1 12 1.6 12" fill="none" stroke="#000" stroke-width="2.7" stroke-linecap="round"/>
<path transform="translate(770.4 2439.6)" d="M-2.9 -12.3 C1.5 -12.3 4.5 -9 3.3 -5.9 C2.5 -3 -2.5 3 -2.9 5.9 C-3.3 9 -1 12 1.6 12" fill="none" stroke="#000" stroke-width="2.7" stroke-linecap="round"/>
</svg>
</body></html>
